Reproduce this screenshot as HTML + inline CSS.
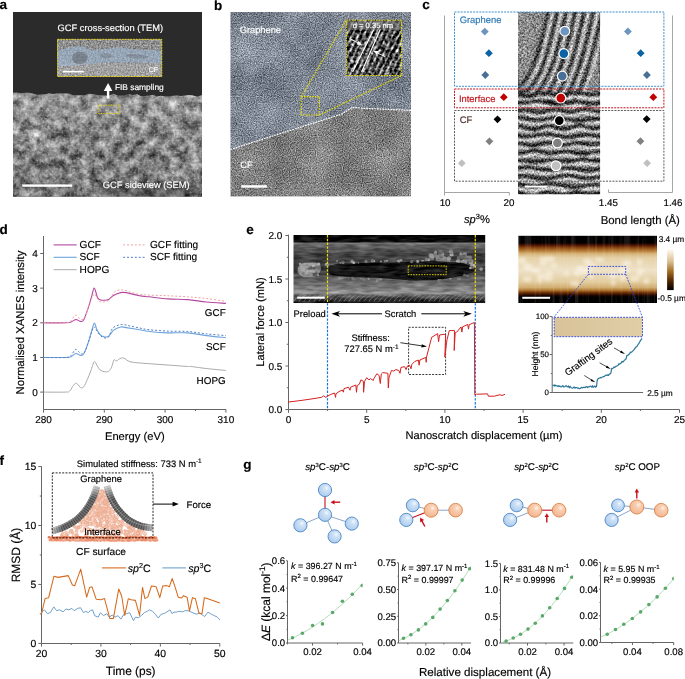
<!DOCTYPE html><html><head><meta charset="utf-8"><title>Figure</title><style>html,body{margin:0;padding:0;background:#fff;}svg{display:block;font-family:"Liberation Sans",sans-serif;text-rendering:geometricPrecision;will-change:transform;}</style></head><body><svg width="685" height="679" viewBox="0 0 685 679"><defs><clipPath id="cA"><path d="M13,92.87 L17,92.6 L21,93.36 L25,92.83 L29,92.67 L33,93.53 L37,94.82 L41,94.59 L45,94.56 L49,93.31 L53,94.12 L57,93.55 L61,93.35 L65,93.24 L69,93.56 L73,95.32 L77,95.14 L81,95.14 L85,95.17 L89,93.77 L93,94.1 L97,94.92 L101,95.22 L105,95.57 L109,95.68 L113,93.83 L117,95.13 L121,95.34 L125,95 L129,94.26 L133,95.02 L137,94.15 L141,96.24 L145,96.12 L149,95.41 L153,94.87 L157,96.39 L161,95.63 L165,96.43 L169,96.4 L173,95.64 L177,95.46 L181,95.96 L185,95.61 L189,95.02 L193,95.41 L197,96.68 L202,94.89 L202,196.5 L13,196.5 Z"/></clipPath><filter id="fSemA" filterUnits="userSpaceOnUse" x="13" y="90" width="189" height="107" color-interpolation-filters="sRGB"><feTurbulence type="fractalNoise" baseFrequency="0.1" numOctaves="3" seed="7" result="a"/><feTurbulence type="fractalNoise" baseFrequency="0.35" numOctaves="2" seed="3" result="b"/><feComposite in="a" in2="b" operator="arithmetic" k2="0.75" k3="0.25" result="c"/><feColorMatrix in="c" type="matrix" values="1.4 0 0 0 -0.22 1.4 0 0 0 -0.22 1.4 0 0 0 -0.22 0 0 0 0 1"/></filter><filter id="fSemA2" color-interpolation-filters="sRGB" filterUnits="userSpaceOnUse" x="13" y="90" width="189" height="107"><feTurbulence type="fractalNoise" baseFrequency="0.5" numOctaves="2" seed="11"/><feColorMatrix type="matrix" values="0 0 0 0 1 0 0 0 0 1 0 0 0 0 1 2.2 0 0 0 -1.05"/></filter><linearGradient id="gSemA" x1="0" y1="0" x2="0" y2="1"><stop offset="0" stop-color="#fff" stop-opacity="0.25"/><stop offset="0.35" stop-color="#fff" stop-opacity="0.05"/><stop offset="1" stop-color="#000" stop-opacity="0.1"/></linearGradient><filter id="fTemA" filterUnits="userSpaceOnUse" x="57.6" y="39.3" width="104.2" height="37.2" color-interpolation-filters="sRGB"><feTurbulence type="fractalNoise" baseFrequency="0.6" numOctaves="2" seed="3"/><feColorMatrix type="matrix" values="0.6 0 0 0 0.26 0.6 0 0 0 0.26 0.6 0 0 0 0.26 0 0 0 0 1"/></filter><clipPath id="cBu"><path d="M230.6,12 L411,12 L411,110.4 L390,109.4 L366.7,108.4 L352,107.4 L346,111.5 L341,114.3 L320,121 L290,130.5 L260,140 L230.6,149.5 Z"/></clipPath><clipPath id="cBl"><path d="M230.6,149.5 L260,140 L290,130.5 L320,121 L341,114.3 L346,111.5 L352,107.4 L366.7,108.4 L390,109.4 L411,110.4 L411,196.2 L230.6,196.2 Z"/></clipPath><filter id="fBu" filterUnits="userSpaceOnUse" x="230.6" y="12" width="180.4" height="184.2" color-interpolation-filters="sRGB"><feTurbulence type="fractalNoise" baseFrequency="0.85" numOctaves="2" seed="5"/><feColorMatrix type="matrix" values="0.9 0 0 0 0.04 0.9 0 0 0 0.08 0.9 0 0 0 0.14 0 0 0 0 1"/></filter><filter id="fBl" filterUnits="userSpaceOnUse" x="230.6" y="12" width="180.4" height="184.2" color-interpolation-filters="sRGB"><feTurbulence type="fractalNoise" baseFrequency="0.85" numOctaves="2" seed="9"/><feColorMatrix type="matrix" values="0.95 0 0 0 0.03 0.95 0 0 0 0.03 0.95 0 0 0 0.03 0 0 0 0 1"/></filter><filter id="fBc" filterUnits="userSpaceOnUse" x="230.6" y="12" width="180.4" height="184.2" color-interpolation-filters="sRGB"><feTurbulence type="fractalNoise" baseFrequency="0.03" numOctaves="3" seed="2"/><feColorMatrix type="matrix" values="1.2 0 0 0 -0.1 1.2 0 0 0 -0.1 1.2 0 0 0 -0.1 0 0 0 0 1"/></filter><clipPath id="cBi"><rect x="346.3" y="20.2" width="55.30000000000001" height="55.3"/></clipPath><filter id="fBi" filterUnits="userSpaceOnUse" x="346.3" y="20.2" width="55.3" height="55.3" color-interpolation-filters="sRGB"><feGaussianBlur in="SourceGraphic" stdDeviation="0.7" result="bl"/><feTurbulence type="fractalNoise" baseFrequency="0.3" numOctaves="2" seed="13" result="n"/><feColorMatrix in="n" type="matrix" values="1 0 0 0 0 1 0 0 0 0 1 0 0 0 0 0 0 0 0 1" result="ng"/><feComposite in="bl" in2="ng" operator="arithmetic" k1="0" k2="1" k3="1.4" k4="-0.7" result="c"/><feComposite in="c" in2="SourceAlpha" operator="in"/></filter><clipPath id="cC"><rect x="518" y="12.1" width="82.10000000000002" height="182.20000000000002"/></clipPath><filter id="fC" filterUnits="userSpaceOnUse" x="518" y="12.1" width="82.1" height="182.2" color-interpolation-filters="sRGB"><feGaussianBlur in="SourceGraphic" stdDeviation="0.8" result="bl"/><feTurbulence type="fractalNoise" baseFrequency="0.55" numOctaves="2" seed="21" result="n"/><feColorMatrix in="n" type="matrix" values="1 0 0 0 0 1 0 0 0 0 1 0 0 0 0 0 0 0 0 1" result="ng"/><feComposite in="bl" in2="ng" operator="arithmetic" k1="0" k2="1" k3="1.1" k4="-0.55" result="c"/><feComposite in="c" in2="SourceAlpha" operator="in"/></filter><filter id="fC2" filterUnits="userSpaceOnUse" x="518" y="12.1" width="82.1" height="182.2" color-interpolation-filters="sRGB"><feTurbulence type="fractalNoise" baseFrequency="0.09" numOctaves="3" seed="8"/><feColorMatrix type="matrix" values="1 0 0 0 0 1 0 0 0 0 1 0 0 0 0 0 0 0 0 1"/></filter><clipPath id="cE"><rect x="293.5" y="235" width="191.7" height="68.19999999999999"/></clipPath><filter id="fE" filterUnits="userSpaceOnUse" x="293.5" y="235" width="191.7" height="68.2" color-interpolation-filters="sRGB"><feGaussianBlur in="SourceGraphic" stdDeviation="0.5" result="bl"/><feTurbulence type="fractalNoise" baseFrequency="0.07 0.3" numOctaves="2" seed="31" result="n"/><feColorMatrix in="n" type="matrix" values="1 0 0 0 0 1 0 0 0 0 1 0 0 0 0 0 0 0 0 1" result="ng"/><feComposite in="bl" in2="ng" operator="arithmetic" k1="0" k2="1" k3="0.4" k4="-0.2" result="c"/><feComposite in="c" in2="SourceAlpha" operator="in"/></filter><linearGradient id="gE" x1="0" y1="0" x2="0" y2="1"><stop offset="0" stop-color="#080808"/><stop offset="0.1" stop-color="#0c0c0c"/><stop offset="0.12" stop-color="#7a7a7a"/><stop offset="0.14" stop-color="#6a6a6a"/><stop offset="0.22" stop-color="#505050"/><stop offset="0.32" stop-color="#3e3e3e"/><stop offset="0.4" stop-color="#474747"/><stop offset="0.51" stop-color="#3c3c3c"/><stop offset="0.63" stop-color="#5e5e5e"/><stop offset="0.73" stop-color="#6e6e6e"/><stop offset="0.82" stop-color="#868686"/><stop offset="0.85" stop-color="#9a9a9a"/><stop offset="0.89" stop-color="#5a5a5a"/><stop offset="0.95" stop-color="#2a2a2a"/><stop offset="1" stop-color="#151515"/></linearGradient><linearGradient id="gAfm" x1="0" y1="0" x2="0" y2="1"><stop offset="0" stop-color="#000"/><stop offset="0.11" stop-color="#050000"/><stop offset="0.14" stop-color="#4a1000"/><stop offset="0.18" stop-color="#8a4510"/><stop offset="0.23" stop-color="#b8803a"/><stop offset="0.27" stop-color="#d6b47a"/><stop offset="0.33" stop-color="#e4d0a6"/><stop offset="0.51" stop-color="#eee2c8"/><stop offset="0.69" stop-color="#e2cc9e"/><stop offset="0.77" stop-color="#d0ac70"/><stop offset="0.81" stop-color="#b07a34"/><stop offset="0.84" stop-color="#7a3a08"/><stop offset="0.88" stop-color="#2a0800"/><stop offset="0.91" stop-color="#000"/><stop offset="1" stop-color="#000"/></linearGradient><clipPath id="cAfm"><rect x="518.2" y="235.6" width="138.79999999999995" height="67.4"/></clipPath><filter id="fAfm" filterUnits="userSpaceOnUse" x="518.2" y="235.6" width="138.79999999999995" height="67.4" color-interpolation-filters="sRGB"><feTurbulence type="fractalNoise" baseFrequency="0.35 0.015" numOctaves="2" seed="4"/><feColorMatrix type="matrix" values="0 0 0 0 1 0 0 0 0 0.96 0 0 0 0 0.88 2.2 0 0 0 -1.0"/></filter><filter id="fBlob" x="-50%" y="-50%" width="200%" height="200%"><feGaussianBlur stdDeviation="1.6"/></filter><linearGradient id="gCb" x1="0" y1="0" x2="0" y2="1"><stop offset="0" stop-color="#fffaf0"/><stop offset="0.3" stop-color="#d8bf90"/><stop offset="0.55" stop-color="#a06a20"/><stop offset="0.8" stop-color="#4a2000"/><stop offset="1" stop-color="#000"/></linearGradient><linearGradient id="gTan" x1="0" y1="0" x2="1" y2="0"><stop offset="0" stop-color="#d8c39a"/><stop offset="1" stop-color="#e0cea6"/></linearGradient><filter id="fCf" x="-10%" y="-50%" width="120%" height="200%"><feGaussianBlur stdDeviation="0.5"/></filter><linearGradient id="gFadeV" x1="0" y1="480" x2="0" y2="498" gradientUnits="userSpaceOnUse"><stop offset="0" stop-color="#fff" stop-opacity="0"/><stop offset="1" stop-color="#fff" stop-opacity="1"/></linearGradient><linearGradient id="gFadeH" x1="50" y1="0" x2="155" y2="0" gradientUnits="userSpaceOnUse"><stop offset="0" stop-color="#fff" stop-opacity="0.35"/><stop offset="0.12" stop-color="#fff" stop-opacity="1"/><stop offset="0.88" stop-color="#fff" stop-opacity="1"/><stop offset="1" stop-color="#fff" stop-opacity="0.35"/></linearGradient><mask id="mBand" maskUnits="userSpaceOnUse" x="40" y="470" width="130" height="80"><rect x="40" y="470" width="130" height="80" fill="url(#gFadeV)"/></mask><mask id="mBand2" maskUnits="userSpaceOnUse" x="40" y="470" width="130" height="80"><rect x="40" y="470" width="130" height="80" fill="url(#gFadeH)"/></mask><radialGradient id="sB" cx="0.62" cy="0.35" r="0.75"><stop offset="0" stop-color="#f4f9ff"/><stop offset="0.25" stop-color="#cfe2f6"/><stop offset="1" stop-color="#a5c8ec"/></radialGradient><radialGradient id="sO" cx="0.62" cy="0.35" r="0.75"><stop offset="0" stop-color="#fff3ea"/><stop offset="0.25" stop-color="#f9cfb2"/><stop offset="1" stop-color="#f2b08a"/></radialGradient><clipPath id="cG0"><rect x="287.5" y="555.8" width="75.1" height="87.2"/></clipPath><clipPath id="cG1"><rect x="398.5" y="557.8" width="72.5" height="85.2"/></clipPath><clipPath id="cG2"><rect x="500.5" y="558.4" width="72.7" height="84.6"/></clipPath><clipPath id="cG3"><rect x="600.5" y="557.4" width="73.2" height="85.1"/></clipPath></defs><text x="-0.5" y="9.3" font-size="13.5" font-weight="bold" stroke="#000" stroke-width="0.16">a</text>
<rect x="13" y="12" width="189" height="184.5" fill="#2b2b2b"/>
<g clip-path="url(#cA)"><rect x="13" y="90" width="189" height="107" filter="url(#fSemA)"/><rect x="13" y="90" width="189" height="107" filter="url(#fSemA2)" opacity="0.35"/><rect x="13" y="90" width="189" height="107" fill="url(#gSemA)"/><ellipse cx="150" cy="189" rx="50" ry="8" fill="#222" opacity="0.3" filter="url(#fBlob)"/></g>
<rect x="57.6" y="39.3" width="104.20000000000002" height="37.2" filter="url(#fTemA)"/>
<rect x="57.6" y="63" width="104.20000000000002" height="13.5" fill="#fff" opacity="0.16"/>
<path d="M57.6,50.5 L62,49 L67,48 L72,47 L78,46.5 L84,47 L88,49 L92,50 L97,49.5 L102,49 L108,48.5 L114,47.5 L120,47.5 L126,48.5 L132,49 L140,49.5 L150,50 L161.8,50.5 L161.8,63.5 L150,63 L140,62.5 L130,62.5 L120,62.5 L110,62.5 L100,63 L90,64 L80,65 L70,66 L62,66 L57.6,66 Z" fill="#9fbde0" opacity="0.5"/>
<ellipse cx="79.8" cy="58" rx="7.5" ry="6.2" fill="#4a4a4a" opacity="0.4"/>
<path d="M125,55 C132,53 140,54 148,56 C150,58 144,59 138,58.5 C132,58 127,57.5 125,55 Z" fill="#555" opacity="0.3"/>
<path d="M100,54 C104,52 110,53 113,56 C110,59 104,59 100,57 Z" fill="#555" opacity="0.25"/>
<rect x="57.6" y="39.3" width="104.20000000000002" height="37.2" fill="none" stroke="#e8d200" stroke-width="1" stroke-dasharray="1.6,1.2"/>
<rect x="63" y="70.8" width="20.6" height="1.6" fill="#fff"/>
<text x="153.4" y="72.3" font-size="6.8" text-anchor="middle" fill="#fff" stroke="#fff" stroke-width="0.16">CF</text>
<text x="110.3" y="30.9" font-size="9.3" text-anchor="middle" fill="#fff" stroke="#fff" stroke-width="0.16">GCF cross-section (TEM)</text>
<path d="M106.9,91 L106.9,98.5 L109.3,98.5 L109.3,91 L112.4,91 L108.1,83 L103.8,91 Z" fill="#fff"/>
<text x="114.9" y="89.7" font-size="8.4" fill="#fff" stroke="#fff" stroke-width="0.16">FIB sampling</text>
<rect x="98.2" y="105.2" width="21.6" height="8.3" fill="none" stroke="#e8d200" stroke-width="0.9" stroke-dasharray="1.4,1.1"/>
<rect x="22.3" y="184.4" width="49.9" height="2.4" fill="#fff"/>
<text x="146.2" y="187.8" font-size="9.3" text-anchor="middle" fill="#fff" stroke="#fff" stroke-width="0.16">GCF sideview (SEM)</text>
<text x="214" y="9.6" font-size="13.5" font-weight="bold" stroke="#000" stroke-width="0.16">b</text>
<g clip-path="url(#cBu)"><rect x="230.6" y="12" width="180.4" height="184.2" filter="url(#fBu)"/></g>
<g clip-path="url(#cBl)"><rect x="230.6" y="12" width="180.4" height="184.2" filter="url(#fBl)"/></g>
<rect x="230.6" y="12" width="180.4" height="184.2" filter="url(#fBc)" opacity="0.2"/>
<path d="M230.6,149.5 L260,140 L290,130.5 L320,121 L341,114.3 L346,111.5 L352,107.4 L366.7,108.4 L390,109.4 L411,110.4" fill="none" stroke="#fff" stroke-width="1.2" stroke-dasharray="1.6,1.1"/>
<rect x="301.3" y="96.6" width="18.1" height="18.4" fill="none" stroke="#e8e000" stroke-width="1.1" stroke-dasharray="1.6,1.1"/>
<path d="M301.3,96.6 L346.3,20.2 M319.4,115 L401.6,75.5" fill="none" stroke="#e8e000" stroke-width="1.1" stroke-dasharray="1.6,1.1"/>
<g clip-path="url(#cBi)"><g filter="url(#fBi)"><rect x="346.3" y="20.2" width="55.30000000000001" height="55.3" fill="#5a5a5a"/><line x1="273.8" y1="82" x2="307.8" y2="14" stroke="#282828" stroke-width="2.6"/><line x1="276.7" y1="82" x2="310.7" y2="14" stroke="#9a9a9a" stroke-width="1.5"/><line x1="279.6" y1="82" x2="313.6" y2="14" stroke="#282828" stroke-width="2.6"/><line x1="282.5" y1="82" x2="316.5" y2="14" stroke="#9a9a9a" stroke-width="1.5"/><line x1="285.4" y1="82" x2="319.4" y2="14" stroke="#282828" stroke-width="2.6"/><line x1="288.3" y1="82" x2="322.3" y2="14" stroke="#9a9a9a" stroke-width="1.5"/><line x1="291.2" y1="82" x2="325.2" y2="14" stroke="#282828" stroke-width="2.6"/><line x1="294.1" y1="82" x2="328.1" y2="14" stroke="#9a9a9a" stroke-width="1.5"/><line x1="297" y1="82" x2="331" y2="14" stroke="#282828" stroke-width="2.6"/><line x1="299.9" y1="82" x2="333.9" y2="14" stroke="#9a9a9a" stroke-width="1.5"/><line x1="302.8" y1="82" x2="336.8" y2="14" stroke="#282828" stroke-width="2.6"/><line x1="305.7" y1="82" x2="339.7" y2="14" stroke="#9a9a9a" stroke-width="1.5"/><line x1="308.6" y1="82" x2="342.6" y2="14" stroke="#282828" stroke-width="2.6"/><line x1="311.5" y1="82" x2="345.5" y2="14" stroke="#9a9a9a" stroke-width="1.5"/><line x1="314.4" y1="82" x2="348.4" y2="14" stroke="#282828" stroke-width="2.6"/><line x1="317.3" y1="82" x2="351.3" y2="14" stroke="#9a9a9a" stroke-width="1.5"/><line x1="320.2" y1="82" x2="354.2" y2="14" stroke="#282828" stroke-width="2.6"/><line x1="323.1" y1="82" x2="357.1" y2="14" stroke="#9a9a9a" stroke-width="1.5"/><line x1="326" y1="82" x2="360" y2="14" stroke="#282828" stroke-width="2.6"/><line x1="328.9" y1="82" x2="362.9" y2="14" stroke="#9a9a9a" stroke-width="1.5"/><line x1="331.8" y1="82" x2="365.8" y2="14" stroke="#282828" stroke-width="2.6"/><line x1="334.7" y1="82" x2="368.7" y2="14" stroke="#9a9a9a" stroke-width="1.5"/><line x1="337.6" y1="82" x2="371.6" y2="14" stroke="#282828" stroke-width="2.6"/><line x1="340.5" y1="82" x2="374.5" y2="14" stroke="#9a9a9a" stroke-width="1.5"/><line x1="343.4" y1="82" x2="377.4" y2="14" stroke="#282828" stroke-width="2.6"/><line x1="346.3" y1="82" x2="380.3" y2="14" stroke="#9a9a9a" stroke-width="1.5"/><line x1="349.2" y1="82" x2="383.2" y2="14" stroke="#282828" stroke-width="2.6"/><line x1="352.1" y1="82" x2="386.1" y2="14" stroke="#9a9a9a" stroke-width="1.5"/><line x1="355" y1="82" x2="389" y2="14" stroke="#282828" stroke-width="2.6"/><line x1="357.9" y1="82" x2="391.9" y2="14" stroke="#9a9a9a" stroke-width="1.5"/><line x1="360.8" y1="82" x2="394.8" y2="14" stroke="#282828" stroke-width="2.6"/><line x1="363.7" y1="82" x2="397.7" y2="14" stroke="#9a9a9a" stroke-width="1.5"/><line x1="366.6" y1="82" x2="400.6" y2="14" stroke="#282828" stroke-width="2.6"/><line x1="369.5" y1="82" x2="403.5" y2="14" stroke="#9a9a9a" stroke-width="1.5"/><line x1="372.4" y1="82" x2="406.4" y2="14" stroke="#282828" stroke-width="2.6"/><line x1="375.3" y1="82" x2="409.3" y2="14" stroke="#9a9a9a" stroke-width="1.5"/><line x1="378.2" y1="82" x2="412.2" y2="14" stroke="#282828" stroke-width="2.6"/><line x1="381.1" y1="82" x2="415.1" y2="14" stroke="#9a9a9a" stroke-width="1.5"/><line x1="384" y1="82" x2="418" y2="14" stroke="#282828" stroke-width="2.6"/><line x1="386.9" y1="82" x2="420.9" y2="14" stroke="#9a9a9a" stroke-width="1.5"/><line x1="389.8" y1="82" x2="423.8" y2="14" stroke="#282828" stroke-width="2.6"/><line x1="392.7" y1="82" x2="426.7" y2="14" stroke="#9a9a9a" stroke-width="1.5"/><line x1="395.6" y1="82" x2="429.6" y2="14" stroke="#282828" stroke-width="2.6"/><line x1="398.5" y1="82" x2="432.5" y2="14" stroke="#9a9a9a" stroke-width="1.5"/><line x1="401.4" y1="82" x2="435.4" y2="14" stroke="#282828" stroke-width="2.6"/><line x1="404.3" y1="82" x2="438.3" y2="14" stroke="#9a9a9a" stroke-width="1.5"/><line x1="407.2" y1="82" x2="441.2" y2="14" stroke="#282828" stroke-width="2.6"/><line x1="410.1" y1="82" x2="444.1" y2="14" stroke="#9a9a9a" stroke-width="1.5"/><line x1="413" y1="82" x2="447" y2="14" stroke="#282828" stroke-width="2.6"/><line x1="415.9" y1="82" x2="449.9" y2="14" stroke="#9a9a9a" stroke-width="1.5"/><line x1="418.8" y1="82" x2="452.8" y2="14" stroke="#282828" stroke-width="2.6"/><line x1="421.7" y1="82" x2="455.7" y2="14" stroke="#9a9a9a" stroke-width="1.5"/><line x1="424.6" y1="82" x2="458.6" y2="14" stroke="#282828" stroke-width="2.6"/><line x1="427.5" y1="82" x2="461.5" y2="14" stroke="#9a9a9a" stroke-width="1.5"/><line x1="430.4" y1="82" x2="464.4" y2="14" stroke="#282828" stroke-width="2.6"/><line x1="433.3" y1="82" x2="467.3" y2="14" stroke="#9a9a9a" stroke-width="1.5"/><line x1="436.2" y1="82" x2="470.2" y2="14" stroke="#282828" stroke-width="2.6"/><line x1="439.1" y1="82" x2="473.1" y2="14" stroke="#9a9a9a" stroke-width="1.5"/><line x1="442" y1="82" x2="476" y2="14" stroke="#282828" stroke-width="2.6"/><line x1="444.9" y1="82" x2="478.9" y2="14" stroke="#9a9a9a" stroke-width="1.5"/><circle cx="380.75" cy="61.22" r="1.95" fill="#666" opacity="0.55"/><circle cx="382.36" cy="49.51" r="2.01" fill="#111" opacity="0.55"/><circle cx="382.19" cy="70.02" r="1.14" fill="#ddd" opacity="0.55"/><circle cx="394.33" cy="41.26" r="1.12" fill="#111" opacity="0.55"/><circle cx="347.03" cy="32.19" r="1.34" fill="#ddd" opacity="0.55"/><circle cx="355.13" cy="64.28" r="1.17" fill="#666" opacity="0.55"/><circle cx="370.9" cy="27.51" r="2.17" fill="#111" opacity="0.55"/><circle cx="357.88" cy="32.12" r="2.18" fill="#111" opacity="0.55"/><circle cx="362.3" cy="73.37" r="1.65" fill="#666" opacity="0.55"/><circle cx="380.9" cy="30.25" r="2.16" fill="#111" opacity="0.55"/><circle cx="399.75" cy="69.62" r="1.36" fill="#ddd" opacity="0.55"/><circle cx="369.24" cy="71.95" r="1.32" fill="#ddd" opacity="0.55"/><circle cx="362.97" cy="53.55" r="1" fill="#666" opacity="0.55"/><circle cx="385.43" cy="23.85" r="1.43" fill="#ddd" opacity="0.55"/><circle cx="372.89" cy="37.66" r="1.58" fill="#666" opacity="0.55"/><circle cx="356.04" cy="34.37" r="2.13" fill="#666" opacity="0.55"/><circle cx="366.08" cy="42.56" r="1.66" fill="#ddd" opacity="0.55"/><circle cx="366.55" cy="52.19" r="1.01" fill="#111" opacity="0.55"/><circle cx="385.44" cy="54.69" r="2.15" fill="#111" opacity="0.55"/><circle cx="388.09" cy="71.61" r="2.13" fill="#ddd" opacity="0.55"/><circle cx="374.64" cy="69.57" r="1.3" fill="#ddd" opacity="0.55"/><circle cx="352.28" cy="61.59" r="1.96" fill="#ddd" opacity="0.55"/><circle cx="348.33" cy="72.5" r="1.11" fill="#ddd" opacity="0.55"/><circle cx="374.66" cy="40.25" r="1.18" fill="#ddd" opacity="0.55"/><circle cx="397.41" cy="50.35" r="1.37" fill="#ddd" opacity="0.55"/><circle cx="363.23" cy="64.37" r="1.75" fill="#666" opacity="0.55"/><circle cx="384.41" cy="75.32" r="1.19" fill="#111" opacity="0.55"/><circle cx="350.78" cy="53.42" r="2.11" fill="#111" opacity="0.55"/><circle cx="359.42" cy="53.05" r="1.99" fill="#ddd" opacity="0.55"/><circle cx="382.3" cy="28.25" r="2.17" fill="#666" opacity="0.55"/><circle cx="348.11" cy="47.49" r="2.01" fill="#111" opacity="0.55"/><circle cx="400.57" cy="51.39" r="1.16" fill="#ddd" opacity="0.55"/><circle cx="352.2" cy="44.23" r="1.18" fill="#ddd" opacity="0.55"/><circle cx="362.6" cy="45.26" r="2.2" fill="#111" opacity="0.55"/><circle cx="400.27" cy="45.28" r="1.59" fill="#666" opacity="0.55"/><circle cx="363.87" cy="35.35" r="1.56" fill="#111" opacity="0.55"/><circle cx="352.52" cy="65.66" r="1.64" fill="#111" opacity="0.55"/><circle cx="380.97" cy="47.81" r="1.41" fill="#111" opacity="0.55"/><circle cx="373.5" cy="48.69" r="1.66" fill="#666" opacity="0.55"/><circle cx="366.28" cy="63.67" r="1.93" fill="#666" opacity="0.55"/></g></g>
<g clip-path="url(#cBi)"><line x1="352.6" y1="72" x2="374.3" y2="28.6" stroke="#fff" stroke-width="1.2"/><line x1="361.6" y1="72" x2="380.4" y2="29" stroke="#fff" stroke-width="1.2"/></g>
<rect x="346.3" y="20.2" width="55.30000000000001" height="55.3" fill="none" stroke="#e8e000" stroke-width="1.1" stroke-dasharray="1.6,1.1"/>
<rect x="346.90000000000003" y="20.8" width="54.10000000000001" height="9" fill="#7a7a7a" opacity="0.6"/>
<text x="372.9" y="27.8" font-size="7.6" text-anchor="middle" fill="#fff" stroke="#fff" stroke-width="0.16">d = 0.35 nm</text>
<path d="M349.7,38.5 L358.8,43.4" stroke="#fff" stroke-width="0.9"/><path d="M362,45.1 L356.6,44.6 L358.6,41 Z" fill="#fff"/>
<path d="M385.5,56.9 L376.4,52.4" stroke="#fff" stroke-width="0.9"/><path d="M373.2,50.8 L378.6,51.1 L376.8,54.7 Z" fill="#fff"/>
<text x="239.7" y="32.7" font-size="9.3" fill="#fff" stroke="#fff" stroke-width="0.16">Graphene</text>
<text x="240.3" y="168.4" font-size="9.3" fill="#fff" stroke="#fff" stroke-width="0.16">CF</text>
<rect x="241.3" y="185.2" width="25.6" height="2.5" fill="#fff"/>
<text x="422.3" y="9.3" font-size="13.5" font-weight="bold" stroke="#000" stroke-width="0.16">c</text>
<g clip-path="url(#cC)"><g filter="url(#fC)"><rect x="518" y="12.1" width="82.10000000000002" height="182.20000000000002" fill="#8a8a8a"/><path d="M549,8 C541,45 535,70 523,83 S498,87 473,89" fill="none" stroke="#1a1a1a" stroke-width="3"/><path d="M553.5,8 C545.5,45 539.5,70 527.5,86 S503,90 478,92" fill="none" stroke="#e4e4e4" stroke-width="2.6"/><path d="M558,8 C550,45 544,70 532,85 S507,89 482,91" fill="none" stroke="#1a1a1a" stroke-width="3"/><path d="M562.5,8 C554.5,45 548.5,70 536.5,88 S512,92 487,94" fill="none" stroke="#e4e4e4" stroke-width="2.6"/><path d="M567,8 C559,45 553,70 541,87 S516,91 491,93" fill="none" stroke="#1a1a1a" stroke-width="3"/><path d="M571.5,8 C563.5,45 557.5,70 545.5,90 S521,94 496,96" fill="none" stroke="#e4e4e4" stroke-width="2.6"/><path d="M576,8 C568,45 562,70 550,89 S525,93 500,95" fill="none" stroke="#1a1a1a" stroke-width="3"/><path d="M580.5,8 C572.5,45 566.5,70 554.5,92 S530,96 505,98" fill="none" stroke="#e4e4e4" stroke-width="2.6"/><path d="M585,8 C577,45 571,70 559,91 S534,95 509,97" fill="none" stroke="#1a1a1a" stroke-width="3"/><path d="M589.5,8 C581.5,45 575.5,70 563.5,94 S539,98 514,100" fill="none" stroke="#e4e4e4" stroke-width="2.6"/><path d="M594,8 C586,45 580,70 568,93 S543,97 518,99" fill="none" stroke="#1a1a1a" stroke-width="3"/><path d="M598.5,8 C590.5,45 584.5,70 572.5,96 S548,100 523,102" fill="none" stroke="#e4e4e4" stroke-width="2.6"/><path d="M603,8 C595,45 589,70 577,95 S552,99 527,101" fill="none" stroke="#1a1a1a" stroke-width="3"/><path d="M607.5,8 C599.5,45 593.5,70 581.5,98 S557,102 532,104" fill="none" stroke="#e4e4e4" stroke-width="2.6"/><path d="M512,93.59 C512.67,93.64 514.67,93.68 516,93.84 C517.33,94.01 518.67,94.33 520,94.57 C521.33,94.81 522.67,95.14 524,95.31 C525.33,95.48 526.67,95.62 528,95.61 C529.33,95.59 530.67,95.44 532,95.24 C533.33,95.04 534.67,94.69 536,94.4 C537.33,94.12 538.67,93.75 540,93.54 C541.33,93.32 542.67,93.15 544,93.12 C545.33,93.08 546.67,93.19 548,93.35 C549.33,93.51 550.67,93.82 552,94.07 C553.33,94.31 554.67,94.64 556,94.82 C557.33,94.99 558.67,95.13 560,95.12 C561.33,95.12 562.67,94.98 564,94.78 C565.33,94.58 566.67,94.23 568,93.94 C569.33,93.66 570.67,93.29 572,93.07 C573.33,92.86 574.67,92.67 576,92.64 C577.33,92.6 578.67,92.7 580,92.85 C581.33,93.01 582.67,93.32 584,93.56 C585.33,93.81 586.67,94.14 588,94.32 C589.33,94.5 590.67,94.64 592,94.64 C593.33,94.64 594.67,94.51 596,94.31 C597.33,94.12 598.67,93.77 600,93.49 C601.33,93.2 603.33,92.76 604,92.61" fill="none" stroke="#0c0c0c" stroke-width="3.3"/><path d="M512,97.79 C512.67,97.84 514.67,97.88 516,98.04 C517.33,98.21 518.67,98.53 520,98.77 C521.33,99.01 522.67,99.34 524,99.51 C525.33,99.68 526.67,99.82 528,99.81 C529.33,99.79 530.67,99.64 532,99.44 C533.33,99.24 534.67,98.89 536,98.6 C537.33,98.32 538.67,97.95 540,97.74 C541.33,97.52 542.67,97.35 544,97.32 C545.33,97.28 546.67,97.39 548,97.55 C549.33,97.71 550.67,98.02 552,98.27 C553.33,98.51 554.67,98.84 556,99.02 C557.33,99.19 558.67,99.33 560,99.32 C561.33,99.32 562.67,99.18 564,98.98 C565.33,98.78 566.67,98.43 568,98.14 C569.33,97.86 570.67,97.49 572,97.27 C573.33,97.06 574.67,96.87 576,96.84 C577.33,96.8 578.67,96.9 580,97.05 C581.33,97.21 582.67,97.52 584,97.76 C585.33,98.01 586.67,98.34 588,98.52 C589.33,98.7 590.67,98.84 592,98.84 C593.33,98.84 594.67,98.71 596,98.51 C597.33,98.32 598.67,97.97 600,97.69 C601.33,97.4 603.33,96.96 604,96.81" fill="none" stroke="#f6f6f6" stroke-width="2.7"/><path d="M512,101.58 C512.67,101.68 514.67,102.05 516,102.22 C517.33,102.39 518.67,102.54 520,102.6 C521.33,102.66 522.67,102.63 524,102.56 C525.33,102.48 526.67,102.31 528,102.14 C529.33,101.98 530.67,101.74 532,101.58 C533.33,101.42 534.67,101.24 536,101.16 C537.33,101.07 538.67,101.05 540,101.1 C541.33,101.15 542.67,101.29 544,101.46 C545.33,101.62 546.67,101.88 548,102.1 C549.33,102.31 550.67,102.58 552,102.75 C553.33,102.92 554.67,103.08 556,103.14 C557.33,103.2 558.67,103.18 560,103.11 C561.33,103.03 562.67,102.86 564,102.7 C565.33,102.54 566.67,102.3 568,102.14 C569.33,101.97 570.67,101.79 572,101.71 C573.33,101.62 574.67,101.59 576,101.63 C577.33,101.68 578.67,101.82 580,101.98 C581.33,102.15 582.67,102.4 584,102.62 C585.33,102.84 586.67,103.1 588,103.28 C589.33,103.45 590.67,103.61 592,103.67 C593.33,103.74 594.67,103.72 596,103.65 C597.33,103.59 598.67,103.42 600,103.26 C601.33,103.1 603.33,102.79 604,102.69" fill="none" stroke="#0c0c0c" stroke-width="3.3"/><path d="M512,105.78 C512.67,105.88 514.67,106.25 516,106.42 C517.33,106.59 518.67,106.74 520,106.8 C521.33,106.86 522.67,106.83 524,106.76 C525.33,106.68 526.67,106.51 528,106.34 C529.33,106.18 530.67,105.94 532,105.78 C533.33,105.62 534.67,105.44 536,105.36 C537.33,105.27 538.67,105.25 540,105.3 C541.33,105.35 542.67,105.49 544,105.66 C545.33,105.82 546.67,106.08 548,106.3 C549.33,106.51 550.67,106.78 552,106.95 C553.33,107.12 554.67,107.28 556,107.34 C557.33,107.4 558.67,107.38 560,107.31 C561.33,107.23 562.67,107.06 564,106.9 C565.33,106.74 566.67,106.5 568,106.34 C569.33,106.17 570.67,105.99 572,105.91 C573.33,105.82 574.67,105.79 576,105.83 C577.33,105.88 578.67,106.02 580,106.18 C581.33,106.35 582.67,106.6 584,106.82 C585.33,107.04 586.67,107.3 588,107.48 C589.33,107.65 590.67,107.81 592,107.87 C593.33,107.94 594.67,107.92 596,107.85 C597.33,107.79 598.67,107.62 600,107.46 C601.33,107.3 603.33,106.99 604,106.89" fill="none" stroke="#f6f6f6" stroke-width="2.7"/><path d="M512,112.46 C512.67,112.28 514.67,111.78 516,111.42 C517.33,111.06 518.67,110.56 520,110.28 C521.33,110 522.67,109.76 524,109.73 C525.33,109.7 526.67,109.86 528,110.09 C529.33,110.31 530.67,110.76 532,111.08 C533.33,111.41 534.67,111.83 536,112.04 C537.33,112.24 538.67,112.36 540,112.3 C541.33,112.24 542.67,111.97 544,111.67 C545.33,111.37 546.67,110.86 548,110.5 C549.33,110.14 550.67,109.72 552,109.52 C553.33,109.32 554.67,109.23 556,109.3 C557.33,109.38 558.67,109.67 560,109.96 C561.33,110.25 562.67,110.73 564,111.03 C565.33,111.33 566.67,111.67 568,111.78 C569.33,111.9 570.67,111.87 572,111.7 C573.33,111.54 574.67,111.14 576,110.8 C577.33,110.45 578.67,109.93 580,109.61 C581.33,109.29 582.67,108.97 584,108.87 C585.33,108.77 586.67,108.83 588,109.01 C589.33,109.18 590.67,109.58 592,109.9 C593.33,110.22 594.67,110.68 596,110.93 C597.33,111.18 598.67,111.4 600,111.41 C601.33,111.41 603.33,111.05 604,110.98" fill="none" stroke="#0c0c0c" stroke-width="3.3"/><path d="M512,116.66 C512.67,116.48 514.67,115.98 516,115.62 C517.33,115.26 518.67,114.76 520,114.48 C521.33,114.2 522.67,113.96 524,113.93 C525.33,113.9 526.67,114.06 528,114.29 C529.33,114.51 530.67,114.96 532,115.28 C533.33,115.61 534.67,116.03 536,116.24 C537.33,116.44 538.67,116.56 540,116.5 C541.33,116.44 542.67,116.17 544,115.87 C545.33,115.57 546.67,115.06 548,114.7 C549.33,114.34 550.67,113.92 552,113.72 C553.33,113.52 554.67,113.43 556,113.5 C557.33,113.58 558.67,113.87 560,114.16 C561.33,114.45 562.67,114.93 564,115.23 C565.33,115.53 566.67,115.87 568,115.98 C569.33,116.1 570.67,116.07 572,115.9 C573.33,115.74 574.67,115.34 576,115 C577.33,114.65 578.67,114.13 580,113.81 C581.33,113.49 582.67,113.17 584,113.07 C585.33,112.97 586.67,113.03 588,113.21 C589.33,113.38 590.67,113.78 592,114.1 C593.33,114.42 594.67,114.88 596,115.13 C597.33,115.38 598.67,115.6 600,115.61 C601.33,115.61 603.33,115.25 604,115.18" fill="none" stroke="#f6f6f6" stroke-width="2.7"/><path d="M512,117 C512.67,116.99 514.67,116.9 516,116.95 C517.33,117.01 518.67,117.16 520,117.34 C521.33,117.53 522.67,117.8 524,118.06 C525.33,118.31 526.67,118.63 528,118.87 C529.33,119.12 530.67,119.37 532,119.54 C533.33,119.7 534.67,119.81 536,119.84 C537.33,119.87 538.67,119.81 540,119.7 C541.33,119.59 542.67,119.39 544,119.19 C545.33,118.99 546.67,118.72 548,118.5 C549.33,118.28 550.67,118.04 552,117.88 C553.33,117.73 554.67,117.6 556,117.57 C557.33,117.54 558.67,117.58 560,117.69 C561.33,117.8 562.67,118 564,118.22 C565.33,118.44 566.67,118.74 568,119 C569.33,119.27 570.67,119.57 572,119.79 C573.33,120.01 574.67,120.22 576,120.34 C577.33,120.45 578.67,120.5 580,120.48 C581.33,120.45 582.67,120.33 584,120.18 C585.33,120.03 586.67,119.79 588,119.57 C589.33,119.36 590.67,119.08 592,118.88 C593.33,118.68 594.67,118.47 596,118.36 C597.33,118.24 598.67,118.18 600,118.2 C601.33,118.22 603.33,118.44 604,118.49" fill="none" stroke="#0c0c0c" stroke-width="3.3"/><path d="M512,121.2 C512.67,121.19 514.67,121.1 516,121.15 C517.33,121.21 518.67,121.36 520,121.54 C521.33,121.73 522.67,122 524,122.26 C525.33,122.51 526.67,122.83 528,123.07 C529.33,123.32 530.67,123.57 532,123.74 C533.33,123.9 534.67,124.01 536,124.04 C537.33,124.07 538.67,124.01 540,123.9 C541.33,123.79 542.67,123.59 544,123.39 C545.33,123.19 546.67,122.92 548,122.7 C549.33,122.48 550.67,122.24 552,122.08 C553.33,121.93 554.67,121.8 556,121.77 C557.33,121.74 558.67,121.78 560,121.89 C561.33,122 562.67,122.2 564,122.42 C565.33,122.64 566.67,122.94 568,123.2 C569.33,123.47 570.67,123.77 572,123.99 C573.33,124.21 574.67,124.42 576,124.54 C577.33,124.65 578.67,124.7 580,124.68 C581.33,124.65 582.67,124.53 584,124.38 C585.33,124.23 586.67,123.99 588,123.77 C589.33,123.56 590.67,123.28 592,123.08 C593.33,122.88 594.67,122.67 596,122.56 C597.33,122.44 598.67,122.38 600,122.4 C601.33,122.42 603.33,122.64 604,122.69" fill="none" stroke="#f6f6f6" stroke-width="2.7"/><path d="M512,127.17 C512.67,127 514.67,126.34 516,126.19 C517.33,126.04 518.67,126.07 520,126.25 C521.33,126.44 522.67,126.89 524,127.28 C525.33,127.67 526.67,128.25 528,128.6 C529.33,128.94 530.67,129.27 532,129.34 C533.33,129.41 534.67,129.27 536,129.01 C537.33,128.75 538.67,128.21 540,127.77 C541.33,127.33 542.67,126.73 544,126.37 C545.33,126.01 546.67,125.7 548,125.63 C549.33,125.57 550.67,125.73 552,125.99 C553.33,126.24 554.67,126.77 556,127.17 C557.33,127.58 558.67,128.13 560,128.41 C561.33,128.7 562.67,128.92 564,128.9 C565.33,128.88 566.67,128.61 568,128.28 C569.33,127.96 570.67,127.36 572,126.92 C573.33,126.48 574.67,125.91 576,125.62 C577.33,125.32 578.67,125.13 580,125.15 C581.33,125.18 582.67,125.46 584,125.78 C585.33,126.1 586.67,126.67 588,127.07 C589.33,127.46 590.67,127.96 592,128.17 C593.33,128.39 594.67,128.49 596,128.38 C597.33,128.27 598.67,127.89 600,127.51 C601.33,127.12 603.33,126.31 604,126.07" fill="none" stroke="#0c0c0c" stroke-width="3.3"/><path d="M512,131.37 C512.67,131.2 514.67,130.54 516,130.39 C517.33,130.24 518.67,130.27 520,130.45 C521.33,130.64 522.67,131.09 524,131.48 C525.33,131.87 526.67,132.45 528,132.8 C529.33,133.14 530.67,133.47 532,133.54 C533.33,133.61 534.67,133.47 536,133.21 C537.33,132.95 538.67,132.41 540,131.97 C541.33,131.53 542.67,130.93 544,130.57 C545.33,130.21 546.67,129.9 548,129.83 C549.33,129.77 550.67,129.93 552,130.19 C553.33,130.44 554.67,130.97 556,131.37 C557.33,131.78 558.67,132.33 560,132.61 C561.33,132.9 562.67,133.12 564,133.1 C565.33,133.08 566.67,132.81 568,132.48 C569.33,132.16 570.67,131.56 572,131.12 C573.33,130.68 574.67,130.11 576,129.82 C577.33,129.52 578.67,129.33 580,129.35 C581.33,129.38 582.67,129.66 584,129.98 C585.33,130.3 586.67,130.87 588,131.27 C589.33,131.66 590.67,132.16 592,132.37 C593.33,132.59 594.67,132.69 596,132.58 C597.33,132.47 598.67,132.09 600,131.71 C601.33,131.32 603.33,130.51 604,130.27" fill="none" stroke="#f6f6f6" stroke-width="2.7"/><path d="M512,134.28 C512.67,134.42 514.67,134.84 516,135.1 C517.33,135.36 518.67,135.65 520,135.84 C521.33,136.03 522.67,136.18 524,136.25 C525.33,136.31 526.67,136.29 528,136.22 C529.33,136.14 530.67,135.96 532,135.77 C533.33,135.59 534.67,135.32 536,135.09 C537.33,134.87 538.67,134.6 540,134.43 C541.33,134.25 542.67,134.09 544,134.03 C545.33,133.97 546.67,133.97 548,134.05 C549.33,134.13 550.67,134.31 552,134.51 C553.33,134.72 554.67,135.01 556,135.27 C557.33,135.53 558.67,135.85 560,136.09 C561.33,136.33 562.67,136.56 564,136.7 C565.33,136.84 566.67,136.92 568,136.92 C569.33,136.92 570.67,136.83 572,136.7 C573.33,136.56 574.67,136.33 576,136.12 C577.33,135.91 578.67,135.63 580,135.41 C581.33,135.2 582.67,134.97 584,134.84 C585.33,134.71 586.67,134.62 588,134.62 C589.33,134.62 590.67,134.7 592,134.84 C593.33,134.98 594.67,135.22 596,135.46 C597.33,135.7 598.67,136.01 600,136.28 C601.33,136.54 603.33,136.91 604,137.03" fill="none" stroke="#0c0c0c" stroke-width="3.3"/><path d="M512,138.48 C512.67,138.62 514.67,139.04 516,139.3 C517.33,139.56 518.67,139.85 520,140.04 C521.33,140.23 522.67,140.38 524,140.45 C525.33,140.51 526.67,140.49 528,140.42 C529.33,140.34 530.67,140.16 532,139.97 C533.33,139.79 534.67,139.52 536,139.29 C537.33,139.07 538.67,138.8 540,138.63 C541.33,138.45 542.67,138.29 544,138.23 C545.33,138.17 546.67,138.17 548,138.25 C549.33,138.33 550.67,138.51 552,138.71 C553.33,138.92 554.67,139.21 556,139.47 C557.33,139.73 558.67,140.05 560,140.29 C561.33,140.53 562.67,140.76 564,140.9 C565.33,141.04 566.67,141.12 568,141.12 C569.33,141.12 570.67,141.03 572,140.9 C573.33,140.76 574.67,140.53 576,140.32 C577.33,140.11 578.67,139.83 580,139.61 C581.33,139.4 582.67,139.17 584,139.04 C585.33,138.91 586.67,138.82 588,138.82 C589.33,138.82 590.67,138.9 592,139.04 C593.33,139.18 594.67,139.42 596,139.66 C597.33,139.9 598.67,140.21 600,140.48 C601.33,140.74 603.33,141.11 604,141.23" fill="none" stroke="#f6f6f6" stroke-width="2.7"/><path d="M512,144.24 C512.67,144.11 514.67,143.6 516,143.46 C517.33,143.31 518.67,143.28 520,143.36 C521.33,143.45 522.67,143.73 524,143.98 C525.33,144.22 526.67,144.61 528,144.84 C529.33,145.06 530.67,145.28 532,145.32 C533.33,145.35 534.67,145.24 536,145.05 C537.33,144.86 538.67,144.47 540,144.17 C541.33,143.87 542.67,143.46 544,143.25 C545.33,143.03 546.67,142.86 548,142.86 C549.33,142.86 550.67,143.04 552,143.24 C553.33,143.45 554.67,143.83 556,144.08 C557.33,144.34 558.67,144.66 560,144.77 C561.33,144.89 562.67,144.91 564,144.8 C565.33,144.69 566.67,144.38 568,144.1 C569.33,143.82 570.67,143.38 572,143.11 C573.33,142.84 574.67,142.56 576,142.47 C577.33,142.38 578.67,142.44 580,142.58 C581.33,142.71 582.67,143.05 584,143.31 C585.33,143.57 586.67,143.94 588,144.13 C589.33,144.32 590.67,144.47 592,144.44 C593.33,144.42 594.67,144.22 596,143.98 C597.33,143.75 598.67,143.33 600,143.03 C601.33,142.73 603.33,142.33 604,142.2" fill="none" stroke="#0c0c0c" stroke-width="3.3"/><path d="M512,148.44 C512.67,148.31 514.67,147.8 516,147.66 C517.33,147.51 518.67,147.48 520,147.56 C521.33,147.65 522.67,147.93 524,148.18 C525.33,148.42 526.67,148.81 528,149.04 C529.33,149.26 530.67,149.48 532,149.52 C533.33,149.55 534.67,149.44 536,149.25 C537.33,149.06 538.67,148.67 540,148.37 C541.33,148.07 542.67,147.66 544,147.45 C545.33,147.23 546.67,147.06 548,147.06 C549.33,147.06 550.67,147.24 552,147.44 C553.33,147.65 554.67,148.03 556,148.28 C557.33,148.54 558.67,148.86 560,148.97 C561.33,149.09 562.67,149.11 564,149 C565.33,148.89 566.67,148.58 568,148.3 C569.33,148.02 570.67,147.58 572,147.31 C573.33,147.04 574.67,146.76 576,146.67 C577.33,146.58 578.67,146.64 580,146.78 C581.33,146.91 582.67,147.25 584,147.51 C585.33,147.77 586.67,148.14 588,148.33 C589.33,148.52 590.67,148.67 592,148.64 C593.33,148.62 594.67,148.42 596,148.18 C597.33,147.95 598.67,147.53 600,147.23 C601.33,146.93 603.33,146.53 604,146.4" fill="none" stroke="#f6f6f6" stroke-width="2.7"/><path d="M512,151.65 C512.67,151.8 514.67,152.37 516,152.56 C517.33,152.75 518.67,152.85 520,152.8 C521.33,152.75 522.67,152.51 524,152.25 C525.33,152 526.67,151.58 528,151.29 C529.33,151 530.67,150.66 532,150.52 C533.33,150.38 534.67,150.35 536,150.46 C537.33,150.56 538.67,150.86 540,151.16 C541.33,151.46 542.67,151.93 544,152.26 C545.33,152.58 546.67,152.94 548,153.11 C549.33,153.27 550.67,153.33 552,153.24 C553.33,153.16 554.67,152.88 556,152.62 C557.33,152.35 558.67,151.92 560,151.64 C561.33,151.36 562.67,151.05 564,150.94 C565.33,150.83 566.67,150.84 568,150.98 C569.33,151.12 570.67,151.45 572,151.76 C573.33,152.08 574.67,152.55 576,152.86 C577.33,153.17 578.67,153.51 580,153.64 C581.33,153.78 582.67,153.79 584,153.68 C585.33,153.56 586.67,153.25 588,152.97 C589.33,152.7 590.67,152.27 592,152 C593.33,151.73 594.67,151.46 596,151.37 C597.33,151.29 598.67,151.35 600,151.51 C601.33,151.68 603.33,152.23 604,152.37" fill="none" stroke="#0c0c0c" stroke-width="3.3"/><path d="M512,155.85 C512.67,156 514.67,156.57 516,156.76 C517.33,156.95 518.67,157.05 520,157 C521.33,156.95 522.67,156.71 524,156.45 C525.33,156.2 526.67,155.78 528,155.49 C529.33,155.2 530.67,154.86 532,154.72 C533.33,154.58 534.67,154.55 536,154.66 C537.33,154.76 538.67,155.06 540,155.36 C541.33,155.66 542.67,156.13 544,156.46 C545.33,156.78 546.67,157.14 548,157.31 C549.33,157.47 550.67,157.53 552,157.44 C553.33,157.36 554.67,157.08 556,156.82 C557.33,156.55 558.67,156.12 560,155.84 C561.33,155.56 562.67,155.25 564,155.14 C565.33,155.03 566.67,155.04 568,155.18 C569.33,155.32 570.67,155.65 572,155.96 C573.33,156.28 574.67,156.75 576,157.06 C577.33,157.37 578.67,157.71 580,157.84 C581.33,157.98 582.67,157.99 584,157.88 C585.33,157.76 586.67,157.45 588,157.17 C589.33,156.9 590.67,156.47 592,156.2 C593.33,155.93 594.67,155.66 596,155.57 C597.33,155.49 598.67,155.55 600,155.71 C601.33,155.88 603.33,156.43 604,156.57" fill="none" stroke="#f6f6f6" stroke-width="2.7"/><path d="M512,161.19 C512.67,161.07 514.67,160.65 516,160.48 C517.33,160.3 518.67,160.15 520,160.12 C521.33,160.09 522.67,160.17 524,160.3 C525.33,160.42 526.67,160.67 528,160.86 C529.33,161.05 530.67,161.31 532,161.44 C533.33,161.57 534.67,161.66 536,161.64 C537.33,161.62 538.67,161.48 540,161.31 C541.33,161.13 542.67,160.83 544,160.6 C545.33,160.37 546.67,160.08 548,159.92 C549.33,159.76 550.67,159.65 552,159.64 C553.33,159.64 554.67,159.75 556,159.89 C557.33,160.03 558.67,160.3 560,160.49 C561.33,160.68 562.67,160.92 564,161.03 C565.33,161.14 566.67,161.2 568,161.15 C569.33,161.11 570.67,160.94 572,160.75 C573.33,160.56 574.67,160.25 576,160.02 C577.33,159.79 578.67,159.52 580,159.38 C581.33,159.24 582.67,159.16 584,159.17 C585.33,159.19 586.67,159.34 588,159.49 C589.33,159.65 590.67,159.92 592,160.11 C593.33,160.29 594.67,160.52 596,160.61 C597.33,160.7 598.67,160.73 600,160.65 C601.33,160.58 603.33,160.26 604,160.18" fill="none" stroke="#0c0c0c" stroke-width="3.3"/><path d="M512,165.39 C512.67,165.27 514.67,164.85 516,164.68 C517.33,164.5 518.67,164.35 520,164.32 C521.33,164.29 522.67,164.37 524,164.5 C525.33,164.62 526.67,164.87 528,165.06 C529.33,165.25 530.67,165.51 532,165.64 C533.33,165.77 534.67,165.86 536,165.84 C537.33,165.82 538.67,165.68 540,165.51 C541.33,165.33 542.67,165.03 544,164.8 C545.33,164.57 546.67,164.28 548,164.12 C549.33,163.96 550.67,163.85 552,163.84 C553.33,163.84 554.67,163.95 556,164.09 C557.33,164.23 558.67,164.5 560,164.69 C561.33,164.88 562.67,165.12 564,165.23 C565.33,165.34 566.67,165.4 568,165.35 C569.33,165.31 570.67,165.14 572,164.95 C573.33,164.76 574.67,164.45 576,164.22 C577.33,163.99 578.67,163.72 580,163.58 C581.33,163.44 582.67,163.36 584,163.37 C585.33,163.39 586.67,163.54 588,163.69 C589.33,163.85 590.67,164.12 592,164.31 C593.33,164.49 594.67,164.72 596,164.81 C597.33,164.9 598.67,164.93 600,164.85 C601.33,164.78 603.33,164.46 604,164.38" fill="none" stroke="#f6f6f6" stroke-width="2.7"/><path d="M512,168.92 C512.67,168.82 514.67,168.55 516,168.33 C517.33,168.12 518.67,167.83 520,167.63 C521.33,167.42 522.67,167.21 524,167.11 C525.33,167 526.67,166.95 528,166.99 C529.33,167.02 530.67,167.16 532,167.34 C533.33,167.51 534.67,167.79 536,168.05 C537.33,168.31 538.67,168.63 540,168.87 C541.33,169.12 542.67,169.37 544,169.51 C545.33,169.66 546.67,169.75 548,169.75 C549.33,169.76 550.67,169.66 552,169.52 C553.33,169.38 554.67,169.15 556,168.93 C557.33,168.71 558.67,168.43 560,168.23 C561.33,168.02 562.67,167.81 564,167.71 C565.33,167.6 566.67,167.55 568,167.59 C569.33,167.63 570.67,167.76 572,167.94 C573.33,168.12 574.67,168.39 576,168.65 C577.33,168.91 578.67,169.23 580,169.47 C581.33,169.72 582.67,169.97 584,170.12 C585.33,170.26 586.67,170.35 588,170.35 C589.33,170.35 590.67,170.26 592,170.12 C593.33,169.98 594.67,169.74 596,169.53 C597.33,169.31 598.67,169.03 600,168.83 C601.33,168.62 603.33,168.39 604,168.3" fill="none" stroke="#0c0c0c" stroke-width="3.3"/><path d="M512,173.12 C512.67,173.02 514.67,172.75 516,172.53 C517.33,172.32 518.67,172.03 520,171.83 C521.33,171.62 522.67,171.41 524,171.31 C525.33,171.2 526.67,171.15 528,171.19 C529.33,171.22 530.67,171.36 532,171.54 C533.33,171.71 534.67,171.99 536,172.25 C537.33,172.51 538.67,172.83 540,173.07 C541.33,173.32 542.67,173.57 544,173.71 C545.33,173.86 546.67,173.95 548,173.95 C549.33,173.96 550.67,173.86 552,173.72 C553.33,173.58 554.67,173.35 556,173.13 C557.33,172.91 558.67,172.63 560,172.43 C561.33,172.22 562.67,172.01 564,171.91 C565.33,171.8 566.67,171.75 568,171.79 C569.33,171.83 570.67,171.96 572,172.14 C573.33,172.32 574.67,172.59 576,172.85 C577.33,173.11 578.67,173.43 580,173.67 C581.33,173.92 582.67,174.17 584,174.32 C585.33,174.46 586.67,174.55 588,174.55 C589.33,174.55 590.67,174.46 592,174.32 C593.33,174.18 594.67,173.94 596,173.73 C597.33,173.51 598.67,173.23 600,173.03 C601.33,172.82 603.33,172.59 604,172.5" fill="none" stroke="#f6f6f6" stroke-width="2.7"/><path d="M512,177.46 C512.67,177.31 514.67,176.81 516,176.57 C517.33,176.34 518.67,176.13 520,176.03 C521.33,175.92 522.67,175.9 524,175.96 C525.33,176.02 526.67,176.19 528,176.38 C529.33,176.58 530.67,176.88 532,177.14 C533.33,177.41 534.67,177.74 536,177.99 C537.33,178.24 538.67,178.49 540,178.64 C541.33,178.79 542.67,178.88 544,178.88 C545.33,178.87 546.67,178.77 548,178.61 C549.33,178.45 550.67,178.18 552,177.91 C553.33,177.63 554.67,177.27 556,176.96 C557.33,176.65 558.67,176.3 560,176.04 C561.33,175.79 562.67,175.55 564,175.42 C565.33,175.29 566.67,175.23 568,175.27 C569.33,175.3 570.67,175.43 572,175.61 C573.33,175.78 574.67,176.06 576,176.32 C577.33,176.58 578.67,176.91 580,177.17 C581.33,177.43 582.67,177.7 584,177.88 C585.33,178.05 586.67,178.17 588,178.2 C589.33,178.22 590.67,178.16 592,178.03 C593.33,177.89 594.67,177.65 596,177.39 C597.33,177.13 598.67,176.78 600,176.47 C601.33,176.15 603.33,175.68 604,175.52" fill="none" stroke="#0c0c0c" stroke-width="3.3"/><path d="M512,181.66 C512.67,181.51 514.67,181.01 516,180.77 C517.33,180.54 518.67,180.33 520,180.23 C521.33,180.12 522.67,180.1 524,180.16 C525.33,180.22 526.67,180.39 528,180.58 C529.33,180.78 530.67,181.08 532,181.34 C533.33,181.61 534.67,181.94 536,182.19 C537.33,182.44 538.67,182.69 540,182.84 C541.33,182.99 542.67,183.08 544,183.08 C545.33,183.07 546.67,182.97 548,182.81 C549.33,182.65 550.67,182.38 552,182.11 C553.33,181.83 554.67,181.47 556,181.16 C557.33,180.85 558.67,180.5 560,180.24 C561.33,179.99 562.67,179.75 564,179.62 C565.33,179.49 566.67,179.43 568,179.47 C569.33,179.5 570.67,179.63 572,179.81 C573.33,179.98 574.67,180.26 576,180.52 C577.33,180.78 578.67,181.11 580,181.37 C581.33,181.63 582.67,181.9 584,182.08 C585.33,182.25 586.67,182.37 588,182.4 C589.33,182.42 590.67,182.36 592,182.23 C593.33,182.09 594.67,181.85 596,181.59 C597.33,181.33 598.67,180.98 600,180.67 C601.33,180.35 603.33,179.88 604,179.72" fill="none" stroke="#f6f6f6" stroke-width="2.7"/><path d="M512,183.1 C512.67,183.19 514.67,183.41 516,183.66 C517.33,183.9 518.67,184.24 520,184.55 C521.33,184.85 522.67,185.22 524,185.49 C525.33,185.76 526.67,186.03 528,186.18 C529.33,186.34 530.67,186.42 532,186.41 C533.33,186.4 534.67,186.29 536,186.12 C537.33,185.96 538.67,185.69 540,185.43 C541.33,185.17 542.67,184.84 544,184.59 C545.33,184.34 546.67,184.07 548,183.91 C549.33,183.75 550.67,183.64 552,183.64 C553.33,183.64 554.67,183.74 556,183.9 C557.33,184.06 558.67,184.33 560,184.61 C561.33,184.88 562.67,185.25 564,185.56 C565.33,185.86 566.67,186.2 568,186.44 C569.33,186.67 570.67,186.88 572,186.97 C573.33,187.06 574.67,187.07 576,187 C577.33,186.93 578.67,186.74 580,186.53 C581.33,186.32 582.67,186.01 584,185.75 C585.33,185.48 586.67,185.16 588,184.93 C589.33,184.71 590.67,184.49 592,184.39 C593.33,184.28 594.67,184.25 596,184.31 C597.33,184.38 598.67,184.55 600,184.76 C601.33,184.97 603.33,185.46 604,185.6" fill="none" stroke="#0c0c0c" stroke-width="3.3"/><path d="M512,187.3 C512.67,187.39 514.67,187.61 516,187.86 C517.33,188.1 518.67,188.44 520,188.75 C521.33,189.05 522.67,189.42 524,189.69 C525.33,189.96 526.67,190.23 528,190.38 C529.33,190.54 530.67,190.62 532,190.61 C533.33,190.6 534.67,190.49 536,190.32 C537.33,190.16 538.67,189.89 540,189.63 C541.33,189.37 542.67,189.04 544,188.79 C545.33,188.54 546.67,188.27 548,188.11 C549.33,187.95 550.67,187.84 552,187.84 C553.33,187.84 554.67,187.94 556,188.1 C557.33,188.26 558.67,188.53 560,188.81 C561.33,189.08 562.67,189.45 564,189.76 C565.33,190.06 566.67,190.4 568,190.64 C569.33,190.87 570.67,191.08 572,191.17 C573.33,191.26 574.67,191.27 576,191.2 C577.33,191.13 578.67,190.94 580,190.73 C581.33,190.52 582.67,190.21 584,189.95 C585.33,189.68 586.67,189.36 588,189.13 C589.33,188.91 590.67,188.69 592,188.59 C593.33,188.48 594.67,188.45 596,188.51 C597.33,188.58 598.67,188.75 600,188.96 C601.33,189.17 603.33,189.66 604,189.8" fill="none" stroke="#f6f6f6" stroke-width="2.7"/><path d="M512,194.07 C512.67,193.92 514.67,193.34 516,193.16 C517.33,192.99 518.67,192.92 520,193.01 C521.33,193.1 522.67,193.4 524,193.68 C525.33,193.95 526.67,194.4 528,194.66 C529.33,194.92 530.67,195.19 532,195.25 C533.33,195.3 534.67,195.19 536,194.99 C537.33,194.78 538.67,194.35 540,194.02 C541.33,193.68 542.67,193.22 544,192.97 C545.33,192.72 546.67,192.53 548,192.52 C549.33,192.52 550.67,192.71 552,192.94 C553.33,193.17 554.67,193.6 556,193.9 C557.33,194.19 558.67,194.55 560,194.69 C561.33,194.83 562.67,194.86 564,194.73 C565.33,194.61 566.67,194.27 568,193.95 C569.33,193.64 570.67,193.15 572,192.85 C573.33,192.55 574.67,192.23 576,192.14 C577.33,192.04 578.67,192.1 580,192.27 C581.33,192.43 582.67,192.81 584,193.11 C585.33,193.41 586.67,193.83 588,194.04 C589.33,194.25 590.67,194.41 592,194.38 C593.33,194.35 594.67,194.12 596,193.85 C597.33,193.58 598.67,193.11 600,192.78 C601.33,192.44 603.33,192.01 604,191.86" fill="none" stroke="#0c0c0c" stroke-width="3.3"/><path d="M512,198.27 C512.67,198.12 514.67,197.54 516,197.36 C517.33,197.19 518.67,197.12 520,197.21 C521.33,197.3 522.67,197.6 524,197.88 C525.33,198.15 526.67,198.6 528,198.86 C529.33,199.12 530.67,199.39 532,199.45 C533.33,199.5 534.67,199.39 536,199.19 C537.33,198.98 538.67,198.55 540,198.22 C541.33,197.88 542.67,197.42 544,197.17 C545.33,196.92 546.67,196.73 548,196.72 C549.33,196.72 550.67,196.91 552,197.14 C553.33,197.37 554.67,197.8 556,198.1 C557.33,198.39 558.67,198.75 560,198.89 C561.33,199.03 562.67,199.06 564,198.93 C565.33,198.81 566.67,198.47 568,198.15 C569.33,197.84 570.67,197.35 572,197.05 C573.33,196.75 574.67,196.43 576,196.34 C577.33,196.24 578.67,196.3 580,196.47 C581.33,196.63 582.67,197.01 584,197.31 C585.33,197.61 586.67,198.03 588,198.24 C589.33,198.45 590.67,198.61 592,198.58 C593.33,198.55 594.67,198.32 596,198.05 C597.33,197.78 598.67,197.31 600,196.98 C601.33,196.64 603.33,196.21 604,196.06" fill="none" stroke="#f6f6f6" stroke-width="2.7"/><path d="M514,8 L545,8 C540,30 536,55 528,70 L514,80 Z" fill="#8c8c8c"/></g><rect x="518" y="12.1" width="82.10000000000002" height="182.20000000000002" filter="url(#fC2)" opacity="0.14"/></g>
<rect x="524.7" y="185.6" width="22.1" height="2" fill="#fff"/>
<rect x="454.5" y="12" width="209.4" height="74.3" fill="none" stroke="#3d8ec9" stroke-width="1" stroke-dasharray="2,1.1"/>
<rect x="454.5" y="89" width="209.4" height="18.8" fill="none" stroke="#c0141c" stroke-width="1" stroke-dasharray="2,1.1"/>
<rect x="454.5" y="110.5" width="209.4" height="70.7" fill="none" stroke="#4a4a4a" stroke-width="0.9" stroke-dasharray="2,1.2"/>
<circle cx="564.8" cy="31.2" r="4.9" fill="#6d95c0" stroke="#fff" stroke-width="1.2"/>
<circle cx="563.8" cy="53.6" r="4.9" fill="#0b63a5" stroke="#fff" stroke-width="1.2"/>
<circle cx="562.3" cy="76.1" r="4.9" fill="#4a6f96" stroke="#fff" stroke-width="1.2"/>
<circle cx="560.8" cy="98.1" r="4.9" fill="#c00000" stroke="#fff" stroke-width="1.2"/>
<circle cx="559.3" cy="120.6" r="4.9" fill="#000000" stroke="#fff" stroke-width="1.2"/>
<circle cx="557.4" cy="143" r="4.9" fill="#808080" stroke="#fff" stroke-width="1.2"/>
<circle cx="556" cy="165.8" r="4.9" fill="#c0c0c0" stroke="#fff" stroke-width="1.2"/>
<path d="M484.8,27.7 L488.7,31.6 L484.8,35.5 L480.9,31.6 Z" fill="#6d95c0"/>
<path d="M488.9,49.3 L492.8,53.2 L488.9,57.1 L485,53.2 Z" fill="#0b63a5"/>
<path d="M485.3,71.1 L489.2,75 L485.3,78.9 L481.4,75 Z" fill="#4a6f96"/>
<path d="M503.8,93.3 L507.7,97.2 L503.8,101.1 L499.9,97.2 Z" fill="#c00000"/>
<path d="M497.5,115.4 L501.4,119.3 L497.5,123.2 L493.6,119.3 Z" fill="#000000"/>
<path d="M489.4,137.4 L493.3,141.3 L489.4,145.2 L485.5,141.3 Z" fill="#808080"/>
<path d="M461.8,159.3 L465.7,163.2 L461.8,167.1 L457.9,163.2 Z" fill="#c0c0c0"/>
<path d="M627.9,27.5 L631.8,31.4 L627.9,35.3 L624,31.4 Z" fill="#6d95c0"/>
<path d="M640.7,49.3 L644.6,53.2 L640.7,57.1 L636.8,53.2 Z" fill="#0b63a5"/>
<path d="M646.9,71.1 L650.8,75 L646.9,78.9 L643,75 Z" fill="#4a6f96"/>
<path d="M653.3,93.3 L657.2,97.2 L653.3,101.1 L649.4,97.2 Z" fill="#c00000"/>
<path d="M646.7,115.2 L650.6,119.1 L646.7,123 L642.8,119.1 Z" fill="#000000"/>
<path d="M640.4,137.3 L644.3,141.2 L640.4,145.1 L636.5,141.2 Z" fill="#808080"/>
<path d="M647.1,159.3 L651,163.2 L647.1,167.1 L643.2,163.2 Z" fill="#c0c0c0"/>
<text x="459.7" y="22.7" font-size="9.4" fill="#2d78b4" stroke="#2d78b4" stroke-width="0.16">Graphene</text>
<text x="458.9" y="102.1" font-size="9.4" fill="#c0141c" stroke="#c0141c" stroke-width="0.16">Interface</text>
<text x="459.7" y="122.7" font-size="9.4" fill="#4b2a28" stroke="#4b2a28" stroke-width="0.16">CF</text>
<path d="M444.5,15.5 L444.5,195.5 M444.5,192.5 L509.5,192.5 M509.3,192.5 L509.3,195.5" fill="none" stroke="#a6a6a6" stroke-width="1"/>
<path d="M608.5,189.5 L608.5,192.5 L672.5,192.5 L672.5,15.5" fill="none" stroke="#a6a6a6" stroke-width="1"/>
<text x="445.1" y="205.5" font-size="9.8" text-anchor="middle" stroke="#000" stroke-width="0.16">10</text>
<text x="509" y="205.5" font-size="9.8" text-anchor="middle" stroke="#000" stroke-width="0.16">20</text>
<text x="608.4" y="205.5" font-size="9.8" text-anchor="middle" stroke="#000" stroke-width="0.16">1.45</text>
<text x="673" y="205.5" font-size="9.8" text-anchor="middle" stroke="#000" stroke-width="0.16">1.46</text>
<text x="464" y="223.3" font-size="11.2" stroke="#000" stroke-width="0.16"><tspan font-style="italic">sp</tspan><tspan dy="-4" font-size="7.5">3</tspan><tspan dy="4">%</tspan></text>
<text x="600.7" y="223.5" font-size="11.4" stroke="#000" stroke-width="0.16">Bond length (Å)</text>
<text x="-0.5" y="234" font-size="13.5" font-weight="bold" stroke="#000" stroke-width="0.16">d</text>
<path d="M43.5,236 L43.5,409.5 L226,409.5" fill="none" stroke="#666" stroke-width="1"/>
<text x="37.9" y="395.7" font-size="10" text-anchor="end" stroke="#000" stroke-width="0.16">0</text>
<text x="37.9" y="361.05" font-size="10" text-anchor="end" stroke="#000" stroke-width="0.16">1</text>
<text x="37.9" y="326.4" font-size="10" text-anchor="end" stroke="#000" stroke-width="0.16">2</text>
<text x="37.9" y="291.75" font-size="10" text-anchor="end" stroke="#000" stroke-width="0.16">3</text>
<text x="37.9" y="257.1" font-size="10" text-anchor="end" stroke="#000" stroke-width="0.16">4</text>
<text x="43.5" y="422.6" font-size="10" text-anchor="middle" stroke="#000" stroke-width="0.16">280</text>
<text x="104.3" y="422.6" font-size="10" text-anchor="middle" stroke="#000" stroke-width="0.16">290</text>
<text x="165.1" y="422.6" font-size="10" text-anchor="middle" stroke="#000" stroke-width="0.16">300</text>
<text x="225.9" y="422.6" font-size="10" text-anchor="middle" stroke="#000" stroke-width="0.16">310</text>
<path d="M43.5,392.1 L40.2,392.1 M43.5,357.45 L40.2,357.45 M43.5,322.8 L40.2,322.8 M43.5,288.15 L40.2,288.15 M43.5,253.5 L40.2,253.5 M43.5,409.5 L43.5,412.6 M104.3,409.5 L104.3,412.6 M165.1,409.5 L165.1,412.6 M225.9,409.5 L225.9,412.6 M73.9,409.5 L73.9,411 M134.7,409.5 L134.7,411 M195.5,409.5 L195.5,411" stroke="#666" stroke-width="1"/>
<text x="134.8" y="440.3" font-size="11.2" text-anchor="middle" stroke="#000" stroke-width="0.16">Energy (eV)</text>
<text transform="translate(23.8,322.5) rotate(-90)" font-size="11.35" text-anchor="middle" stroke="#000" stroke-width="0.16">Normalised XANES intensity</text>
<path d="M43.5,392.1 C47.15,392.1 61.03,392.27 65.39,392.1 C69.75,391.93 68.43,391.98 69.64,391.06 C70.86,390.14 71.77,387.83 72.68,386.56 C73.6,385.29 74.31,383.84 75.12,383.44 C75.93,383.03 76.64,383.44 77.55,384.13 C78.46,384.82 79.57,387.13 80.59,387.6 C81.6,388.06 82.51,388.23 83.63,386.9 C84.74,385.57 86.06,382.34 87.28,379.63 C88.49,376.91 89.76,373.62 90.92,370.62 C92.09,367.61 93.25,362.47 94.27,361.61 C95.28,360.74 96.04,364.03 97,365.42 C97.97,366.81 98.83,368.88 100.04,369.92 C101.26,370.96 102.88,371.43 104.3,371.66 C105.72,371.89 107.34,372.06 108.56,371.31 C109.77,370.56 110.68,369.06 111.6,367.15 C112.51,365.25 113.22,360.92 114.03,359.88 C114.84,358.84 115.45,361.15 116.46,360.92 C117.47,360.68 118.89,358.95 120.11,358.49 C121.32,358.03 122.13,357.62 123.76,358.14 C125.38,358.66 127.2,360.8 129.84,361.61 C132.47,362.42 136.32,362.65 139.56,362.99 C142.81,363.34 144.53,363.34 149.29,363.69 C154.05,364.03 161.76,364.61 168.14,365.07 C174.52,365.54 183.85,366.23 187.6,366.46 C191.35,366.69 187.49,366.11 190.64,366.46 C193.78,366.81 200.57,367.87 206.44,368.54 C212.32,369.2 222.66,370.13 225.9,370.44" fill="none" stroke="#a9a9a9" stroke-width="1"/>
<path d="M43.5,357.45 C47.35,357.45 61.94,357.62 66.6,357.45 C71.27,357.28 70.05,357.05 71.47,356.41 C72.89,355.78 74.1,354.04 75.12,353.64 C76.13,353.23 76.64,353.7 77.55,353.99 C78.46,354.27 79.57,355.37 80.59,355.37 C81.6,355.37 82.41,355.95 83.63,353.99 C84.84,352.02 86.57,347.34 87.88,343.59 C89.2,339.84 90.47,334.87 91.53,331.46 C92.6,328.06 93.36,323.44 94.27,323.15 C95.18,322.86 96.04,327.82 97,329.73 C97.97,331.64 98.93,333.43 100.04,334.58 C101.16,335.74 102.27,336.37 103.69,336.66 C105.11,336.95 106.93,337.35 108.56,336.31 C110.18,335.27 111.39,331.98 113.42,330.42 C115.45,328.86 118.59,327.42 120.72,326.96 C122.84,326.5 123.05,327.19 126.19,327.65 C129.33,328.11 135.71,329.09 139.56,329.73 C143.41,330.37 144.53,330.94 149.29,331.46 C154.05,331.98 161.76,332.62 168.14,332.85 C174.52,333.08 181.21,332.39 187.6,332.85 C193.98,333.31 200.06,334.81 206.44,335.62 C212.83,336.43 222.66,337.35 225.9,337.7" fill="none" stroke="#6fa3dc" stroke-width="1.1"/>
<path d="M43.5,357.45 C47.35,357.45 61.94,357.85 66.6,357.45 C71.27,357.05 70.05,356.35 71.47,355.02 C72.89,353.7 74,350.12 75.12,349.48 C76.23,348.85 77.14,350.46 78.16,351.21 C79.17,351.96 80.08,353.87 81.2,353.99 C82.31,354.1 83.63,353.93 84.84,351.91 C86.06,349.88 87.07,345.9 88.49,341.86 C89.91,337.81 92.14,329.79 93.36,327.65 C94.57,325.51 94.77,327.88 95.79,329.04 C96.8,330.19 98.12,333.14 99.44,334.58 C100.75,336.02 102.17,337.3 103.69,337.7 C105.21,338.1 107.04,338.62 108.56,337.01 C110.08,335.39 110.68,330.08 112.81,328 C114.94,325.92 118.49,324.88 121.32,324.53 C124.16,324.19 126.8,325.34 129.84,325.92 C132.88,326.5 136.32,327.36 139.56,328 C142.81,328.63 144.53,329.21 149.29,329.73 C154.05,330.25 161.76,330.83 168.14,331.12 C174.52,331.4 181.21,331 187.6,331.46 C193.98,331.92 200.06,333.2 206.44,333.89 C212.83,334.58 222.66,335.33 225.9,335.62" fill="none" stroke="#4f80c4" stroke-width="1" stroke-dasharray="2,1.9"/>
<path d="M43.5,322.8 C47.35,322.8 61.94,322.97 66.6,322.8 C71.27,322.63 70.05,322.28 71.47,321.76 C72.89,321.24 74.1,319.97 75.12,319.68 C76.13,319.39 76.64,319.74 77.55,320.03 C78.46,320.32 79.57,321.41 80.59,321.41 C81.6,321.41 82.41,322.11 83.63,320.03 C84.84,317.95 86.57,312.81 87.88,308.94 C89.2,305.07 90.47,300.28 91.53,296.81 C92.6,293.35 93.25,287.98 94.27,288.15 C95.28,288.32 96.55,295.89 97.61,297.85 C98.68,299.82 99.64,299.53 100.65,299.93 C101.67,300.34 102.37,300.34 103.69,300.28 C105.01,300.22 106.93,300.39 108.56,299.58 C110.18,298.78 111.39,296.58 113.42,295.43 C115.45,294.27 118.59,293.12 120.72,292.65 C122.84,292.19 123.05,292.13 126.19,292.65 C129.33,293.17 135.71,295.08 139.56,295.77 C143.41,296.47 144.53,296.29 149.29,296.81 C154.05,297.33 161.76,298.43 168.14,298.89 C174.52,299.35 181.21,299.06 187.6,299.58 C193.98,300.1 200.06,301.37 206.44,302.01 C212.83,302.65 222.66,303.17 225.9,303.4" fill="none" stroke="#b4479f" stroke-width="1.1"/>
<path d="M43.5,322.8 C47.35,322.8 61.94,323.26 66.6,322.8 C71.27,322.34 70.05,321.3 71.47,320.03 C72.89,318.76 74,315.7 75.12,315.18 C76.23,314.66 77.14,316.16 78.16,316.91 C79.17,317.66 80.08,319.57 81.2,319.68 C82.31,319.8 83.63,319.68 84.84,317.6 C86.06,315.52 87.02,311.08 88.49,307.21 C89.96,303.34 92.34,296.12 93.66,294.39 C94.98,292.65 95.43,295.66 96.4,296.81 C97.36,297.97 98.22,300.45 99.44,301.32 C100.65,302.18 101.97,302.3 103.69,302.01 C105.41,301.72 107.95,301.26 109.77,299.58 C111.6,297.91 112.61,293.58 114.64,291.96 C116.66,290.34 119.4,289.88 121.93,289.88 C124.47,289.88 126.9,291.21 129.84,291.96 C132.77,292.71 136.32,293.87 139.56,294.39 C142.81,294.91 144.53,294.85 149.29,295.08 C154.05,295.31 161.76,295.48 168.14,295.77 C174.52,296.06 181.21,296.35 187.6,296.81 C193.98,297.27 200.06,297.79 206.44,298.55 C212.83,299.3 222.66,300.86 225.9,301.32" fill="none" stroke="#eea0a0" stroke-width="1" stroke-dasharray="2,1.9"/>
<path d="M53.6,244.9 L76.7,244.9" stroke="#b4479f" stroke-width="1.1"/>
<path d="M53.6,257.3 L76.7,257.3" stroke="#6fa3dc" stroke-width="1.1"/>
<path d="M53.6,269.7 L76.7,269.7" stroke="#a9a9a9" stroke-width="1"/>
<path d="M123.1,244.9 L145.5,244.9" stroke="#eea0a0" stroke-width="1" stroke-dasharray="2,1.9"/>
<path d="M123.1,257.3 L145.5,257.3" stroke="#4f80c4" stroke-width="1" stroke-dasharray="2,1.9"/>
<text x="79.6" y="248" font-size="10.1" stroke="#000" stroke-width="0.16">GCF</text>
<text x="79.6" y="260.4" font-size="10.1" stroke="#000" stroke-width="0.16">SCF</text>
<text x="79.6" y="272.8" font-size="10.1" stroke="#000" stroke-width="0.16">HOPG</text>
<text x="150" y="248" font-size="10.1" stroke="#000" stroke-width="0.16">GCF fitting</text>
<text x="150" y="260.4" font-size="10.1" stroke="#000" stroke-width="0.16">SCF fitting</text>
<text x="225.7" y="316" font-size="9.9" text-anchor="end" stroke="#000" stroke-width="0.16">GCF</text>
<text x="225.7" y="350.4" font-size="9.9" text-anchor="end" stroke="#000" stroke-width="0.16">SCF</text>
<text x="225.7" y="384.3" font-size="9.9" text-anchor="end" stroke="#000" stroke-width="0.16">HOPG</text>
<text x="246.2" y="233.9" font-size="13.5" font-weight="bold" stroke="#000" stroke-width="0.16">e</text>
<g clip-path="url(#cE)"><g filter="url(#fE)"><rect x="288.5" y="235" width="201.7" height="68.19999999999999" fill="url(#gE)"/><circle cx="448.8" cy="258.59" r="2.34" fill="#9a9a9a"/><circle cx="443.86" cy="261.56" r="1.95" fill="#8a8a8a"/><circle cx="470.88" cy="261.86" r="2.52" fill="#9a9a9a"/><circle cx="470.17" cy="257.34" r="1.82" fill="#7a7a7a"/><circle cx="434.27" cy="254.71" r="1.89" fill="#7a7a7a"/><circle cx="458.13" cy="261.32" r="2.15" fill="#9a9a9a"/><circle cx="468.11" cy="257.67" r="2.15" fill="#7a7a7a"/><circle cx="464.69" cy="254.83" r="2.44" fill="#8a8a8a"/><circle cx="437.76" cy="258.84" r="2.28" fill="#9a9a9a"/><circle cx="435.29" cy="255.25" r="2.12" fill="#6a6a6a"/><circle cx="439.01" cy="259.25" r="2.43" fill="#9a9a9a"/><circle cx="465.13" cy="259.97" r="1.98" fill="#7a7a7a"/><circle cx="440.14" cy="255.18" r="2.41" fill="#6a6a6a"/><circle cx="442.72" cy="256.68" r="1.7" fill="#6a6a6a"/><circle cx="460.4" cy="254.7" r="1.3" fill="#6a6a6a"/><circle cx="438.51" cy="260.09" r="1.71" fill="#8a8a8a"/><circle cx="441.95" cy="254.78" r="2.44" fill="#8a8a8a"/><circle cx="467.13" cy="259.75" r="1.88" fill="#7a7a7a"/><circle cx="465.82" cy="262.16" r="1.59" fill="#9a9a9a"/><circle cx="440.79" cy="257.08" r="1.56" fill="#6a6a6a"/><circle cx="438.94" cy="260.11" r="1.64" fill="#9a9a9a"/><circle cx="427.05" cy="262.5" r="2.48" fill="#9a9a9a"/><circle cx="451.59" cy="254.43" r="2.07" fill="#9a9a9a"/><circle cx="462.89" cy="256.21" r="2.33" fill="#9a9a9a"/><circle cx="458.53" cy="258.04" r="1.92" fill="#7a7a7a"/><circle cx="432.6" cy="258" r="2" fill="#8a8a8a"/><circle cx="450.88" cy="251.77" r="2.15" fill="#7a7a7a"/><circle cx="448.98" cy="262.95" r="2.15" fill="#7a7a7a"/><circle cx="464.17" cy="256.48" r="2.29" fill="#8a8a8a"/><circle cx="460.74" cy="253.74" r="1.36" fill="#9a9a9a"/><circle cx="422.79" cy="261.71" r="1.9" fill="#9a9a9a"/><circle cx="470.27" cy="260.06" r="2.37" fill="#7a7a7a"/><circle cx="461.48" cy="256.97" r="1.61" fill="#9a9a9a"/><circle cx="435.65" cy="252.54" r="1.67" fill="#9a9a9a"/><circle cx="438.89" cy="260.02" r="1.58" fill="#7a7a7a"/><circle cx="446.5" cy="261.06" r="1.56" fill="#8a8a8a"/><circle cx="440.38" cy="252.56" r="2.32" fill="#6a6a6a"/><circle cx="442.84" cy="258.67" r="1.53" fill="#7a7a7a"/><circle cx="428.05" cy="259.83" r="1.53" fill="#7a7a7a"/><circle cx="444.77" cy="258.19" r="2" fill="#9a9a9a"/><circle cx="426.61" cy="262.74" r="1.68" fill="#7a7a7a"/><circle cx="430.98" cy="255.56" r="2.39" fill="#8a8a8a"/><circle cx="445.86" cy="260.47" r="1.74" fill="#7a7a7a"/><circle cx="463.67" cy="256.97" r="2.29" fill="#6a6a6a"/><circle cx="464.31" cy="259.5" r="1.59" fill="#6a6a6a"/><circle cx="467" cy="258.52" r="1.53" fill="#6a6a6a"/><circle cx="461.26" cy="256.33" r="1.76" fill="#7a7a7a"/><circle cx="437.92" cy="256.29" r="1.59" fill="#7a7a7a"/><path d="M329,266 C330.83,265.58 335.67,263.92 340,263.5 C344.33,263.08 350,263.67 355,263.5 C360,263.33 365,262.58 370,262.5 C375,262.42 380,263.08 385,263 C390,262.92 395,262.17 400,262 C405,261.83 410,262.17 415,262 C420,261.83 425,261.08 430,261 C435,260.92 440,261.17 445,261.5 C450,261.83 455.83,262.25 460,263 C464.17,263.75 467.33,264.83 470,266 C472.67,267.17 476.33,268.67 476,270 C475.67,271.33 471.5,272.83 468,274 C464.5,275.17 459.67,276.08 455,277 C450.33,277.92 445,278.92 440,279.5 C435,280.08 430,280.33 425,280.5 C420,280.67 415,280.75 410,280.5 C405,280.25 400,279.42 395,279 C390,278.58 385,278.25 380,278 C375,277.75 370,277.67 365,277.5 C360,277.33 354.5,277.25 350,277 C345.5,276.75 341.5,276.58 338,276 C334.5,275.42 330.5,275.17 329,273.5 C327.5,271.83 329,267.25 329,266 Z" fill="#141414"/><circle cx="326.31" cy="264.21" r="1.53" fill="#a4a4a4"/><circle cx="327.88" cy="265.25" r="1.05" fill="#7a7a7a"/><circle cx="328" cy="264.6" r="1.17" fill="#7a7a7a"/><circle cx="337.02" cy="261.16" r="1.12" fill="#7a7a7a"/><circle cx="342.94" cy="262.36" r="1.79" fill="#7a7a7a"/><circle cx="340.47" cy="262.75" r="1.13" fill="#7a7a7a"/><circle cx="352.1" cy="261.16" r="1.56" fill="#8e8e8e"/><circle cx="358.48" cy="262.9" r="0.83" fill="#7a7a7a"/><circle cx="353.77" cy="262.75" r="1.32" fill="#a4a4a4"/><circle cx="373.86" cy="260.97" r="1.31" fill="#a4a4a4"/><circle cx="372.31" cy="260.8" r="1.76" fill="#7a7a7a"/><circle cx="365.98" cy="261.2" r="1.54" fill="#7a7a7a"/><circle cx="380.9" cy="261.5" r="1.1" fill="#a4a4a4"/><circle cx="384.91" cy="261.27" r="0.98" fill="#8e8e8e"/><circle cx="386.95" cy="260.86" r="0.98" fill="#a4a4a4"/><circle cx="397.7" cy="261.1" r="1.09" fill="#7a7a7a"/><circle cx="401.02" cy="260.22" r="1.39" fill="#8e8e8e"/><circle cx="399.04" cy="261.06" r="1.66" fill="#8e8e8e"/><circle cx="417.68" cy="261.46" r="1.46" fill="#a4a4a4"/><circle cx="411.59" cy="261.53" r="1.67" fill="#7a7a7a"/><circle cx="412.58" cy="260.66" r="1" fill="#7a7a7a"/><circle cx="429.78" cy="258.85" r="1.41" fill="#7a7a7a"/><circle cx="426.34" cy="259.27" r="1.52" fill="#7a7a7a"/><circle cx="428.84" cy="260.11" r="1.15" fill="#a4a4a4"/><circle cx="441.1" cy="260.43" r="0.88" fill="#7a7a7a"/><circle cx="441.65" cy="259.16" r="0.97" fill="#8e8e8e"/><circle cx="445.36" cy="259.9" r="1.43" fill="#7a7a7a"/><circle cx="459.9" cy="261" r="0.82" fill="#7a7a7a"/><circle cx="461.77" cy="261.71" r="1.23" fill="#8e8e8e"/><circle cx="463.38" cy="261.33" r="1.63" fill="#8e8e8e"/><circle cx="473.8" cy="265.42" r="1.49" fill="#a4a4a4"/><circle cx="471.3" cy="265.55" r="1.12" fill="#a4a4a4"/><circle cx="471.73" cy="264.63" r="1.45" fill="#8e8e8e"/><circle cx="473.03" cy="267.88" r="0.91" fill="#7a7a7a"/><circle cx="481.17" cy="269.18" r="1.77" fill="#8e8e8e"/><circle cx="470.49" cy="268.02" r="1.35" fill="#a4a4a4"/><circle cx="467.94" cy="276.08" r="1.09" fill="#8a8a8a"/><circle cx="466.38" cy="275.71" r="0.85" fill="#8a8a8a"/><circle cx="464.53" cy="275.25" r="1.42" fill="#7a7a7a"/><circle cx="459.91" cy="279" r="1.13" fill="#7a7a7a"/><circle cx="458.17" cy="278.82" r="1.29" fill="#7a7a7a"/><circle cx="450.3" cy="278.8" r="1.07" fill="#8a8a8a"/><circle cx="438.78" cy="280.89" r="1.2" fill="#8a8a8a"/><circle cx="438.8" cy="280.4" r="1.36" fill="#8a8a8a"/><circle cx="440.48" cy="280.25" r="1.22" fill="#7a7a7a"/><circle cx="380.68" cy="279.56" r="1.41" fill="#8a8a8a"/><circle cx="378.98" cy="280.27" r="1.19" fill="#7a7a7a"/><circle cx="376.97" cy="280.65" r="1.28" fill="#8a8a8a"/><circle cx="363.8" cy="279.61" r="1.45" fill="#7a7a7a"/><circle cx="368.73" cy="278.88" r="1.1" fill="#8a8a8a"/><circle cx="361.2" cy="278.82" r="1.1" fill="#7a7a7a"/><circle cx="354.05" cy="279.21" r="1.52" fill="#7a7a7a"/><circle cx="348.96" cy="278.73" r="0.98" fill="#7a7a7a"/><circle cx="352.56" cy="278.78" r="1.48" fill="#8a8a8a"/><circle cx="339.6" cy="278.21" r="1.5" fill="#7a7a7a"/><circle cx="340.92" cy="278.65" r="0.82" fill="#8a8a8a"/><circle cx="342.52" cy="278.32" r="1.12" fill="#7a7a7a"/><path d="M299,266 C302,262 308,263 312,262.5 C317,262 321,264 321,268 C321,272 318,276 313,276.5 C308,277 303,278 300,275 C297,272 297,269 299,266 Z" fill="#8c8c8c"/><circle cx="312.4" cy="274.69" r="1.62" fill="#6a6a6a"/><circle cx="300.12" cy="264.09" r="1.25" fill="#9a9a9a"/><circle cx="317.57" cy="274.04" r="0.87" fill="#b0b0b0"/><circle cx="313.21" cy="266.11" r="1.39" fill="#b0b0b0"/><circle cx="319.21" cy="264.21" r="1.29" fill="#6a6a6a"/><circle cx="314.01" cy="274.66" r="1.07" fill="#9a9a9a"/><circle cx="307.08" cy="272.57" r="1.25" fill="#9a9a9a"/><circle cx="303.21" cy="273.28" r="1.55" fill="#6a6a6a"/><circle cx="314.1" cy="274.73" r="1.74" fill="#6a6a6a"/><circle cx="317.65" cy="269.75" r="0.83" fill="#9a9a9a"/><circle cx="302.36" cy="265.95" r="0.91" fill="#9a9a9a"/><circle cx="316.16" cy="272.74" r="0.97" fill="#6a6a6a"/><circle cx="300.94" cy="265.86" r="1.4" fill="#9a9a9a"/><circle cx="318.67" cy="264.02" r="1.42" fill="#b0b0b0"/><circle cx="316.24" cy="272.79" r="1.49" fill="#6a6a6a"/><circle cx="318.18" cy="275.21" r="0.97" fill="#b0b0b0"/><circle cx="305.88" cy="270.13" r="0.96" fill="#6a6a6a"/><circle cx="308.85" cy="268.98" r="1.53" fill="#6a6a6a"/><circle cx="311.21" cy="274.47" r="1.77" fill="#9a9a9a"/><circle cx="301.42" cy="269.55" r="1.38" fill="#9a9a9a"/><circle cx="303.91" cy="269.11" r="1.08" fill="#9a9a9a"/><circle cx="314.06" cy="268.6" r="1.36" fill="#6a6a6a"/><circle cx="310.9" cy="268" r="1.78" fill="#6a6a6a"/><circle cx="307.19" cy="264.14" r="0.89" fill="#6a6a6a"/><circle cx="301.98" cy="265.84" r="1.21" fill="#9a9a9a"/><path d="M294,301.5 C296,298 298,296 301,295.5" fill="none" stroke="#8a8a8a" stroke-width="0.7"/><path d="M299,301.5 C301,298 303,296 306,295.5" fill="none" stroke="#8a8a8a" stroke-width="0.7"/><path d="M304,301.5 C306,298 308,296 311,295.5" fill="none" stroke="#8a8a8a" stroke-width="0.7"/><path d="M309,301.5 C311,298 313,296 316,295.5" fill="none" stroke="#8a8a8a" stroke-width="0.7"/><path d="M314,301.5 C316,298 318,296 321,295.5" fill="none" stroke="#8a8a8a" stroke-width="0.7"/><path d="M319,301.5 C321,298 323,296 326,295.5" fill="none" stroke="#8a8a8a" stroke-width="0.7"/><path d="M324,301.5 C326,298 328,296 331,295.5" fill="none" stroke="#8a8a8a" stroke-width="0.7"/><path d="M329,301.5 C331,298 333,296 336,295.5" fill="none" stroke="#8a8a8a" stroke-width="0.7"/><path d="M334,301.5 C336,298 338,296 341,295.5" fill="none" stroke="#8a8a8a" stroke-width="0.7"/><path d="M339,301.5 C341,298 343,296 346,295.5" fill="none" stroke="#8a8a8a" stroke-width="0.7"/><path d="M344,301.5 C346,298 348,296 351,295.5" fill="none" stroke="#8a8a8a" stroke-width="0.7"/><path d="M349,301.5 C351,298 353,296 356,295.5" fill="none" stroke="#8a8a8a" stroke-width="0.7"/><path d="M354,301.5 C356,298 358,296 361,295.5" fill="none" stroke="#8a8a8a" stroke-width="0.7"/><path d="M359,301.5 C361,298 363,296 366,295.5" fill="none" stroke="#8a8a8a" stroke-width="0.7"/><path d="M364,301.5 C366,298 368,296 371,295.5" fill="none" stroke="#8a8a8a" stroke-width="0.7"/><path d="M369,301.5 C371,298 373,296 376,295.5" fill="none" stroke="#8a8a8a" stroke-width="0.7"/><path d="M374,301.5 C376,298 378,296 381,295.5" fill="none" stroke="#8a8a8a" stroke-width="0.7"/><path d="M379,301.5 C381,298 383,296 386,295.5" fill="none" stroke="#8a8a8a" stroke-width="0.7"/><path d="M384,301.5 C386,298 388,296 391,295.5" fill="none" stroke="#8a8a8a" stroke-width="0.7"/><path d="M389,301.5 C391,298 393,296 396,295.5" fill="none" stroke="#8a8a8a" stroke-width="0.7"/><path d="M394,301.5 C396,298 398,296 401,295.5" fill="none" stroke="#8a8a8a" stroke-width="0.7"/><path d="M399,301.5 C401,298 403,296 406,295.5" fill="none" stroke="#8a8a8a" stroke-width="0.7"/><path d="M404,301.5 C406,298 408,296 411,295.5" fill="none" stroke="#8a8a8a" stroke-width="0.7"/><path d="M409,301.5 C411,298 413,296 416,295.5" fill="none" stroke="#8a8a8a" stroke-width="0.7"/><path d="M414,301.5 C416,298 418,296 421,295.5" fill="none" stroke="#8a8a8a" stroke-width="0.7"/><path d="M419,301.5 C421,298 423,296 426,295.5" fill="none" stroke="#8a8a8a" stroke-width="0.7"/><path d="M424,301.5 C426,298 428,296 431,295.5" fill="none" stroke="#8a8a8a" stroke-width="0.7"/><path d="M429,301.5 C431,298 433,296 436,295.5" fill="none" stroke="#8a8a8a" stroke-width="0.7"/><path d="M434,301.5 C436,298 438,296 441,295.5" fill="none" stroke="#8a8a8a" stroke-width="0.7"/><path d="M439,301.5 C441,298 443,296 446,295.5" fill="none" stroke="#8a8a8a" stroke-width="0.7"/><path d="M444,301.5 C446,298 448,296 451,295.5" fill="none" stroke="#8a8a8a" stroke-width="0.7"/><path d="M449,301.5 C451,298 453,296 456,295.5" fill="none" stroke="#8a8a8a" stroke-width="0.7"/><path d="M454,301.5 C456,298 458,296 461,295.5" fill="none" stroke="#8a8a8a" stroke-width="0.7"/><path d="M459,301.5 C461,298 463,296 466,295.5" fill="none" stroke="#8a8a8a" stroke-width="0.7"/><path d="M464,301.5 C466,298 468,296 471,295.5" fill="none" stroke="#8a8a8a" stroke-width="0.7"/><path d="M469,301.5 C471,298 473,296 476,295.5" fill="none" stroke="#8a8a8a" stroke-width="0.7"/><path d="M474,301.5 C476,298 478,296 481,295.5" fill="none" stroke="#8a8a8a" stroke-width="0.7"/><path d="M479,301.5 C481,298 483,296 486,295.5" fill="none" stroke="#8a8a8a" stroke-width="0.7"/><path d="M484,301.5 C486,298 488,296 491,295.5" fill="none" stroke="#8a8a8a" stroke-width="0.7"/><path d="M489,301.5 C491,298 493,296 496,295.5" fill="none" stroke="#8a8a8a" stroke-width="0.7"/></g></g>
<rect x="297.2" y="296.7" width="27.6" height="2" fill="#fff"/>
<rect x="408.2" y="265.9" width="38" height="8.8" fill="none" stroke="#f0e000" stroke-width="0.9" stroke-dasharray="1.6,1.1"/>
<path d="M327.5,235 L327.5,303.2 M475.3,235 L475.3,303.2" stroke="#f0e000" stroke-width="1.2" stroke-dasharray="2.4,1.4"/>
<path d="M327.5,303.2 L327.5,409 M475.3,303.2 L475.3,409" stroke="#1c6fe0" stroke-width="1.2" stroke-dasharray="2.4,1.4"/>
<path d="M288.5,234.6 L288.5,409.5 L679.5,409.5" fill="none" stroke="#666" stroke-width="1"/>
<text x="282.3" y="413.1" font-size="10" text-anchor="end" stroke="#000" stroke-width="0.16">0.0</text>
<text x="282.3" y="369.6" font-size="10" text-anchor="end" stroke="#000" stroke-width="0.16">0.5</text>
<text x="282.3" y="326.1" font-size="10" text-anchor="end" stroke="#000" stroke-width="0.16">1.0</text>
<text x="282.3" y="282.6" font-size="10" text-anchor="end" stroke="#000" stroke-width="0.16">1.5</text>
<text x="282.3" y="239.1" font-size="10" text-anchor="end" stroke="#000" stroke-width="0.16">2.0</text>
<text x="288.5" y="423.2" font-size="10" text-anchor="middle" stroke="#000" stroke-width="0.16">0</text>
<text x="366.7" y="423.2" font-size="10" text-anchor="middle" stroke="#000" stroke-width="0.16">5</text>
<text x="444.9" y="423.2" font-size="10" text-anchor="middle" stroke="#000" stroke-width="0.16">10</text>
<text x="523.1" y="423.2" font-size="10" text-anchor="middle" stroke="#000" stroke-width="0.16">15</text>
<text x="601.3" y="423.2" font-size="10" text-anchor="middle" stroke="#000" stroke-width="0.16">20</text>
<text x="679.5" y="423.2" font-size="10" text-anchor="middle" stroke="#000" stroke-width="0.16">25</text>
<path d="M288.5,409.5 L285.4,409.5 M288.5,366 L285.4,366 M288.5,322.5 L285.4,322.5 M288.5,279 L285.4,279 M288.5,235.5 L285.4,235.5 M288.5,387.75 L286.8,387.75 M288.5,344.25 L286.8,344.25 M288.5,300.75 L286.8,300.75 M288.5,257.25 L286.8,257.25 M288.5,409.5 L288.5,412.8 M366.7,409.5 L366.7,412.8 M444.9,409.5 L444.9,412.8 M523.1,409.5 L523.1,412.8 M601.3,409.5 L601.3,412.8 M679.5,409.5 L679.5,412.8 M327.6,409.5 L327.6,411 M405.8,409.5 L405.8,411 M484,409.5 L484,411 M562.2,409.5 L562.2,411 M640.4,409.5 L640.4,411" stroke="#666" stroke-width="1"/>
<text x="484" y="439.3" font-size="11.1" text-anchor="middle" stroke="#000" stroke-width="0.16">Nanoscratch displacement (µm)</text>
<text transform="translate(264.4,322) rotate(-90)" font-size="11.1" text-anchor="middle" stroke="#000" stroke-width="0.16">Lateral force (mN)</text>
<text x="293.5" y="317.1" font-size="9.4" stroke="#000" stroke-width="0.16">Preload</text>
<text x="400.4" y="317.1" font-size="9.4" text-anchor="middle" stroke="#000" stroke-width="0.16">Scratch</text>
<path d="M336,313.8 L382,313.8 M421.3,313.8 L467,313.8" stroke="#000" stroke-width="1"/>
<path d="M331.4,313.8 L340,310.9 L337.8,313.8 L340,316.7 Z M471.9,313.8 L463.3,310.9 L465.5,313.8 L463.3,316.7 Z" fill="#000"/>
<rect x="408.6" y="327.3" width="37" height="47.2" fill="none" stroke="#222" stroke-width="0.9" stroke-dasharray="2,1.3"/>
<text x="370.6" y="341.1" font-size="9.4" text-anchor="middle" stroke="#000" stroke-width="0.16">Stiffness:</text>
<text x="344.3" y="352" font-size="9.4" stroke="#000" stroke-width="0.16">727.65 N m<tspan dy="-3.5" font-size="6.5">-1</tspan></text>
<path d="M400.4,342.7 L423,346" stroke="#000" stroke-width="0.8"/><path d="M427,346.6 L421.8,344.3 L421.3,347.6 Z" fill="#000"/>
<path d="M288,402.1 L300,400.6 L310,399.2 L321.7,397.3 L323.6,395.9 L325.8,397.4 L327.3,396.2 L330.2,394.7 L334.6,393 L335.5,397.4 L336,393.8 L339,391.5 L342.6,390 L343.3,392.2 L344.1,388.6 L348.5,387.2 L350,390.2 L350.6,387.2 L355.8,385 L356.5,392.3 L357.2,385.5 L359.4,384.2 L360.9,379.9 L363.4,381.3 L363.6,392.3 L364.5,381.5 L366.7,377.7 L369,379.9 L370.4,378.6 L373.3,380.5 L374,378.4 L376.9,373.7 L379.1,375.5 L380.3,383.5 L381.3,374 L382.8,372.6 L387.9,373.3 L388.3,387.9 L389,377.5 L391.5,370.4 L393.7,371.1 L395.9,369.6 L398.8,370.4 L400,373.3 L401,367.4 L404.7,366.7 L406.1,369.6 L407.4,366 L409.5,365.2 L411,368.8 L411.8,364.5 L414.7,361.5 L418.4,360 L419.1,365.2 L419.9,360 L425.8,357.4 L426.2,362.3 L426.5,357.1 L431.7,337.2 L433.1,336.5 L437.6,333.6 L438.6,341.7 L439.5,335 L444.2,334.3 L445.6,335 L444.9,357.1 L446.4,343.9 L447.1,339.5 L449.3,330.6 L454.5,330.6 L454.2,350.5 L455.2,332.8 L456.7,332.1 L461.1,326.9 L461.9,332.1 L462.6,326.9 L467.7,324.4 L468.5,329.1 L469.2,324.7 L474.4,322.5 L474.8,394.7 L476.6,394.2 L487.6,393.9 L488.4,396.2 L494.3,396.2 L500,394.7 L502,395.5 L505,394.3" fill="none" stroke="#d42020" stroke-width="1" stroke-linejoin="round"/>
<g clip-path="url(#cAfm)"><rect x="518.2" y="235.6" width="138.79999999999995" height="67.4" fill="url(#gAfm)"/><rect x="518.2" y="235.6" width="138.79999999999995" height="67.4" filter="url(#fAfm)" opacity="0.18"/><g filter="url(#fBlob)" opacity="0.5"><ellipse cx="541.09" cy="275.93" rx="4.09" ry="2.72" fill="#fffaf0"/><ellipse cx="548.18" cy="278.61" rx="4.52" ry="2.77" fill="#fffaf0"/><ellipse cx="588.31" cy="264.14" rx="2.51" ry="2.56" fill="#fffaf0"/><ellipse cx="599.45" cy="259.8" rx="4.48" ry="2.35" fill="#fffaf0"/><ellipse cx="550.5" cy="259.1" rx="4.99" ry="3.11" fill="#fffaf0"/><ellipse cx="639.66" cy="274.01" rx="2.59" ry="2.49" fill="#fffaf0"/><ellipse cx="587.26" cy="261.01" rx="4.88" ry="2.55" fill="#fffaf0"/><ellipse cx="539.69" cy="279.26" rx="2.81" ry="3.39" fill="#fffaf0"/><ellipse cx="581.09" cy="272.35" rx="3.36" ry="2.73" fill="#fffaf0"/><ellipse cx="544.14" cy="258.97" rx="4.66" ry="2.35" fill="#fffaf0"/><ellipse cx="626.5" cy="263.42" rx="4.92" ry="3.34" fill="#fffaf0"/><ellipse cx="622.97" cy="277.83" rx="3.95" ry="3.09" fill="#fffaf0"/><ellipse cx="535.2" cy="270.38" rx="4.57" ry="2.3" fill="#fffaf0"/><ellipse cx="646.34" cy="281.08" rx="3.52" ry="2.55" fill="#fffaf0"/><ellipse cx="580.84" cy="268.03" rx="4.99" ry="2.58" fill="#fffaf0"/><ellipse cx="521.92" cy="260.42" rx="4.3" ry="3.49" fill="#fffaf0"/><ellipse cx="587.05" cy="270.78" rx="3.88" ry="3.12" fill="#fffaf0"/><ellipse cx="549.02" cy="273.83" rx="3.89" ry="2.93" fill="#fffaf0"/><ellipse cx="543.28" cy="262.42" rx="3.37" ry="3.39" fill="#fffaf0"/><ellipse cx="566.31" cy="273.53" rx="3.27" ry="2.15" fill="#fffaf0"/><ellipse cx="527.31" cy="279.16" rx="4.44" ry="2.56" fill="#fffaf0"/><ellipse cx="613.05" cy="275.57" rx="4.75" ry="3.44" fill="#fffaf0"/><ellipse cx="574.69" cy="283.72" rx="4.9" ry="2.89" fill="#fffaf0"/><ellipse cx="640.78" cy="270.76" rx="3.44" ry="2.37" fill="#fffaf0"/><ellipse cx="639.81" cy="262.22" rx="2.67" ry="3.21" fill="#fffaf0"/><ellipse cx="625.62" cy="270.56" rx="4.59" ry="2.08" fill="#fffaf0"/><ellipse cx="554.01" cy="265.54" rx="3.55" ry="2.26" fill="#fffaf0"/><ellipse cx="527.84" cy="266.79" rx="4.75" ry="3.48" fill="#fffaf0"/><ellipse cx="621.72" cy="270.45" rx="3.13" ry="3.44" fill="#fffaf0"/><ellipse cx="591.16" cy="276.94" rx="2.57" ry="2.32" fill="#fffaf0"/><ellipse cx="634.55" cy="278.68" rx="4.7" ry="2.9" fill="#fffaf0"/><ellipse cx="577.34" cy="273.11" rx="4.62" ry="2.46" fill="#fffaf0"/><ellipse cx="592.37" cy="265.18" rx="4.42" ry="2.02" fill="#fffaf0"/><ellipse cx="613.32" cy="282.8" rx="2.56" ry="2.89" fill="#fffaf0"/></g></g>
<rect x="522.3" y="296.8" width="27.8" height="2" fill="#fff"/>
<rect x="588.4" y="266.4" width="37.3" height="7.9" fill="none" stroke="#2440e0" stroke-width="0.9" stroke-dasharray="1.8,1.2"/>
<path d="M588.4,274.3 L553.8,317.3 M625.7,274.3 L642.5,317.3" stroke="#2440e0" stroke-width="0.8" stroke-dasharray="1.8,1.2"/>
<rect x="667.1" y="249.3" width="6.6" height="40.8" fill="url(#gCb)"/>
<text x="658.7" y="242.4" font-size="8.3" stroke="#000" stroke-width="0.16">3.4 µm</text>
<text x="657.5" y="300.9" font-size="8.3" stroke="#000" stroke-width="0.16">-0.5 µm</text>
<path d="M552.2,316.6 L552.2,392.5 L643.1,392.5" fill="none" stroke="#666" stroke-width="1"/>
<path d="M552.2,316.6 L549.6,316.6 M552.2,354.5 L549.6,354.5 M552.2,392.5 L549.6,392.5 M552.2,335.5 L550.8,335.5 M552.2,373.5 L550.8,373.5" stroke="#666" stroke-width="1"/>
<text x="549" y="319.4" font-size="7.9" text-anchor="end" stroke="#000" stroke-width="0.16">100</text>
<text x="549" y="357.3" font-size="7.9" text-anchor="end" stroke="#000" stroke-width="0.16">50</text>
<text x="549" y="395.3" font-size="7.9" text-anchor="end" stroke="#000" stroke-width="0.16">0</text>
<text x="647.2" y="395.6" font-size="8.3" stroke="#000" stroke-width="0.16">2.5 µm</text>
<text transform="translate(538,354) rotate(-90)" font-size="8.6" text-anchor="middle" stroke="#000" stroke-width="0.16">Height (nm)</text>
<rect x="554.2" y="317.3" width="88.3" height="19.4" fill="url(#gTan)" stroke="#2440e0" stroke-width="0.9" stroke-dasharray="1.8,1.2"/>
<path d="M552.5,385.26 L553.3,385.7 L554.1,384.81 L554.9,386.05 L555.7,385.23 L556.5,385.66 L557.3,386.37 L558.1,385.58 L558.9,386.6 L559.7,385.92 L560.5,386.73 L561.3,386.79 L562.1,386.22 L562.9,385.53 L563.7,387.01 L564.5,386.91 L565.3,386.21 L566.1,385.67 L566.9,386.5 L567.7,386.95 L568.5,385.9 L569.3,387.82 L570.1,386.32 L570.9,387.53 L571.7,387.91 L572.5,388.06 L573.3,387.78 L574.1,386.87 L574.9,388.21 L575.7,387.52 L576.5,387.5 L577.3,388.12 L578.1,387.84 L578.9,388.72 L579.7,388.65 L580.5,388.29 L581.3,387.28 L582.1,387.7 L582.9,387.85 L583.7,387.24 L584.5,387.42 L585.3,387.65 L586.1,386.6 L586.9,386.71 L587.7,387.53 L588.5,386.8 L589.3,386.82 L590.1,386.06 L590.9,386.3 L591.7,387.13 L592.5,385.71 L593.3,387.37 L594.1,386.73 L594.9,386.01 L595.7,387.16 L596.5,386.45 L597.3,379.97 L598.1,378.69 L598.9,378.22 L599.7,378.19 L600.5,377.41 L601.3,377.94 L602.1,377.03 L602.9,376.86 L603.7,376.56 L604.5,376.43 L605.3,375.52 L606.1,375.04 L606.9,375.43 L607.7,374.81 L608.5,375.41 L609.3,374.11 L610.1,373.87 L610.9,373.02 L611.7,368.35 L612.5,368.64 L613.3,367.96 L614.1,367 L614.9,367.46 L615.7,366.27 L616.5,366.19 L617.3,365.74 L618.1,365.3 L618.9,363.7 L619.7,364.14 L620.5,363.43 L621.3,362.69 L622.1,361.43 L622.9,362.11 L623.7,361.02 L624.5,360.34 L625.3,359.31 L626.1,358.88 L626.9,355.35 L627.7,355.48 L628.5,354.69 L629.3,354.1 L630.1,352.77 L630.9,351.96 L631.7,352.17 L632.5,351.34 L633.3,350.43 L634.1,349.56 L634.9,348.34 L635.7,347.27 L636.5,346.68 L637.3,345.97 L638.1,344.41 L638.9,343.38 L639.7,342.01 L640.5,340.38 L641.3,339.49 L642.1,338.47" fill="none" stroke="#2c7799" stroke-width="1.2" stroke-linejoin="round"/>
<text transform="translate(590.5,359.5) rotate(-36.5)" font-size="9.6" text-anchor="middle" stroke="#000" stroke-width="0.16">Grafting sites</text>
<path d="M584.3,375.5 L592.9,380.9" stroke="#000" stroke-width="0.7"/>
<path d="M595.5,382.3 L591.5,378.9 L590.6,381.1 Z" fill="#000"/>
<path d="M599.6,362.8 L608.2,367.6" stroke="#000" stroke-width="0.7"/>
<path d="M610.8,369 L606.8,365.6 L605.9,367.8 Z" fill="#000"/>
<path d="M613.9,347.9 L622.5,352.6" stroke="#000" stroke-width="0.7"/>
<path d="M625.1,354 L621.1,350.6 L620.2,352.8 Z" fill="#000"/>
<text x="-0.5" y="464.5" font-size="13.5" font-weight="bold" stroke="#000" stroke-width="0.16">f</text>
<path d="M41.5,466.4 L41.5,643.5 L219.8,643.5" fill="none" stroke="#666" stroke-width="1"/>
<text x="36.4" y="647.1" font-size="10.4" text-anchor="end" stroke="#000" stroke-width="0.16">0</text>
<text x="36.4" y="588.15" font-size="10.4" text-anchor="end" stroke="#000" stroke-width="0.16">5</text>
<text x="36.4" y="529.2" font-size="10.4" text-anchor="end" stroke="#000" stroke-width="0.16">10</text>
<text x="36.4" y="470.25" font-size="10.4" text-anchor="end" stroke="#000" stroke-width="0.16">15</text>
<text x="41.5" y="657.3" font-size="10.4" text-anchor="middle" stroke="#000" stroke-width="0.16">20</text>
<text x="100.93" y="657.3" font-size="10.4" text-anchor="middle" stroke="#000" stroke-width="0.16">30</text>
<text x="160.36" y="657.3" font-size="10.4" text-anchor="middle" stroke="#000" stroke-width="0.16">40</text>
<text x="219.79" y="657.3" font-size="10.4" text-anchor="middle" stroke="#000" stroke-width="0.16">50</text>
<path d="M41.5,643.4 L38.3,643.4 M41.5,584.45 L38.3,584.45 M41.5,525.5 L38.3,525.5 M41.5,466.55 L38.3,466.55 M41.5,613.92 L39.8,613.92 M41.5,554.98 L39.8,554.98 M41.5,496.02 L39.8,496.02 M41.5,643.5 L41.5,646.6 M100.93,643.5 L100.93,646.6 M160.36,643.5 L160.36,646.6 M219.79,643.5 L219.79,646.6 M71.22,643.5 L71.22,645 M130.64,643.5 L130.64,645 M190.07,643.5 L190.07,645" stroke="#666" stroke-width="1"/>
<text x="130.7" y="675" font-size="11.9" text-anchor="middle" stroke="#000" stroke-width="0.16">Time (ps)</text>
<text transform="translate(20,555) rotate(-90)" font-size="12" text-anchor="middle" stroke="#000" stroke-width="0.16">RMSD (Å)</text>
<path d="M41.49,612.73 L44.41,609.81 L47.33,613.61 L50.25,612.73 L53.76,606.89 L56.68,610.69 L59.6,609.81 L63.1,611.86 L66.02,608.94 L68.94,609.81 L71.86,608.35 L74.2,610.69 L77.7,608.35 L80.62,607.77 L83.54,612.73 L85.87,611.27 L88.21,612.73 L90.25,610.69 L92.59,609.81 L94.63,615.65 L98.14,617.11 L100.47,612.73 L103.39,615.65 L106.9,613.61 L109.23,617.11 L112.15,615.07 L115.07,617.11 L117.99,615.65 L120.91,619.16 L123.83,614.19 L126.75,613.61 L129.67,612.73 L133.47,620.62 L135.51,617.11 L138.43,617.7 L141.35,615.65 L144.27,612.73 L147.19,611.27 L149.52,609.81 L152.44,611.27 L155.36,614.19 L158.28,617.99 L161.2,614.19 L164.12,613.61 L167.04,611.86 L169.96,609.81 L172.01,613.61 L174.05,612.15 L176.39,612.15 L179.31,611.27 L182.22,611.86 L185.14,610.69 L188.06,610.69 L190.98,611.86 L193.9,613.32 L196.82,614.19 L199.74,612.73 L202.08,614.78 L204.71,616.53 L207.92,612.15 L211.42,614.19 L214.34,615.65 L217.26,617.11 L220.18,620.03" fill="none" stroke="#6f9fcb" stroke-width="1" stroke-linejoin="round"/>
<path d="M41.5,613.92 L45.07,598.6 L48.63,597.65 L53.98,576.2 L58.14,577.38 L68.24,575.61 L72.4,585.04 L74.78,585.63 L80.72,569.12 L86.67,597.18 L89.64,587.4 L92.02,586.81 L96.18,599.19 L100.93,599.78 L104.5,598.6 L109.84,618.41 L113.41,618.41 L118.76,588.93 L121.73,596.24 L124.7,615.46 L128.27,598.83 L131.24,599.78 L135.4,600.37 L139.56,615.46 L142.53,587.4 L144.91,598.6 L147.88,596.83 L151.45,585.98 L156.2,586.81 L159.77,597.65 L162.74,585.98 L166.9,585.63 L169.27,586.81 L172.25,578.55 L175.22,587.4 L178.19,597.18 L181.75,598.01 L183.54,595.65 L187.1,597.18 L189.48,610.98 L192.45,597.65 L195.42,598.83 L198.99,613.34 L201.96,613.92 L204.34,597.65 L207.9,598.83 L219.79,603.08" fill="none" stroke="#d66a1c" stroke-width="1.05" stroke-linejoin="round"/>
<path d="M102,567.9 L126,567.9" stroke="#d66a1c" stroke-width="1.1"/>
<path d="M162.4,567.9 L186,567.9" stroke="#6f9fcb" stroke-width="1.1"/>
<text x="127.8" y="571.6" font-size="10.6" stroke="#000" stroke-width="0.16"><tspan font-style="italic">sp</tspan><tspan dy="-3.8" font-size="7.2">2</tspan><tspan dy="3.8">C</tspan></text>
<text x="188.2" y="571.6" font-size="10.6" stroke="#000" stroke-width="0.16"><tspan font-style="italic">sp</tspan><tspan dy="-3.8" font-size="7.2">3</tspan><tspan dy="3.8">C</tspan></text>
<text x="76.8" y="466.8" font-size="9.4" stroke="#000" stroke-width="0.16">Simulated stiffness: 733 N m<tspan dy="-3.5" font-size="6.5">-1</tspan></text>
<g><circle cx="105.62" cy="512.36" r="1.45" fill="#fadacb" stroke="#e6a086" stroke-width="0.35"/><circle cx="98.18" cy="497.42" r="1.45" fill="#fadacb" stroke="#e6a086" stroke-width="0.35"/><circle cx="105.32" cy="512.71" r="1.45" fill="#f2b89e" stroke="#e6a086" stroke-width="0.35"/><circle cx="106.85" cy="522.08" r="1.45" fill="#f8d0bd" stroke="#e6a086" stroke-width="0.35"/><circle cx="86.27" cy="520.76" r="1.45" fill="#f2b89e" stroke="#e6a086" stroke-width="0.35"/><circle cx="98.68" cy="507.54" r="1.45" fill="#f5c3ab" stroke="#e6a086" stroke-width="0.35"/><circle cx="103.59" cy="493.65" r="1.45" fill="#f8d0bd" stroke="#e6a086" stroke-width="0.35"/><circle cx="110.83" cy="514.11" r="1.45" fill="#f2b89e" stroke="#e6a086" stroke-width="0.35"/><circle cx="76.76" cy="526.9" r="1.45" fill="#f8d0bd" stroke="#e6a086" stroke-width="0.35"/><circle cx="114.76" cy="527.88" r="1.45" fill="#f5c3ab" stroke="#e6a086" stroke-width="0.35"/><circle cx="104.96" cy="495.09" r="1.45" fill="#f2b89e" stroke="#e6a086" stroke-width="0.35"/><circle cx="101.48" cy="496.06" r="1.45" fill="#f5c3ab" stroke="#e6a086" stroke-width="0.35"/><circle cx="113.55" cy="515.28" r="1.45" fill="#f5c3ab" stroke="#e6a086" stroke-width="0.35"/><circle cx="137.12" cy="534.93" r="1.45" fill="#f5c3ab" stroke="#e6a086" stroke-width="0.35"/><circle cx="89.57" cy="513.83" r="1.45" fill="#f2b89e" stroke="#e6a086" stroke-width="0.35"/><circle cx="100.48" cy="521.07" r="1.45" fill="#f2b89e" stroke="#e6a086" stroke-width="0.35"/><circle cx="105.96" cy="515.35" r="1.45" fill="#f8d0bd" stroke="#e6a086" stroke-width="0.35"/><circle cx="145" cy="534.54" r="1.45" fill="#fadacb" stroke="#e6a086" stroke-width="0.35"/><circle cx="99.24" cy="507.04" r="1.45" fill="#f2b89e" stroke="#e6a086" stroke-width="0.35"/><circle cx="84.3" cy="521.32" r="1.45" fill="#f5c3ab" stroke="#e6a086" stroke-width="0.35"/><circle cx="99.61" cy="506.09" r="1.45" fill="#f5c3ab" stroke="#e6a086" stroke-width="0.35"/><circle cx="103.27" cy="492.27" r="1.45" fill="#f2b89e" stroke="#e6a086" stroke-width="0.35"/><circle cx="100.05" cy="492.47" r="1.45" fill="#f2b89e" stroke="#e6a086" stroke-width="0.35"/><circle cx="100.68" cy="492.96" r="1.45" fill="#f8d0bd" stroke="#e6a086" stroke-width="0.35"/><circle cx="86.54" cy="524.9" r="1.45" fill="#f8d0bd" stroke="#e6a086" stroke-width="0.35"/><circle cx="79.49" cy="522.32" r="1.45" fill="#fadacb" stroke="#e6a086" stroke-width="0.35"/><circle cx="104.34" cy="513.42" r="1.45" fill="#f8d0bd" stroke="#e6a086" stroke-width="0.35"/><circle cx="97.65" cy="514.13" r="1.45" fill="#fadacb" stroke="#e6a086" stroke-width="0.35"/><circle cx="101.5" cy="503.69" r="1.45" fill="#f2b89e" stroke="#e6a086" stroke-width="0.35"/><circle cx="107.76" cy="501.8" r="1.45" fill="#f2b89e" stroke="#e6a086" stroke-width="0.35"/><circle cx="91.56" cy="532.59" r="1.45" fill="#f5c3ab" stroke="#e6a086" stroke-width="0.35"/><circle cx="86.13" cy="525.49" r="1.45" fill="#f8d0bd" stroke="#e6a086" stroke-width="0.35"/><circle cx="138.93" cy="533.65" r="1.45" fill="#fadacb" stroke="#e6a086" stroke-width="0.35"/><circle cx="104.68" cy="499.08" r="1.45" fill="#f8d0bd" stroke="#e6a086" stroke-width="0.35"/><circle cx="97.14" cy="502.14" r="1.45" fill="#fadacb" stroke="#e6a086" stroke-width="0.35"/><circle cx="102.33" cy="535.93" r="1.45" fill="#f8d0bd" stroke="#e6a086" stroke-width="0.35"/><circle cx="135.46" cy="532.74" r="1.45" fill="#fadacb" stroke="#e6a086" stroke-width="0.35"/><circle cx="90.58" cy="519.77" r="1.45" fill="#f2b89e" stroke="#e6a086" stroke-width="0.35"/><circle cx="97.54" cy="513.04" r="1.45" fill="#f2b89e" stroke="#e6a086" stroke-width="0.35"/><circle cx="76.34" cy="531.24" r="1.45" fill="#fadacb" stroke="#e6a086" stroke-width="0.35"/><circle cx="84.01" cy="518.76" r="1.45" fill="#fadacb" stroke="#e6a086" stroke-width="0.35"/><circle cx="104.02" cy="533.48" r="1.45" fill="#f2b89e" stroke="#e6a086" stroke-width="0.35"/><circle cx="87.81" cy="522.71" r="1.45" fill="#fadacb" stroke="#e6a086" stroke-width="0.35"/><circle cx="87.41" cy="514.44" r="1.45" fill="#f8d0bd" stroke="#e6a086" stroke-width="0.35"/><circle cx="84.19" cy="522.23" r="1.45" fill="#fadacb" stroke="#e6a086" stroke-width="0.35"/><circle cx="95.82" cy="509.91" r="1.45" fill="#f2b89e" stroke="#e6a086" stroke-width="0.35"/><circle cx="90.12" cy="512.23" r="1.45" fill="#fadacb" stroke="#e6a086" stroke-width="0.35"/><circle cx="97.76" cy="525.22" r="1.45" fill="#f8d0bd" stroke="#e6a086" stroke-width="0.35"/><circle cx="127.18" cy="531.54" r="1.45" fill="#fadacb" stroke="#e6a086" stroke-width="0.35"/><circle cx="114.7" cy="535.1" r="1.45" fill="#f2b89e" stroke="#e6a086" stroke-width="0.35"/><circle cx="85.23" cy="516.35" r="1.45" fill="#f5c3ab" stroke="#e6a086" stroke-width="0.35"/><circle cx="127.92" cy="531.67" r="1.45" fill="#f8d0bd" stroke="#e6a086" stroke-width="0.35"/><circle cx="106.23" cy="531.97" r="1.45" fill="#f2b89e" stroke="#e6a086" stroke-width="0.35"/><circle cx="116.59" cy="526.66" r="1.45" fill="#f5c3ab" stroke="#e6a086" stroke-width="0.35"/><circle cx="108.5" cy="505.05" r="1.45" fill="#f2b89e" stroke="#e6a086" stroke-width="0.35"/><circle cx="86.87" cy="518.99" r="1.45" fill="#f2b89e" stroke="#e6a086" stroke-width="0.35"/><circle cx="86.4" cy="517.13" r="1.45" fill="#fadacb" stroke="#e6a086" stroke-width="0.35"/><circle cx="104.74" cy="505.56" r="1.45" fill="#f5c3ab" stroke="#e6a086" stroke-width="0.35"/><circle cx="112.41" cy="521.89" r="1.45" fill="#fadacb" stroke="#e6a086" stroke-width="0.35"/><circle cx="114.66" cy="522.31" r="1.45" fill="#f2b89e" stroke="#e6a086" stroke-width="0.35"/><circle cx="92.91" cy="507.45" r="1.45" fill="#f2b89e" stroke="#e6a086" stroke-width="0.35"/><circle cx="100.93" cy="519.03" r="1.45" fill="#f8d0bd" stroke="#e6a086" stroke-width="0.35"/><circle cx="94.75" cy="521.03" r="1.45" fill="#f5c3ab" stroke="#e6a086" stroke-width="0.35"/><circle cx="71.76" cy="530.79" r="1.45" fill="#f5c3ab" stroke="#e6a086" stroke-width="0.35"/><circle cx="101.54" cy="491.35" r="1.45" fill="#fadacb" stroke="#e6a086" stroke-width="0.35"/><circle cx="117.99" cy="529.2" r="1.45" fill="#fadacb" stroke="#e6a086" stroke-width="0.35"/><circle cx="106.56" cy="500.92" r="1.45" fill="#fadacb" stroke="#e6a086" stroke-width="0.35"/><circle cx="101.7" cy="498.31" r="1.45" fill="#f5c3ab" stroke="#e6a086" stroke-width="0.35"/><circle cx="108.7" cy="511.71" r="1.45" fill="#f8d0bd" stroke="#e6a086" stroke-width="0.35"/><circle cx="84.5" cy="528.43" r="1.45" fill="#f2b89e" stroke="#e6a086" stroke-width="0.35"/><circle cx="99.7" cy="514.46" r="1.45" fill="#f8d0bd" stroke="#e6a086" stroke-width="0.35"/><circle cx="107.11" cy="534.76" r="1.45" fill="#fadacb" stroke="#e6a086" stroke-width="0.35"/><circle cx="105.82" cy="506.76" r="1.45" fill="#fadacb" stroke="#e6a086" stroke-width="0.35"/><circle cx="126.8" cy="525.88" r="1.45" fill="#fadacb" stroke="#e6a086" stroke-width="0.35"/><circle cx="101.8" cy="498.67" r="1.45" fill="#f5c3ab" stroke="#e6a086" stroke-width="0.35"/><circle cx="96.17" cy="502.33" r="1.45" fill="#fadacb" stroke="#e6a086" stroke-width="0.35"/><circle cx="108.02" cy="503.85" r="1.45" fill="#fadacb" stroke="#e6a086" stroke-width="0.35"/><circle cx="109.22" cy="508.51" r="1.45" fill="#fadacb" stroke="#e6a086" stroke-width="0.35"/><circle cx="100.07" cy="497.67" r="1.45" fill="#f8d0bd" stroke="#e6a086" stroke-width="0.35"/><circle cx="111.86" cy="528.92" r="1.45" fill="#f2b89e" stroke="#e6a086" stroke-width="0.35"/><circle cx="104.2" cy="509.56" r="1.45" fill="#fadacb" stroke="#e6a086" stroke-width="0.35"/><circle cx="106.29" cy="506.29" r="1.45" fill="#f2b89e" stroke="#e6a086" stroke-width="0.35"/><circle cx="99.66" cy="508.31" r="1.45" fill="#f5c3ab" stroke="#e6a086" stroke-width="0.35"/><circle cx="99.42" cy="498.64" r="1.45" fill="#fadacb" stroke="#e6a086" stroke-width="0.35"/><circle cx="100.44" cy="495.93" r="1.45" fill="#f8d0bd" stroke="#e6a086" stroke-width="0.35"/><circle cx="116.1" cy="530.08" r="1.45" fill="#fadacb" stroke="#e6a086" stroke-width="0.35"/><circle cx="139.91" cy="535.11" r="1.45" fill="#f5c3ab" stroke="#e6a086" stroke-width="0.35"/><circle cx="89.78" cy="529.65" r="1.45" fill="#f5c3ab" stroke="#e6a086" stroke-width="0.35"/><circle cx="122.6" cy="524.71" r="1.45" fill="#fadacb" stroke="#e6a086" stroke-width="0.35"/><circle cx="103.38" cy="492.92" r="1.45" fill="#f5c3ab" stroke="#e6a086" stroke-width="0.35"/><circle cx="103.84" cy="498.35" r="1.45" fill="#fadacb" stroke="#e6a086" stroke-width="0.35"/><circle cx="143.9" cy="532.71" r="1.45" fill="#fadacb" stroke="#e6a086" stroke-width="0.35"/><circle cx="86.12" cy="515.58" r="1.45" fill="#f8d0bd" stroke="#e6a086" stroke-width="0.35"/><circle cx="101.67" cy="507.41" r="1.45" fill="#f5c3ab" stroke="#e6a086" stroke-width="0.35"/><circle cx="102.23" cy="511.18" r="1.45" fill="#f5c3ab" stroke="#e6a086" stroke-width="0.35"/><circle cx="103.75" cy="527.03" r="1.45" fill="#fadacb" stroke="#e6a086" stroke-width="0.35"/><circle cx="104.96" cy="512.03" r="1.45" fill="#f2b89e" stroke="#e6a086" stroke-width="0.35"/><circle cx="133.48" cy="529.38" r="1.45" fill="#f8d0bd" stroke="#e6a086" stroke-width="0.35"/><circle cx="90.77" cy="523.18" r="1.45" fill="#f5c3ab" stroke="#e6a086" stroke-width="0.35"/><circle cx="111.18" cy="513.12" r="1.45" fill="#f8d0bd" stroke="#e6a086" stroke-width="0.35"/><circle cx="118.62" cy="534.03" r="1.45" fill="#f2b89e" stroke="#e6a086" stroke-width="0.35"/><circle cx="116.48" cy="515.69" r="1.45" fill="#fadacb" stroke="#e6a086" stroke-width="0.35"/><circle cx="121.71" cy="524.92" r="1.45" fill="#f5c3ab" stroke="#e6a086" stroke-width="0.35"/><circle cx="97.03" cy="506.68" r="1.45" fill="#f2b89e" stroke="#e6a086" stroke-width="0.35"/><circle cx="99.41" cy="494.79" r="1.45" fill="#f8d0bd" stroke="#e6a086" stroke-width="0.35"/><circle cx="62.68" cy="532.99" r="1.45" fill="#f8d0bd" stroke="#e6a086" stroke-width="0.35"/><circle cx="104.67" cy="517.69" r="1.45" fill="#f2b89e" stroke="#e6a086" stroke-width="0.35"/><circle cx="99.95" cy="519.31" r="1.45" fill="#fadacb" stroke="#e6a086" stroke-width="0.35"/><circle cx="102.58" cy="510.06" r="1.45" fill="#fadacb" stroke="#e6a086" stroke-width="0.35"/><circle cx="96.32" cy="527" r="1.45" fill="#fadacb" stroke="#e6a086" stroke-width="0.35"/><circle cx="145.35" cy="533.87" r="1.45" fill="#fadacb" stroke="#e6a086" stroke-width="0.35"/><circle cx="99.06" cy="497.4" r="1.45" fill="#f2b89e" stroke="#e6a086" stroke-width="0.35"/><circle cx="107.76" cy="518.01" r="1.45" fill="#f8d0bd" stroke="#e6a086" stroke-width="0.35"/><circle cx="98.22" cy="499.89" r="1.45" fill="#f2b89e" stroke="#e6a086" stroke-width="0.35"/><circle cx="119.74" cy="523.89" r="1.45" fill="#fadacb" stroke="#e6a086" stroke-width="0.35"/><circle cx="99.74" cy="506.29" r="1.45" fill="#f2b89e" stroke="#e6a086" stroke-width="0.35"/><circle cx="108.4" cy="506.41" r="1.45" fill="#fadacb" stroke="#e6a086" stroke-width="0.35"/><circle cx="101.18" cy="493.9" r="1.45" fill="#fadacb" stroke="#e6a086" stroke-width="0.35"/><circle cx="87.28" cy="518.56" r="1.45" fill="#f2b89e" stroke="#e6a086" stroke-width="0.35"/><circle cx="88.57" cy="524.52" r="1.45" fill="#f2b89e" stroke="#e6a086" stroke-width="0.35"/><circle cx="66.97" cy="535.59" r="1.45" fill="#f2b89e" stroke="#e6a086" stroke-width="0.35"/><circle cx="102.42" cy="498.78" r="1.45" fill="#fadacb" stroke="#e6a086" stroke-width="0.35"/><circle cx="97.96" cy="508.03" r="1.45" fill="#fadacb" stroke="#e6a086" stroke-width="0.35"/><circle cx="137.73" cy="531.81" r="1.45" fill="#f2b89e" stroke="#e6a086" stroke-width="0.35"/><circle cx="102.67" cy="494.2" r="1.45" fill="#f5c3ab" stroke="#e6a086" stroke-width="0.35"/><circle cx="113.18" cy="533.32" r="1.45" fill="#fadacb" stroke="#e6a086" stroke-width="0.35"/><circle cx="76.95" cy="529.63" r="1.45" fill="#fadacb" stroke="#e6a086" stroke-width="0.35"/><circle cx="104.34" cy="505.96" r="1.45" fill="#f2b89e" stroke="#e6a086" stroke-width="0.35"/><circle cx="101.24" cy="492.93" r="1.45" fill="#f8d0bd" stroke="#e6a086" stroke-width="0.35"/><circle cx="105.67" cy="528.57" r="1.45" fill="#fadacb" stroke="#e6a086" stroke-width="0.35"/><circle cx="101.88" cy="498.37" r="1.45" fill="#f8d0bd" stroke="#e6a086" stroke-width="0.35"/><circle cx="86.93" cy="521.32" r="1.45" fill="#f2b89e" stroke="#e6a086" stroke-width="0.35"/><circle cx="96.96" cy="501.28" r="1.45" fill="#f5c3ab" stroke="#e6a086" stroke-width="0.35"/><circle cx="99.84" cy="499.45" r="1.45" fill="#f8d0bd" stroke="#e6a086" stroke-width="0.35"/><circle cx="105.2" cy="519.67" r="1.45" fill="#f2b89e" stroke="#e6a086" stroke-width="0.35"/><circle cx="91.82" cy="524.46" r="1.45" fill="#f5c3ab" stroke="#e6a086" stroke-width="0.35"/><circle cx="93.48" cy="533.17" r="1.45" fill="#f2b89e" stroke="#e6a086" stroke-width="0.35"/><circle cx="97.07" cy="508.49" r="1.45" fill="#f5c3ab" stroke="#e6a086" stroke-width="0.35"/><circle cx="102.21" cy="501.76" r="1.45" fill="#f2b89e" stroke="#e6a086" stroke-width="0.35"/><circle cx="106.07" cy="513.57" r="1.45" fill="#fadacb" stroke="#e6a086" stroke-width="0.35"/><circle cx="98.24" cy="506.99" r="1.45" fill="#f8d0bd" stroke="#e6a086" stroke-width="0.35"/><circle cx="102.93" cy="494.34" r="1.45" fill="#fadacb" stroke="#e6a086" stroke-width="0.35"/><circle cx="111.16" cy="508.56" r="1.45" fill="#f2b89e" stroke="#e6a086" stroke-width="0.35"/><circle cx="104.73" cy="497.82" r="1.45" fill="#f2b89e" stroke="#e6a086" stroke-width="0.35"/><circle cx="90.29" cy="516.97" r="1.45" fill="#f2b89e" stroke="#e6a086" stroke-width="0.35"/><circle cx="91.79" cy="509.62" r="1.45" fill="#f8d0bd" stroke="#e6a086" stroke-width="0.35"/><circle cx="102.32" cy="511.39" r="1.45" fill="#f5c3ab" stroke="#e6a086" stroke-width="0.35"/><circle cx="98.84" cy="498.13" r="1.45" fill="#f2b89e" stroke="#e6a086" stroke-width="0.35"/><circle cx="95.9" cy="514.05" r="1.45" fill="#f8d0bd" stroke="#e6a086" stroke-width="0.35"/><circle cx="72.55" cy="532.98" r="1.45" fill="#f5c3ab" stroke="#e6a086" stroke-width="0.35"/><circle cx="102.24" cy="508.1" r="1.45" fill="#fadacb" stroke="#e6a086" stroke-width="0.35"/><circle cx="105.32" cy="532.93" r="1.45" fill="#fadacb" stroke="#e6a086" stroke-width="0.35"/><circle cx="79.78" cy="526.34" r="1.45" fill="#f5c3ab" stroke="#e6a086" stroke-width="0.35"/><circle cx="105.68" cy="525.44" r="1.45" fill="#f5c3ab" stroke="#e6a086" stroke-width="0.35"/><circle cx="102.31" cy="502.73" r="1.45" fill="#f2b89e" stroke="#e6a086" stroke-width="0.35"/><circle cx="102.78" cy="495.89" r="1.45" fill="#f5c3ab" stroke="#e6a086" stroke-width="0.35"/><circle cx="108.46" cy="534.39" r="1.45" fill="#f8d0bd" stroke="#e6a086" stroke-width="0.35"/><circle cx="90.38" cy="510.62" r="1.45" fill="#f2b89e" stroke="#e6a086" stroke-width="0.35"/><circle cx="108.47" cy="508.28" r="1.45" fill="#f8d0bd" stroke="#e6a086" stroke-width="0.35"/><circle cx="104.36" cy="494.5" r="1.45" fill="#f2b89e" stroke="#e6a086" stroke-width="0.35"/><circle cx="112.98" cy="516.28" r="1.45" fill="#f2b89e" stroke="#e6a086" stroke-width="0.35"/><circle cx="112.59" cy="515.48" r="1.45" fill="#fadacb" stroke="#e6a086" stroke-width="0.35"/><circle cx="93.72" cy="509.68" r="1.45" fill="#fadacb" stroke="#e6a086" stroke-width="0.35"/><circle cx="105.09" cy="526.83" r="1.45" fill="#fadacb" stroke="#e6a086" stroke-width="0.35"/><circle cx="76.23" cy="535.57" r="1.45" fill="#f2b89e" stroke="#e6a086" stroke-width="0.35"/><circle cx="102.05" cy="503.59" r="1.45" fill="#f2b89e" stroke="#e6a086" stroke-width="0.35"/><circle cx="109.86" cy="514.59" r="1.45" fill="#f8d0bd" stroke="#e6a086" stroke-width="0.35"/><circle cx="115.88" cy="530.11" r="1.45" fill="#fadacb" stroke="#e6a086" stroke-width="0.35"/><circle cx="94.62" cy="522.16" r="1.45" fill="#f8d0bd" stroke="#e6a086" stroke-width="0.35"/><circle cx="76.91" cy="528.13" r="1.45" fill="#f5c3ab" stroke="#e6a086" stroke-width="0.35"/><circle cx="100.2" cy="493.88" r="1.45" fill="#f5c3ab" stroke="#e6a086" stroke-width="0.35"/><circle cx="104.93" cy="498.97" r="1.45" fill="#fadacb" stroke="#e6a086" stroke-width="0.35"/><circle cx="77.06" cy="535.01" r="1.45" fill="#f2b89e" stroke="#e6a086" stroke-width="0.35"/><circle cx="100.7" cy="491.88" r="1.45" fill="#f2b89e" stroke="#e6a086" stroke-width="0.35"/><circle cx="108.39" cy="516.62" r="1.45" fill="#f5c3ab" stroke="#e6a086" stroke-width="0.35"/><circle cx="121.11" cy="528.08" r="1.45" fill="#fadacb" stroke="#e6a086" stroke-width="0.35"/><circle cx="107.71" cy="510.46" r="1.45" fill="#f5c3ab" stroke="#e6a086" stroke-width="0.35"/><circle cx="97.82" cy="498.62" r="1.45" fill="#fadacb" stroke="#e6a086" stroke-width="0.35"/><circle cx="94.34" cy="507.11" r="1.45" fill="#f2b89e" stroke="#e6a086" stroke-width="0.35"/><circle cx="98.93" cy="507.74" r="1.45" fill="#f8d0bd" stroke="#e6a086" stroke-width="0.35"/><circle cx="102.82" cy="516.48" r="1.45" fill="#f8d0bd" stroke="#e6a086" stroke-width="0.35"/><circle cx="107.32" cy="504.44" r="1.45" fill="#fadacb" stroke="#e6a086" stroke-width="0.35"/><circle cx="104.61" cy="497.27" r="1.45" fill="#fadacb" stroke="#e6a086" stroke-width="0.35"/><circle cx="102.44" cy="501.77" r="1.45" fill="#f5c3ab" stroke="#e6a086" stroke-width="0.35"/><circle cx="71" cy="530.8" r="1.45" fill="#f8d0bd" stroke="#e6a086" stroke-width="0.35"/><circle cx="110.7" cy="518.43" r="1.45" fill="#fadacb" stroke="#e6a086" stroke-width="0.35"/><circle cx="127.69" cy="535.93" r="1.45" fill="#f2b89e" stroke="#e6a086" stroke-width="0.35"/><circle cx="100.55" cy="500.85" r="1.45" fill="#fadacb" stroke="#e6a086" stroke-width="0.35"/><circle cx="104.18" cy="493.32" r="1.45" fill="#fadacb" stroke="#e6a086" stroke-width="0.35"/><circle cx="100.92" cy="520.71" r="1.45" fill="#f5c3ab" stroke="#e6a086" stroke-width="0.35"/><circle cx="113.4" cy="529.71" r="1.45" fill="#f8d0bd" stroke="#e6a086" stroke-width="0.35"/><circle cx="101.56" cy="521.09" r="1.45" fill="#f5c3ab" stroke="#e6a086" stroke-width="0.35"/><circle cx="106.58" cy="514.15" r="1.45" fill="#f2b89e" stroke="#e6a086" stroke-width="0.35"/><circle cx="98.08" cy="515.02" r="1.45" fill="#fadacb" stroke="#e6a086" stroke-width="0.35"/><circle cx="133.7" cy="535.32" r="1.45" fill="#f5c3ab" stroke="#e6a086" stroke-width="0.35"/><circle cx="89.53" cy="517.57" r="1.45" fill="#f2b89e" stroke="#e6a086" stroke-width="0.35"/><circle cx="127.28" cy="523.27" r="1.45" fill="#f8d0bd" stroke="#e6a086" stroke-width="0.35"/><circle cx="101.06" cy="500.08" r="1.45" fill="#f5c3ab" stroke="#e6a086" stroke-width="0.35"/><circle cx="96.38" cy="502.54" r="1.45" fill="#f2b89e" stroke="#e6a086" stroke-width="0.35"/><circle cx="118.93" cy="535.45" r="1.45" fill="#f8d0bd" stroke="#e6a086" stroke-width="0.35"/><circle cx="99.06" cy="510.53" r="1.45" fill="#f5c3ab" stroke="#e6a086" stroke-width="0.35"/><circle cx="105" cy="498.6" r="1.45" fill="#f5c3ab" stroke="#e6a086" stroke-width="0.35"/><circle cx="86.71" cy="520.25" r="1.45" fill="#f5c3ab" stroke="#e6a086" stroke-width="0.35"/><circle cx="108.84" cy="523.55" r="1.45" fill="#f5c3ab" stroke="#e6a086" stroke-width="0.35"/><circle cx="101.87" cy="492.95" r="1.45" fill="#f2b89e" stroke="#e6a086" stroke-width="0.35"/><circle cx="82.47" cy="524.37" r="1.45" fill="#f8d0bd" stroke="#e6a086" stroke-width="0.35"/><circle cx="101.13" cy="529.59" r="1.45" fill="#f5c3ab" stroke="#e6a086" stroke-width="0.35"/><circle cx="105.83" cy="497.69" r="1.45" fill="#f2b89e" stroke="#e6a086" stroke-width="0.35"/><circle cx="133.21" cy="526.7" r="1.45" fill="#fadacb" stroke="#e6a086" stroke-width="0.35"/><circle cx="104.29" cy="514.25" r="1.45" fill="#fadacb" stroke="#e6a086" stroke-width="0.35"/><circle cx="100.55" cy="502.26" r="1.45" fill="#fadacb" stroke="#e6a086" stroke-width="0.35"/><circle cx="106.98" cy="532.21" r="1.45" fill="#f8d0bd" stroke="#e6a086" stroke-width="0.35"/><circle cx="91.15" cy="510.19" r="1.45" fill="#f5c3ab" stroke="#e6a086" stroke-width="0.35"/><circle cx="114" cy="534.39" r="1.45" fill="#f5c3ab" stroke="#e6a086" stroke-width="0.35"/><circle cx="109.68" cy="521.25" r="1.45" fill="#f8d0bd" stroke="#e6a086" stroke-width="0.35"/><circle cx="102.77" cy="491.37" r="1.45" fill="#f5c3ab" stroke="#e6a086" stroke-width="0.35"/><circle cx="102.87" cy="509.14" r="1.45" fill="#f8d0bd" stroke="#e6a086" stroke-width="0.35"/><circle cx="111.54" cy="510.75" r="1.45" fill="#f8d0bd" stroke="#e6a086" stroke-width="0.35"/><circle cx="109.99" cy="513.98" r="1.45" fill="#f8d0bd" stroke="#e6a086" stroke-width="0.35"/><circle cx="129.79" cy="526.73" r="1.45" fill="#f8d0bd" stroke="#e6a086" stroke-width="0.35"/><circle cx="138.74" cy="528.9" r="1.45" fill="#f8d0bd" stroke="#e6a086" stroke-width="0.35"/><circle cx="98.6" cy="497.79" r="1.45" fill="#fadacb" stroke="#e6a086" stroke-width="0.35"/><circle cx="95.06" cy="525.19" r="1.45" fill="#fadacb" stroke="#e6a086" stroke-width="0.35"/><circle cx="82.28" cy="523.45" r="1.45" fill="#f5c3ab" stroke="#e6a086" stroke-width="0.35"/><circle cx="108.6" cy="510.74" r="1.45" fill="#f8d0bd" stroke="#e6a086" stroke-width="0.35"/><circle cx="98.95" cy="530.54" r="1.45" fill="#f2b89e" stroke="#e6a086" stroke-width="0.35"/><circle cx="97.49" cy="507.72" r="1.45" fill="#fadacb" stroke="#e6a086" stroke-width="0.35"/><circle cx="65.74" cy="535.94" r="1.45" fill="#fadacb" stroke="#e6a086" stroke-width="0.35"/><circle cx="99.91" cy="501.36" r="1.45" fill="#fadacb" stroke="#e6a086" stroke-width="0.35"/><circle cx="101.63" cy="526" r="1.45" fill="#fadacb" stroke="#e6a086" stroke-width="0.35"/><circle cx="100.7" cy="491.18" r="1.45" fill="#f8d0bd" stroke="#e6a086" stroke-width="0.35"/><circle cx="101.48" cy="498.12" r="1.45" fill="#f2b89e" stroke="#e6a086" stroke-width="0.35"/><circle cx="118.74" cy="521.57" r="1.45" fill="#f2b89e" stroke="#e6a086" stroke-width="0.35"/><circle cx="125.03" cy="530.84" r="1.45" fill="#f2b89e" stroke="#e6a086" stroke-width="0.35"/><circle cx="82.4" cy="522.14" r="1.45" fill="#f5c3ab" stroke="#e6a086" stroke-width="0.35"/><circle cx="88.99" cy="518.35" r="1.45" fill="#f2b89e" stroke="#e6a086" stroke-width="0.35"/><circle cx="98.66" cy="505.05" r="1.45" fill="#f5c3ab" stroke="#e6a086" stroke-width="0.35"/><circle cx="103.71" cy="493.12" r="1.45" fill="#fadacb" stroke="#e6a086" stroke-width="0.35"/><circle cx="103.16" cy="513.21" r="1.45" fill="#f5c3ab" stroke="#e6a086" stroke-width="0.35"/><circle cx="128.68" cy="532.48" r="1.45" fill="#f2b89e" stroke="#e6a086" stroke-width="0.35"/><circle cx="102.91" cy="496.89" r="1.45" fill="#f2b89e" stroke="#e6a086" stroke-width="0.35"/><circle cx="101.88" cy="491.27" r="1.45" fill="#fadacb" stroke="#e6a086" stroke-width="0.35"/><circle cx="101.1" cy="494.41" r="1.45" fill="#f8d0bd" stroke="#e6a086" stroke-width="0.35"/><circle cx="101.49" cy="495.86" r="1.45" fill="#fadacb" stroke="#e6a086" stroke-width="0.35"/><circle cx="101.13" cy="499.77" r="1.45" fill="#f5c3ab" stroke="#e6a086" stroke-width="0.35"/><circle cx="121.54" cy="532.76" r="1.45" fill="#f8d0bd" stroke="#e6a086" stroke-width="0.35"/><circle cx="87.36" cy="524.23" r="1.45" fill="#f8d0bd" stroke="#e6a086" stroke-width="0.35"/><circle cx="103.4" cy="493.31" r="1.45" fill="#f5c3ab" stroke="#e6a086" stroke-width="0.35"/><circle cx="101.51" cy="491.97" r="1.45" fill="#f8d0bd" stroke="#e6a086" stroke-width="0.35"/><circle cx="95.53" cy="507.55" r="1.45" fill="#f2b89e" stroke="#e6a086" stroke-width="0.35"/><circle cx="85.53" cy="519.02" r="1.45" fill="#f8d0bd" stroke="#e6a086" stroke-width="0.35"/><circle cx="108.13" cy="532.5" r="1.45" fill="#f2b89e" stroke="#e6a086" stroke-width="0.35"/><circle cx="103.18" cy="499.33" r="1.45" fill="#f2b89e" stroke="#e6a086" stroke-width="0.35"/><circle cx="95.05" cy="506.18" r="1.45" fill="#f5c3ab" stroke="#e6a086" stroke-width="0.35"/><circle cx="105.66" cy="504.73" r="1.45" fill="#f8d0bd" stroke="#e6a086" stroke-width="0.35"/><circle cx="100.25" cy="492.27" r="1.45" fill="#f5c3ab" stroke="#e6a086" stroke-width="0.35"/><circle cx="114.87" cy="525.55" r="1.45" fill="#fadacb" stroke="#e6a086" stroke-width="0.35"/><circle cx="101.33" cy="498.46" r="1.45" fill="#f2b89e" stroke="#e6a086" stroke-width="0.35"/><circle cx="91" cy="529.87" r="1.45" fill="#f8d0bd" stroke="#e6a086" stroke-width="0.35"/><circle cx="104.11" cy="492.83" r="1.45" fill="#f8d0bd" stroke="#e6a086" stroke-width="0.35"/><circle cx="61.8" cy="535.31" r="1.45" fill="#f2b89e" stroke="#e6a086" stroke-width="0.35"/><circle cx="107.81" cy="526.02" r="1.45" fill="#f2b89e" stroke="#e6a086" stroke-width="0.35"/><circle cx="99.49" cy="513.41" r="1.45" fill="#f5c3ab" stroke="#e6a086" stroke-width="0.35"/><circle cx="98.43" cy="515.64" r="1.45" fill="#f5c3ab" stroke="#e6a086" stroke-width="0.35"/><circle cx="117.26" cy="517.4" r="1.45" fill="#fadacb" stroke="#e6a086" stroke-width="0.35"/><circle cx="106.16" cy="498.71" r="1.45" fill="#f2b89e" stroke="#e6a086" stroke-width="0.35"/><circle cx="103.15" cy="503.64" r="1.45" fill="#f8d0bd" stroke="#e6a086" stroke-width="0.35"/><circle cx="105.34" cy="500.33" r="1.45" fill="#f8d0bd" stroke="#e6a086" stroke-width="0.35"/><circle cx="102.52" cy="498.67" r="1.45" fill="#f2b89e" stroke="#e6a086" stroke-width="0.35"/><circle cx="142.13" cy="530.24" r="1.45" fill="#f2b89e" stroke="#e6a086" stroke-width="0.35"/><circle cx="87.01" cy="520.83" r="1.45" fill="#fadacb" stroke="#e6a086" stroke-width="0.35"/><circle cx="107.57" cy="531.72" r="1.45" fill="#fadacb" stroke="#e6a086" stroke-width="0.35"/><circle cx="121.77" cy="521.7" r="1.45" fill="#f5c3ab" stroke="#e6a086" stroke-width="0.35"/><circle cx="103.59" cy="491.96" r="1.45" fill="#f8d0bd" stroke="#e6a086" stroke-width="0.35"/><circle cx="84.21" cy="530.36" r="1.45" fill="#fadacb" stroke="#e6a086" stroke-width="0.35"/><circle cx="94.56" cy="534.18" r="1.45" fill="#fadacb" stroke="#e6a086" stroke-width="0.35"/><circle cx="104.67" cy="511.35" r="1.45" fill="#f2b89e" stroke="#e6a086" stroke-width="0.35"/><circle cx="91.49" cy="510.51" r="1.45" fill="#f8d0bd" stroke="#e6a086" stroke-width="0.35"/><circle cx="103.15" cy="496.49" r="1.45" fill="#f8d0bd" stroke="#e6a086" stroke-width="0.35"/><circle cx="102.79" cy="515.12" r="1.45" fill="#f5c3ab" stroke="#e6a086" stroke-width="0.35"/><circle cx="104.55" cy="525.41" r="1.45" fill="#f8d0bd" stroke="#e6a086" stroke-width="0.35"/><circle cx="103.34" cy="492.19" r="1.45" fill="#f2b89e" stroke="#e6a086" stroke-width="0.35"/><circle cx="104.11" cy="508.28" r="1.45" fill="#f8d0bd" stroke="#e6a086" stroke-width="0.35"/><circle cx="114.67" cy="518.59" r="1.45" fill="#f2b89e" stroke="#e6a086" stroke-width="0.35"/><circle cx="101.33" cy="492.94" r="1.45" fill="#f5c3ab" stroke="#e6a086" stroke-width="0.35"/><circle cx="68.06" cy="533.67" r="1.45" fill="#fadacb" stroke="#e6a086" stroke-width="0.35"/><circle cx="95.59" cy="508" r="1.45" fill="#f2b89e" stroke="#e6a086" stroke-width="0.35"/><circle cx="99.28" cy="500.36" r="1.45" fill="#f5c3ab" stroke="#e6a086" stroke-width="0.35"/><circle cx="101.83" cy="500.35" r="1.45" fill="#f2b89e" stroke="#e6a086" stroke-width="0.35"/><circle cx="141.29" cy="530.38" r="1.45" fill="#f5c3ab" stroke="#e6a086" stroke-width="0.35"/><circle cx="110.01" cy="525.37" r="1.45" fill="#f8d0bd" stroke="#e6a086" stroke-width="0.35"/><circle cx="102.45" cy="495.12" r="1.45" fill="#f2b89e" stroke="#e6a086" stroke-width="0.35"/><circle cx="120.36" cy="526.61" r="1.45" fill="#fadacb" stroke="#e6a086" stroke-width="0.35"/><circle cx="101.17" cy="496.5" r="1.45" fill="#f2b89e" stroke="#e6a086" stroke-width="0.35"/><circle cx="98.98" cy="518.44" r="1.45" fill="#f5c3ab" stroke="#e6a086" stroke-width="0.35"/><circle cx="104.45" cy="497.51" r="1.45" fill="#f2b89e" stroke="#e6a086" stroke-width="0.35"/><circle cx="105.13" cy="496.36" r="1.45" fill="#fadacb" stroke="#e6a086" stroke-width="0.35"/><circle cx="97.64" cy="503.86" r="1.45" fill="#f2b89e" stroke="#e6a086" stroke-width="0.35"/><circle cx="113.59" cy="518.71" r="1.45" fill="#f8d0bd" stroke="#e6a086" stroke-width="0.35"/><circle cx="101.6" cy="492.68" r="1.45" fill="#f8d0bd" stroke="#e6a086" stroke-width="0.35"/><circle cx="105.81" cy="514.15" r="1.45" fill="#fadacb" stroke="#e6a086" stroke-width="0.35"/><circle cx="96.64" cy="501.38" r="1.45" fill="#f2b89e" stroke="#e6a086" stroke-width="0.35"/><circle cx="108.8" cy="525.05" r="1.45" fill="#f8d0bd" stroke="#e6a086" stroke-width="0.35"/><circle cx="82.9" cy="521.98" r="1.45" fill="#f8d0bd" stroke="#e6a086" stroke-width="0.35"/><circle cx="102.81" cy="498.88" r="1.45" fill="#f2b89e" stroke="#e6a086" stroke-width="0.35"/><circle cx="104.85" cy="499.02" r="1.45" fill="#fadacb" stroke="#e6a086" stroke-width="0.35"/><circle cx="110.66" cy="535.75" r="1.45" fill="#f8d0bd" stroke="#e6a086" stroke-width="0.35"/><circle cx="66.28" cy="534.98" r="1.45" fill="#f2b89e" stroke="#e6a086" stroke-width="0.35"/><circle cx="106.65" cy="507.3" r="1.45" fill="#f2b89e" stroke="#e6a086" stroke-width="0.35"/><circle cx="106.75" cy="501.03" r="1.45" fill="#f2b89e" stroke="#e6a086" stroke-width="0.35"/><circle cx="120.04" cy="529.72" r="1.45" fill="#fadacb" stroke="#e6a086" stroke-width="0.35"/><circle cx="100.59" cy="496.27" r="1.45" fill="#f5c3ab" stroke="#e6a086" stroke-width="0.35"/><circle cx="126.42" cy="532.79" r="1.45" fill="#fadacb" stroke="#e6a086" stroke-width="0.35"/><circle cx="116.53" cy="519.25" r="1.45" fill="#f5c3ab" stroke="#e6a086" stroke-width="0.35"/><circle cx="103.31" cy="493.92" r="1.45" fill="#f8d0bd" stroke="#e6a086" stroke-width="0.35"/><circle cx="118.78" cy="526.6" r="1.45" fill="#f2b89e" stroke="#e6a086" stroke-width="0.35"/><circle cx="104.51" cy="496.52" r="1.45" fill="#f8d0bd" stroke="#e6a086" stroke-width="0.35"/><circle cx="118.17" cy="522.29" r="1.45" fill="#f8d0bd" stroke="#e6a086" stroke-width="0.35"/><circle cx="101.59" cy="503.08" r="1.45" fill="#f5c3ab" stroke="#e6a086" stroke-width="0.35"/><circle cx="94.35" cy="520.08" r="1.45" fill="#f2b89e" stroke="#e6a086" stroke-width="0.35"/><circle cx="106.55" cy="500.11" r="1.45" fill="#f2b89e" stroke="#e6a086" stroke-width="0.35"/><circle cx="103.59" cy="498.82" r="1.45" fill="#f5c3ab" stroke="#e6a086" stroke-width="0.35"/><circle cx="99.08" cy="502.92" r="1.45" fill="#f2b89e" stroke="#e6a086" stroke-width="0.35"/><circle cx="97.09" cy="502.55" r="1.45" fill="#f5c3ab" stroke="#e6a086" stroke-width="0.35"/><circle cx="132.68" cy="530.29" r="1.45" fill="#f5c3ab" stroke="#e6a086" stroke-width="0.35"/><circle cx="93.51" cy="514.33" r="1.45" fill="#fadacb" stroke="#e6a086" stroke-width="0.35"/><circle cx="102.26" cy="491.47" r="1.45" fill="#f8d0bd" stroke="#e6a086" stroke-width="0.35"/><circle cx="114.03" cy="511.68" r="1.45" fill="#f5c3ab" stroke="#e6a086" stroke-width="0.35"/><circle cx="106.36" cy="507.79" r="1.45" fill="#f8d0bd" stroke="#e6a086" stroke-width="0.35"/><circle cx="106.62" cy="504.72" r="1.45" fill="#f2b89e" stroke="#e6a086" stroke-width="0.35"/><circle cx="97.21" cy="523.52" r="1.45" fill="#f2b89e" stroke="#e6a086" stroke-width="0.35"/><circle cx="95.39" cy="516.92" r="1.45" fill="#f2b89e" stroke="#e6a086" stroke-width="0.35"/><circle cx="109.95" cy="522.92" r="1.45" fill="#fadacb" stroke="#e6a086" stroke-width="0.35"/><circle cx="102.37" cy="518.62" r="1.45" fill="#f2b89e" stroke="#e6a086" stroke-width="0.35"/><circle cx="109.24" cy="533.35" r="1.45" fill="#fadacb" stroke="#e6a086" stroke-width="0.35"/><circle cx="97.81" cy="511.07" r="1.45" fill="#f5c3ab" stroke="#e6a086" stroke-width="0.35"/><circle cx="102.56" cy="509.78" r="1.45" fill="#fadacb" stroke="#e6a086" stroke-width="0.35"/><circle cx="80.2" cy="527.11" r="1.45" fill="#fadacb" stroke="#e6a086" stroke-width="0.35"/><circle cx="103.55" cy="526.32" r="1.45" fill="#f2b89e" stroke="#e6a086" stroke-width="0.35"/><circle cx="106.32" cy="500.86" r="1.45" fill="#fadacb" stroke="#e6a086" stroke-width="0.35"/><circle cx="87.34" cy="513.87" r="1.45" fill="#f5c3ab" stroke="#e6a086" stroke-width="0.35"/><circle cx="128.57" cy="527.8" r="1.45" fill="#f2b89e" stroke="#e6a086" stroke-width="0.35"/><circle cx="101.83" cy="521.63" r="1.45" fill="#f8d0bd" stroke="#e6a086" stroke-width="0.35"/><circle cx="103.99" cy="500.57" r="1.45" fill="#f2b89e" stroke="#e6a086" stroke-width="0.35"/><circle cx="101.06" cy="503.61" r="1.45" fill="#f5c3ab" stroke="#e6a086" stroke-width="0.35"/><circle cx="104.14" cy="514.3" r="1.45" fill="#fadacb" stroke="#e6a086" stroke-width="0.35"/><circle cx="90.13" cy="516.22" r="1.45" fill="#f8d0bd" stroke="#e6a086" stroke-width="0.35"/><circle cx="102.56" cy="510.35" r="1.45" fill="#f5c3ab" stroke="#e6a086" stroke-width="0.35"/><circle cx="110.98" cy="512.12" r="1.45" fill="#f2b89e" stroke="#e6a086" stroke-width="0.35"/><circle cx="99" cy="501.14" r="1.45" fill="#f5c3ab" stroke="#e6a086" stroke-width="0.35"/><circle cx="100.4" cy="523.8" r="1.45" fill="#f2b89e" stroke="#e6a086" stroke-width="0.35"/><circle cx="89.64" cy="523.86" r="1.45" fill="#f8d0bd" stroke="#e6a086" stroke-width="0.35"/><circle cx="124.97" cy="534.08" r="1.45" fill="#f2b89e" stroke="#e6a086" stroke-width="0.35"/><circle cx="104.21" cy="508.53" r="1.45" fill="#f5c3ab" stroke="#e6a086" stroke-width="0.35"/><circle cx="100.63" cy="494.6" r="1.45" fill="#f5c3ab" stroke="#e6a086" stroke-width="0.35"/><circle cx="106.87" cy="514.19" r="1.45" fill="#f8d0bd" stroke="#e6a086" stroke-width="0.35"/><circle cx="101.93" cy="492.77" r="1.45" fill="#f5c3ab" stroke="#e6a086" stroke-width="0.35"/><circle cx="130.94" cy="531.51" r="1.45" fill="#f8d0bd" stroke="#e6a086" stroke-width="0.35"/><circle cx="105.75" cy="503.28" r="1.45" fill="#f2b89e" stroke="#e6a086" stroke-width="0.35"/><circle cx="95.98" cy="507.24" r="1.45" fill="#f8d0bd" stroke="#e6a086" stroke-width="0.35"/><circle cx="101.88" cy="506.26" r="1.45" fill="#fadacb" stroke="#e6a086" stroke-width="0.35"/><circle cx="103.37" cy="493.03" r="1.45" fill="#fadacb" stroke="#e6a086" stroke-width="0.35"/><circle cx="97.8" cy="526.05" r="1.45" fill="#f2b89e" stroke="#e6a086" stroke-width="0.35"/><circle cx="101.85" cy="491.89" r="1.45" fill="#f2b89e" stroke="#e6a086" stroke-width="0.35"/><circle cx="108.42" cy="514.51" r="1.45" fill="#f2b89e" stroke="#e6a086" stroke-width="0.35"/><circle cx="98.2" cy="497.81" r="1.45" fill="#f2b89e" stroke="#e6a086" stroke-width="0.35"/><circle cx="111.96" cy="527.48" r="1.45" fill="#f2b89e" stroke="#e6a086" stroke-width="0.35"/><circle cx="98.9" cy="513.74" r="1.45" fill="#f5c3ab" stroke="#e6a086" stroke-width="0.35"/><circle cx="92.2" cy="531.84" r="1.45" fill="#fadacb" stroke="#e6a086" stroke-width="0.35"/><circle cx="107.37" cy="519.11" r="1.45" fill="#f5c3ab" stroke="#e6a086" stroke-width="0.35"/><circle cx="85.2" cy="516.19" r="1.45" fill="#f5c3ab" stroke="#e6a086" stroke-width="0.35"/><circle cx="102.13" cy="493.63" r="1.45" fill="#f5c3ab" stroke="#e6a086" stroke-width="0.35"/><circle cx="100.54" cy="495.85" r="1.45" fill="#f8d0bd" stroke="#e6a086" stroke-width="0.35"/><circle cx="106.14" cy="505.74" r="1.45" fill="#f8d0bd" stroke="#e6a086" stroke-width="0.35"/><circle cx="105.63" cy="496.99" r="1.45" fill="#f8d0bd" stroke="#e6a086" stroke-width="0.35"/><circle cx="101.25" cy="494.51" r="1.45" fill="#fadacb" stroke="#e6a086" stroke-width="0.35"/><circle cx="70.36" cy="531.64" r="1.45" fill="#f5c3ab" stroke="#e6a086" stroke-width="0.35"/><circle cx="103.13" cy="502.33" r="1.45" fill="#f2b89e" stroke="#e6a086" stroke-width="0.35"/><circle cx="102.35" cy="520.26" r="1.45" fill="#f8d0bd" stroke="#e6a086" stroke-width="0.35"/><circle cx="99.33" cy="513.58" r="1.45" fill="#f5c3ab" stroke="#e6a086" stroke-width="0.35"/><circle cx="87.36" cy="533.34" r="1.45" fill="#f8d0bd" stroke="#e6a086" stroke-width="0.35"/><circle cx="110.99" cy="513.44" r="1.45" fill="#f8d0bd" stroke="#e6a086" stroke-width="0.35"/><circle cx="99.33" cy="514.92" r="1.45" fill="#fadacb" stroke="#e6a086" stroke-width="0.35"/><circle cx="82.47" cy="518.93" r="1.45" fill="#f8d0bd" stroke="#e6a086" stroke-width="0.35"/><circle cx="95.51" cy="521.1" r="1.45" fill="#fadacb" stroke="#e6a086" stroke-width="0.35"/><circle cx="123.61" cy="524.37" r="1.45" fill="#fadacb" stroke="#e6a086" stroke-width="0.35"/><circle cx="81.57" cy="531.25" r="1.45" fill="#fadacb" stroke="#e6a086" stroke-width="0.35"/><circle cx="98.87" cy="515.79" r="1.45" fill="#f2b89e" stroke="#e6a086" stroke-width="0.35"/><circle cx="87.79" cy="528.62" r="1.45" fill="#fadacb" stroke="#e6a086" stroke-width="0.35"/><circle cx="99.31" cy="495.54" r="1.45" fill="#f2b89e" stroke="#e6a086" stroke-width="0.35"/><circle cx="103.37" cy="495.87" r="1.45" fill="#f8d0bd" stroke="#e6a086" stroke-width="0.35"/><circle cx="107.49" cy="506.44" r="1.45" fill="#f8d0bd" stroke="#e6a086" stroke-width="0.35"/><circle cx="101.72" cy="493.88" r="1.45" fill="#f8d0bd" stroke="#e6a086" stroke-width="0.35"/><circle cx="85.61" cy="535.08" r="1.45" fill="#f5c3ab" stroke="#e6a086" stroke-width="0.35"/><circle cx="94.62" cy="505.89" r="1.45" fill="#f5c3ab" stroke="#e6a086" stroke-width="0.35"/><circle cx="92.64" cy="512.36" r="1.45" fill="#fadacb" stroke="#e6a086" stroke-width="0.35"/><circle cx="112" cy="512.44" r="1.45" fill="#fadacb" stroke="#e6a086" stroke-width="0.35"/><circle cx="97.8" cy="498.76" r="1.45" fill="#f5c3ab" stroke="#e6a086" stroke-width="0.35"/><circle cx="121.18" cy="530.56" r="1.45" fill="#f5c3ab" stroke="#e6a086" stroke-width="0.35"/><circle cx="101.35" cy="494.31" r="1.45" fill="#f8d0bd" stroke="#e6a086" stroke-width="0.35"/><circle cx="101.72" cy="495.17" r="1.45" fill="#f2b89e" stroke="#e6a086" stroke-width="0.35"/><circle cx="105.23" cy="501.22" r="1.45" fill="#fadacb" stroke="#e6a086" stroke-width="0.35"/><circle cx="95.66" cy="511.41" r="1.45" fill="#f8d0bd" stroke="#e6a086" stroke-width="0.35"/><circle cx="100.1" cy="499.13" r="1.45" fill="#f5c3ab" stroke="#e6a086" stroke-width="0.35"/><circle cx="109.75" cy="516" r="1.45" fill="#fadacb" stroke="#e6a086" stroke-width="0.35"/><circle cx="85.19" cy="521.91" r="1.45" fill="#f5c3ab" stroke="#e6a086" stroke-width="0.35"/><circle cx="95.2" cy="521.18" r="1.45" fill="#f5c3ab" stroke="#e6a086" stroke-width="0.35"/><circle cx="100.18" cy="507.23" r="1.45" fill="#f8d0bd" stroke="#e6a086" stroke-width="0.35"/><circle cx="103.54" cy="492.68" r="1.45" fill="#f8d0bd" stroke="#e6a086" stroke-width="0.35"/><circle cx="105.94" cy="497.91" r="1.45" fill="#f2b89e" stroke="#e6a086" stroke-width="0.35"/><circle cx="99.66" cy="502.37" r="1.45" fill="#f2b89e" stroke="#e6a086" stroke-width="0.35"/><circle cx="109.96" cy="513.63" r="1.45" fill="#f5c3ab" stroke="#e6a086" stroke-width="0.35"/><circle cx="111.31" cy="514.25" r="1.45" fill="#f5c3ab" stroke="#e6a086" stroke-width="0.35"/><circle cx="104.8" cy="495.66" r="1.45" fill="#f5c3ab" stroke="#e6a086" stroke-width="0.35"/><circle cx="76.56" cy="532.59" r="1.45" fill="#fadacb" stroke="#e6a086" stroke-width="0.35"/><circle cx="100.38" cy="506.57" r="1.45" fill="#f2b89e" stroke="#e6a086" stroke-width="0.35"/><circle cx="102.79" cy="496.83" r="1.45" fill="#f2b89e" stroke="#e6a086" stroke-width="0.35"/><circle cx="96.16" cy="507.38" r="1.45" fill="#fadacb" stroke="#e6a086" stroke-width="0.35"/><circle cx="78.87" cy="527.81" r="1.45" fill="#f2b89e" stroke="#e6a086" stroke-width="0.35"/><circle cx="100.4" cy="525.7" r="1.45" fill="#f5c3ab" stroke="#e6a086" stroke-width="0.35"/><circle cx="93.14" cy="522.35" r="1.45" fill="#f8d0bd" stroke="#e6a086" stroke-width="0.35"/><circle cx="99.38" cy="495.95" r="1.45" fill="#fadacb" stroke="#e6a086" stroke-width="0.35"/><circle cx="103.9" cy="519.1" r="1.45" fill="#fadacb" stroke="#e6a086" stroke-width="0.35"/><circle cx="83.16" cy="521.92" r="1.45" fill="#f8d0bd" stroke="#e6a086" stroke-width="0.35"/><circle cx="120.03" cy="528.13" r="1.45" fill="#fadacb" stroke="#e6a086" stroke-width="0.35"/><circle cx="122.68" cy="523.05" r="1.45" fill="#fadacb" stroke="#e6a086" stroke-width="0.35"/><circle cx="114.68" cy="518.72" r="1.45" fill="#f5c3ab" stroke="#e6a086" stroke-width="0.35"/><circle cx="98.55" cy="500" r="1.45" fill="#f2b89e" stroke="#e6a086" stroke-width="0.35"/><circle cx="96.39" cy="504.85" r="1.45" fill="#f2b89e" stroke="#e6a086" stroke-width="0.35"/><circle cx="130.78" cy="526.46" r="1.45" fill="#f5c3ab" stroke="#e6a086" stroke-width="0.35"/><circle cx="100.19" cy="513.87" r="1.45" fill="#f5c3ab" stroke="#e6a086" stroke-width="0.35"/><circle cx="88.76" cy="512.54" r="1.45" fill="#f8d0bd" stroke="#e6a086" stroke-width="0.35"/><circle cx="89.73" cy="515.71" r="1.45" fill="#fadacb" stroke="#e6a086" stroke-width="0.35"/><circle cx="104.79" cy="500.14" r="1.45" fill="#f2b89e" stroke="#e6a086" stroke-width="0.35"/><circle cx="99.32" cy="524.38" r="1.45" fill="#fadacb" stroke="#e6a086" stroke-width="0.35"/><circle cx="95.45" cy="504.64" r="1.45" fill="#fadacb" stroke="#e6a086" stroke-width="0.35"/><circle cx="79.91" cy="520.79" r="1.45" fill="#f5c3ab" stroke="#e6a086" stroke-width="0.35"/><circle cx="100.74" cy="495.48" r="1.45" fill="#f8d0bd" stroke="#e6a086" stroke-width="0.35"/><circle cx="102.67" cy="525.89" r="1.45" fill="#f2b89e" stroke="#e6a086" stroke-width="0.35"/><circle cx="98.27" cy="504.97" r="1.45" fill="#f8d0bd" stroke="#e6a086" stroke-width="0.35"/><circle cx="95.26" cy="513.74" r="1.45" fill="#f5c3ab" stroke="#e6a086" stroke-width="0.35"/><circle cx="89.7" cy="511.11" r="1.45" fill="#f8d0bd" stroke="#e6a086" stroke-width="0.35"/><circle cx="108.37" cy="520.9" r="1.45" fill="#f5c3ab" stroke="#e6a086" stroke-width="0.35"/><circle cx="134.68" cy="534.41" r="1.45" fill="#f2b89e" stroke="#e6a086" stroke-width="0.35"/><circle cx="99.37" cy="496.98" r="1.45" fill="#f8d0bd" stroke="#e6a086" stroke-width="0.35"/><circle cx="110.04" cy="520.08" r="1.45" fill="#fadacb" stroke="#e6a086" stroke-width="0.35"/><circle cx="87.58" cy="517.98" r="1.45" fill="#f5c3ab" stroke="#e6a086" stroke-width="0.35"/><circle cx="126.47" cy="534.44" r="1.45" fill="#f5c3ab" stroke="#e6a086" stroke-width="0.35"/><circle cx="74.32" cy="527.02" r="1.45" fill="#f5c3ab" stroke="#e6a086" stroke-width="0.35"/><circle cx="97.36" cy="501.93" r="1.45" fill="#f8d0bd" stroke="#e6a086" stroke-width="0.35"/><circle cx="100.19" cy="494.91" r="1.45" fill="#f5c3ab" stroke="#e6a086" stroke-width="0.35"/><circle cx="94.08" cy="508.05" r="1.45" fill="#f5c3ab" stroke="#e6a086" stroke-width="0.35"/><circle cx="86.63" cy="535.93" r="1.45" fill="#f8d0bd" stroke="#e6a086" stroke-width="0.35"/><circle cx="115.81" cy="520.1" r="1.45" fill="#f5c3ab" stroke="#e6a086" stroke-width="0.35"/><circle cx="106.71" cy="506.95" r="1.45" fill="#f2b89e" stroke="#e6a086" stroke-width="0.35"/><circle cx="133.97" cy="527.42" r="1.45" fill="#f5c3ab" stroke="#e6a086" stroke-width="0.35"/><circle cx="113.21" cy="525.39" r="1.45" fill="#f5c3ab" stroke="#e6a086" stroke-width="0.35"/><circle cx="105.53" cy="501.27" r="1.45" fill="#f5c3ab" stroke="#e6a086" stroke-width="0.35"/><circle cx="92.44" cy="520.1" r="1.45" fill="#fadacb" stroke="#e6a086" stroke-width="0.35"/><circle cx="106.82" cy="518.97" r="1.45" fill="#f8d0bd" stroke="#e6a086" stroke-width="0.35"/><circle cx="105.81" cy="505.59" r="1.45" fill="#f2b89e" stroke="#e6a086" stroke-width="0.35"/><circle cx="103.02" cy="494.02" r="1.45" fill="#f2b89e" stroke="#e6a086" stroke-width="0.35"/><circle cx="64.45" cy="536" r="1.45" fill="#fadacb" stroke="#e6a086" stroke-width="0.35"/><circle cx="101.4" cy="502.95" r="1.45" fill="#fadacb" stroke="#e6a086" stroke-width="0.35"/><circle cx="103.75" cy="498.39" r="1.45" fill="#fadacb" stroke="#e6a086" stroke-width="0.35"/><circle cx="82.9" cy="524.64" r="1.45" fill="#fadacb" stroke="#e6a086" stroke-width="0.35"/><circle cx="99.77" cy="495.83" r="1.45" fill="#f8d0bd" stroke="#e6a086" stroke-width="0.35"/><circle cx="100.21" cy="524.25" r="1.45" fill="#f2b89e" stroke="#e6a086" stroke-width="0.35"/><circle cx="102.97" cy="499.07" r="1.45" fill="#f8d0bd" stroke="#e6a086" stroke-width="0.35"/><circle cx="121.15" cy="531.72" r="1.45" fill="#f5c3ab" stroke="#e6a086" stroke-width="0.35"/><circle cx="100.62" cy="502.77" r="1.45" fill="#fadacb" stroke="#e6a086" stroke-width="0.35"/><circle cx="112.61" cy="514.68" r="1.45" fill="#fadacb" stroke="#e6a086" stroke-width="0.35"/><circle cx="108" cy="528.69" r="1.45" fill="#f5c3ab" stroke="#e6a086" stroke-width="0.35"/><circle cx="100.28" cy="492.02" r="1.45" fill="#fadacb" stroke="#e6a086" stroke-width="0.35"/><circle cx="122.63" cy="520.25" r="1.45" fill="#f2b89e" stroke="#e6a086" stroke-width="0.35"/><circle cx="104.59" cy="494.78" r="1.45" fill="#f5c3ab" stroke="#e6a086" stroke-width="0.35"/><circle cx="103.27" cy="525.41" r="1.45" fill="#fadacb" stroke="#e6a086" stroke-width="0.35"/><circle cx="105.5" cy="502.59" r="1.45" fill="#fadacb" stroke="#e6a086" stroke-width="0.35"/><circle cx="95.28" cy="530.52" r="1.45" fill="#fadacb" stroke="#e6a086" stroke-width="0.35"/><circle cx="101.17" cy="500.56" r="1.45" fill="#fadacb" stroke="#e6a086" stroke-width="0.35"/><circle cx="103.91" cy="506.15" r="1.45" fill="#fadacb" stroke="#e6a086" stroke-width="0.35"/><circle cx="105.23" cy="527.52" r="1.45" fill="#f5c3ab" stroke="#e6a086" stroke-width="0.35"/><circle cx="95.08" cy="508.62" r="1.45" fill="#f5c3ab" stroke="#e6a086" stroke-width="0.35"/><circle cx="115.31" cy="526.15" r="1.45" fill="#f5c3ab" stroke="#e6a086" stroke-width="0.35"/><circle cx="102.12" cy="494.19" r="1.45" fill="#f8d0bd" stroke="#e6a086" stroke-width="0.35"/><circle cx="121.21" cy="525.78" r="1.45" fill="#f2b89e" stroke="#e6a086" stroke-width="0.35"/><circle cx="141.82" cy="530.76" r="1.45" fill="#f8d0bd" stroke="#e6a086" stroke-width="0.35"/><circle cx="96.51" cy="506.8" r="1.45" fill="#fadacb" stroke="#e6a086" stroke-width="0.35"/><circle cx="105.93" cy="497.94" r="1.45" fill="#f8d0bd" stroke="#e6a086" stroke-width="0.35"/><circle cx="89.17" cy="518.83" r="1.45" fill="#f5c3ab" stroke="#e6a086" stroke-width="0.35"/><circle cx="97.92" cy="498.65" r="1.45" fill="#f2b89e" stroke="#e6a086" stroke-width="0.35"/><circle cx="87.56" cy="522.72" r="1.45" fill="#f2b89e" stroke="#e6a086" stroke-width="0.35"/><circle cx="88.06" cy="529.47" r="1.45" fill="#fadacb" stroke="#e6a086" stroke-width="0.35"/><circle cx="103.3" cy="497.47" r="1.45" fill="#f8d0bd" stroke="#e6a086" stroke-width="0.35"/><circle cx="95.3" cy="517.56" r="1.45" fill="#f8d0bd" stroke="#e6a086" stroke-width="0.35"/><circle cx="102.26" cy="499.87" r="1.45" fill="#fadacb" stroke="#e6a086" stroke-width="0.35"/><circle cx="131.42" cy="527.6" r="1.45" fill="#f5c3ab" stroke="#e6a086" stroke-width="0.35"/><circle cx="98.03" cy="503.36" r="1.45" fill="#fadacb" stroke="#e6a086" stroke-width="0.35"/><circle cx="111.72" cy="520.98" r="1.45" fill="#fadacb" stroke="#e6a086" stroke-width="0.35"/><circle cx="107.87" cy="514.01" r="1.45" fill="#fadacb" stroke="#e6a086" stroke-width="0.35"/><circle cx="105.64" cy="506.36" r="1.45" fill="#f8d0bd" stroke="#e6a086" stroke-width="0.35"/><circle cx="101.41" cy="529.65" r="1.45" fill="#fadacb" stroke="#e6a086" stroke-width="0.35"/><circle cx="73.57" cy="535.27" r="1.45" fill="#fadacb" stroke="#e6a086" stroke-width="0.35"/><circle cx="102.79" cy="508.84" r="1.45" fill="#f5c3ab" stroke="#e6a086" stroke-width="0.35"/><circle cx="85.89" cy="516.86" r="1.45" fill="#fadacb" stroke="#e6a086" stroke-width="0.35"/><circle cx="93.26" cy="516.36" r="1.45" fill="#f5c3ab" stroke="#e6a086" stroke-width="0.35"/><circle cx="95.21" cy="510.17" r="1.45" fill="#fadacb" stroke="#e6a086" stroke-width="0.35"/><circle cx="102.63" cy="512.83" r="1.45" fill="#f2b89e" stroke="#e6a086" stroke-width="0.35"/><circle cx="102.07" cy="495.86" r="1.45" fill="#f2b89e" stroke="#e6a086" stroke-width="0.35"/><circle cx="104.53" cy="494.55" r="1.45" fill="#f8d0bd" stroke="#e6a086" stroke-width="0.35"/><circle cx="94.3" cy="514.81" r="1.45" fill="#f8d0bd" stroke="#e6a086" stroke-width="0.35"/><circle cx="102.34" cy="491.64" r="1.45" fill="#f5c3ab" stroke="#e6a086" stroke-width="0.35"/><circle cx="65.94" cy="532.33" r="1.45" fill="#f8d0bd" stroke="#e6a086" stroke-width="0.35"/><circle cx="101.87" cy="505.53" r="1.45" fill="#fadacb" stroke="#e6a086" stroke-width="0.35"/><circle cx="122.31" cy="521.52" r="1.45" fill="#f5c3ab" stroke="#e6a086" stroke-width="0.35"/><circle cx="97.17" cy="505.95" r="1.45" fill="#f8d0bd" stroke="#e6a086" stroke-width="0.35"/><circle cx="107.03" cy="522.41" r="1.45" fill="#f2b89e" stroke="#e6a086" stroke-width="0.35"/><circle cx="96.4" cy="507.63" r="1.45" fill="#f5c3ab" stroke="#e6a086" stroke-width="0.35"/><circle cx="100.82" cy="501.36" r="1.45" fill="#f8d0bd" stroke="#e6a086" stroke-width="0.35"/><circle cx="105.99" cy="502.09" r="1.45" fill="#f2b89e" stroke="#e6a086" stroke-width="0.35"/><circle cx="133.82" cy="535.42" r="1.4" fill="#f6c8b2" stroke="#e2977a" stroke-width="0.35"/><circle cx="140.46" cy="533.78" r="1.4" fill="#f6c8b2" stroke="#e2977a" stroke-width="0.35"/><circle cx="139.02" cy="530.39" r="1.4" fill="#f6c8b2" stroke="#e2977a" stroke-width="0.35"/><circle cx="137.61" cy="533.57" r="1.4" fill="#f6c8b2" stroke="#e2977a" stroke-width="0.35"/><circle cx="139.76" cy="530.28" r="1.4" fill="#f6c8b2" stroke="#e2977a" stroke-width="0.35"/><circle cx="139.04" cy="528.71" r="1.4" fill="#f6c8b2" stroke="#e2977a" stroke-width="0.35"/><circle cx="135.59" cy="535.53" r="1.4" fill="#f6c8b2" stroke="#e2977a" stroke-width="0.35"/><circle cx="137.67" cy="533.81" r="1.4" fill="#f6c8b2" stroke="#e2977a" stroke-width="0.35"/><circle cx="130.35" cy="530.35" r="1.4" fill="#f6c8b2" stroke="#e2977a" stroke-width="0.35"/><circle cx="135.3" cy="534.25" r="1.4" fill="#f6c8b2" stroke="#e2977a" stroke-width="0.35"/><circle cx="131.09" cy="531.86" r="1.4" fill="#f6c8b2" stroke="#e2977a" stroke-width="0.35"/><circle cx="137.69" cy="533.2" r="1.4" fill="#f6c8b2" stroke="#e2977a" stroke-width="0.35"/><circle cx="131.33" cy="527.89" r="1.4" fill="#f6c8b2" stroke="#e2977a" stroke-width="0.35"/><circle cx="132.68" cy="528.74" r="1.4" fill="#f6c8b2" stroke="#e2977a" stroke-width="0.35"/><circle cx="135.3" cy="531.74" r="1.4" fill="#f6c8b2" stroke="#e2977a" stroke-width="0.35"/><circle cx="128.61" cy="535.43" r="1.4" fill="#f6c8b2" stroke="#e2977a" stroke-width="0.35"/><circle cx="139.89" cy="528.74" r="1.4" fill="#f6c8b2" stroke="#e2977a" stroke-width="0.35"/><circle cx="131.55" cy="535.62" r="1.4" fill="#f6c8b2" stroke="#e2977a" stroke-width="0.35"/></g>
<g filter="url(#fCf)"><circle cx="49" cy="537.23" r="1.35" fill="#e5764e"/><circle cx="50.7" cy="537.96" r="1.35" fill="#ea845e"/><circle cx="52.4" cy="537.87" r="1.35" fill="#e5764e"/><circle cx="54.1" cy="537.76" r="1.35" fill="#e5764e"/><circle cx="55.8" cy="537.81" r="1.35" fill="#df6a42"/><circle cx="57.5" cy="537.58" r="1.35" fill="#df6a42"/><circle cx="59.2" cy="537.64" r="1.35" fill="#ea845e"/><circle cx="60.9" cy="537.59" r="1.35" fill="#ea845e"/><circle cx="62.6" cy="537.64" r="1.35" fill="#df6a42"/><circle cx="64.3" cy="537.28" r="1.35" fill="#df6a42"/><circle cx="66" cy="537.69" r="1.35" fill="#df6a42"/><circle cx="67.7" cy="537.33" r="1.35" fill="#ea845e"/><circle cx="69.4" cy="537.55" r="1.35" fill="#ea845e"/><circle cx="71.1" cy="537.86" r="1.35" fill="#df6a42"/><circle cx="72.8" cy="537.66" r="1.35" fill="#df6a42"/><circle cx="74.5" cy="537.89" r="1.35" fill="#ea845e"/><circle cx="76.2" cy="537.52" r="1.35" fill="#e5764e"/><circle cx="77.9" cy="537.43" r="1.35" fill="#df6a42"/><circle cx="79.6" cy="537.39" r="1.35" fill="#df6a42"/><circle cx="81.3" cy="537.4" r="1.35" fill="#e5764e"/><circle cx="83" cy="537.84" r="1.35" fill="#df6a42"/><circle cx="84.7" cy="537.35" r="1.35" fill="#e5764e"/><circle cx="86.4" cy="537.28" r="1.35" fill="#e5764e"/><circle cx="88.1" cy="537.64" r="1.35" fill="#df6a42"/><circle cx="89.8" cy="537.39" r="1.35" fill="#ea845e"/><circle cx="91.5" cy="537.93" r="1.35" fill="#e5764e"/><circle cx="93.2" cy="537.82" r="1.35" fill="#e5764e"/><circle cx="94.9" cy="537.72" r="1.35" fill="#ea845e"/><circle cx="96.6" cy="537.27" r="1.35" fill="#e5764e"/><circle cx="98.3" cy="537.6" r="1.35" fill="#e5764e"/><circle cx="100" cy="537.59" r="1.35" fill="#df6a42"/><circle cx="101.7" cy="537.52" r="1.35" fill="#e5764e"/><circle cx="103.4" cy="537.79" r="1.35" fill="#e5764e"/><circle cx="105.1" cy="537.91" r="1.35" fill="#e5764e"/><circle cx="106.8" cy="537.54" r="1.35" fill="#e5764e"/><circle cx="108.5" cy="537.6" r="1.35" fill="#e5764e"/><circle cx="110.2" cy="537.67" r="1.35" fill="#e5764e"/><circle cx="111.9" cy="537.55" r="1.35" fill="#e5764e"/><circle cx="113.6" cy="537.95" r="1.35" fill="#e5764e"/><circle cx="115.3" cy="537.37" r="1.35" fill="#ea845e"/><circle cx="117" cy="537.31" r="1.35" fill="#e5764e"/><circle cx="118.7" cy="537.9" r="1.35" fill="#ea845e"/><circle cx="120.4" cy="537.36" r="1.35" fill="#e5764e"/><circle cx="122.1" cy="537.97" r="1.35" fill="#ea845e"/><circle cx="123.8" cy="537.99" r="1.35" fill="#ea845e"/><circle cx="125.5" cy="537.9" r="1.35" fill="#df6a42"/><circle cx="127.2" cy="537.63" r="1.35" fill="#df6a42"/><circle cx="128.9" cy="537.85" r="1.35" fill="#e5764e"/><circle cx="130.6" cy="537.3" r="1.35" fill="#df6a42"/><circle cx="132.3" cy="537.39" r="1.35" fill="#ea845e"/><circle cx="134" cy="537.26" r="1.35" fill="#ea845e"/><circle cx="135.7" cy="537.4" r="1.35" fill="#e5764e"/><circle cx="137.4" cy="537.68" r="1.35" fill="#ea845e"/><circle cx="139.1" cy="537.84" r="1.35" fill="#df6a42"/><circle cx="140.8" cy="537.23" r="1.35" fill="#e5764e"/><circle cx="142.5" cy="537.47" r="1.35" fill="#e5764e"/><circle cx="144.2" cy="537.6" r="1.35" fill="#ea845e"/><circle cx="145.9" cy="537.8" r="1.35" fill="#df6a42"/><circle cx="147.6" cy="537.97" r="1.35" fill="#ea845e"/><circle cx="149.3" cy="537.96" r="1.35" fill="#ea845e"/><circle cx="151" cy="537.46" r="1.35" fill="#df6a42"/><circle cx="152.7" cy="537.88" r="1.35" fill="#df6a42"/><circle cx="154.4" cy="537.66" r="1.35" fill="#df6a42"/><circle cx="156.1" cy="537.78" r="1.35" fill="#ea845e"/><circle cx="49.85" cy="540.09" r="1.35" fill="#ef9a7a"/><circle cx="51.55" cy="540.06" r="1.35" fill="#eb8c6a"/><circle cx="53.25" cy="540.17" r="1.35" fill="#f2a98c"/><circle cx="54.95" cy="540" r="1.35" fill="#eb8c6a"/><circle cx="56.65" cy="540.15" r="1.35" fill="#eb8c6a"/><circle cx="58.35" cy="539.98" r="1.35" fill="#eb8c6a"/><circle cx="60.05" cy="540.29" r="1.35" fill="#ef9a7a"/><circle cx="61.75" cy="539.91" r="1.35" fill="#eb8c6a"/><circle cx="63.45" cy="540.58" r="1.35" fill="#f2a98c"/><circle cx="65.15" cy="540.24" r="1.35" fill="#f2a98c"/><circle cx="66.85" cy="539.86" r="1.35" fill="#eb8c6a"/><circle cx="68.55" cy="540.1" r="1.35" fill="#ef9a7a"/><circle cx="70.25" cy="540.48" r="1.35" fill="#eb8c6a"/><circle cx="71.95" cy="539.93" r="1.35" fill="#f2a98c"/><circle cx="73.65" cy="539.88" r="1.35" fill="#ef9a7a"/><circle cx="75.35" cy="540.42" r="1.35" fill="#f2a98c"/><circle cx="77.05" cy="540.5" r="1.35" fill="#f2a98c"/><circle cx="78.75" cy="540.57" r="1.35" fill="#f2a98c"/><circle cx="80.45" cy="540.14" r="1.35" fill="#ef9a7a"/><circle cx="82.15" cy="540.39" r="1.35" fill="#ef9a7a"/><circle cx="83.85" cy="540.45" r="1.35" fill="#f2a98c"/><circle cx="85.55" cy="540.46" r="1.35" fill="#ef9a7a"/><circle cx="87.25" cy="540.28" r="1.35" fill="#eb8c6a"/><circle cx="88.95" cy="540.14" r="1.35" fill="#eb8c6a"/><circle cx="90.65" cy="540.42" r="1.35" fill="#ef9a7a"/><circle cx="92.35" cy="539.93" r="1.35" fill="#eb8c6a"/><circle cx="94.05" cy="540.28" r="1.35" fill="#eb8c6a"/><circle cx="95.75" cy="540.35" r="1.35" fill="#ef9a7a"/><circle cx="97.45" cy="540.48" r="1.35" fill="#eb8c6a"/><circle cx="99.15" cy="540.21" r="1.35" fill="#f2a98c"/><circle cx="100.85" cy="540.58" r="1.35" fill="#ef9a7a"/><circle cx="102.55" cy="539.92" r="1.35" fill="#f2a98c"/><circle cx="104.25" cy="540.37" r="1.35" fill="#eb8c6a"/><circle cx="105.95" cy="540.24" r="1.35" fill="#f2a98c"/><circle cx="107.65" cy="540.11" r="1.35" fill="#eb8c6a"/><circle cx="109.35" cy="540.31" r="1.35" fill="#eb8c6a"/><circle cx="111.05" cy="540.59" r="1.35" fill="#ef9a7a"/><circle cx="112.75" cy="540.41" r="1.35" fill="#ef9a7a"/><circle cx="114.45" cy="540.59" r="1.35" fill="#ef9a7a"/><circle cx="116.15" cy="540.54" r="1.35" fill="#ef9a7a"/><circle cx="117.85" cy="540.19" r="1.35" fill="#ef9a7a"/><circle cx="119.55" cy="540.17" r="1.35" fill="#eb8c6a"/><circle cx="121.25" cy="540.51" r="1.35" fill="#f2a98c"/><circle cx="122.95" cy="540.48" r="1.35" fill="#eb8c6a"/><circle cx="124.65" cy="540.6" r="1.35" fill="#f2a98c"/><circle cx="126.35" cy="540.27" r="1.35" fill="#f2a98c"/><circle cx="128.05" cy="540.59" r="1.35" fill="#eb8c6a"/><circle cx="129.75" cy="540.37" r="1.35" fill="#eb8c6a"/><circle cx="131.45" cy="540.25" r="1.35" fill="#ef9a7a"/><circle cx="133.15" cy="540.33" r="1.35" fill="#f2a98c"/><circle cx="134.85" cy="540.5" r="1.35" fill="#ef9a7a"/><circle cx="136.55" cy="540.12" r="1.35" fill="#ef9a7a"/><circle cx="138.25" cy="539.88" r="1.35" fill="#eb8c6a"/><circle cx="139.95" cy="539.85" r="1.35" fill="#f2a98c"/><circle cx="141.65" cy="540.18" r="1.35" fill="#eb8c6a"/><circle cx="143.35" cy="539.88" r="1.35" fill="#eb8c6a"/><circle cx="145.05" cy="540.18" r="1.35" fill="#eb8c6a"/><circle cx="146.75" cy="539.89" r="1.35" fill="#eb8c6a"/><circle cx="148.45" cy="539.91" r="1.35" fill="#f2a98c"/><circle cx="150.15" cy="540.49" r="1.35" fill="#eb8c6a"/><circle cx="151.85" cy="540.22" r="1.35" fill="#f2a98c"/><circle cx="153.55" cy="540.11" r="1.35" fill="#ef9a7a"/><circle cx="155.25" cy="540.53" r="1.35" fill="#eb8c6a"/><circle cx="156.95" cy="540.19" r="1.35" fill="#ef9a7a"/></g>
<g mask="url(#mBand)"><g mask="url(#mBand2)"><path d="M52,531 C53.83,530.42 59.33,529.08 63,527.5 C66.67,525.92 70.83,523.67 74,521.5 C77.17,519.33 79.58,517.08 82,514.5 C84.42,511.92 86.58,509 88.5,506 C90.42,503 92.08,499.83 93.5,496.5 C94.92,493.17 96.42,487.75 97,486" fill="none" stroke="#707070" stroke-width="6.8"/><path d="M52,531 C53.83,530.42 59.33,529.08 63,527.5 C66.67,525.92 70.83,523.67 74,521.5 C77.17,519.33 79.58,517.08 82,514.5 C84.42,511.92 86.58,509 88.5,506 C90.42,503 92.08,499.83 93.5,496.5 C94.92,493.17 96.42,487.75 97,486" fill="none" stroke="#383838" stroke-width="6.8" stroke-dasharray="0.9,1.5" opacity="0.75"/><path d="M49.8,529.2 C51.63,528.62 57.13,527.28 60.8,525.7 C64.47,524.12 68.63,521.87 71.8,519.7 C74.97,517.53 77.38,515.28 79.8,512.7 C82.22,510.12 84.38,507.2 86.3,504.2 C88.22,501.2 89.88,498.03 91.3,494.7 C92.72,491.37 94.22,485.95 94.8,484.2" fill="none" stroke="#c8c8c8" stroke-width="0.9" opacity="0.5"/><path d="M107,486 C107.58,487.75 109.08,493.17 110.5,496.5 C111.92,499.83 113.58,503.08 115.5,506 C117.42,508.92 119.58,511.5 122,514 C124.42,516.5 126.83,519 130,521 C133.17,523 137.17,524.83 141,526 C144.83,527.17 151,527.67 153,528" fill="none" stroke="#707070" stroke-width="6.8"/><path d="M107,486 C107.58,487.75 109.08,493.17 110.5,496.5 C111.92,499.83 113.58,503.08 115.5,506 C117.42,508.92 119.58,511.5 122,514 C124.42,516.5 126.83,519 130,521 C133.17,523 137.17,524.83 141,526 C144.83,527.17 151,527.67 153,528" fill="none" stroke="#383838" stroke-width="6.8" stroke-dasharray="0.9,1.5" opacity="0.75"/><path d="M104.8,484.2 C105.38,485.95 106.88,491.37 108.3,494.7 C109.72,498.03 111.38,501.28 113.3,504.2 C115.22,507.12 117.38,509.7 119.8,512.2 C122.22,514.7 124.63,517.2 127.8,519.2 C130.97,521.2 134.97,523.03 138.8,524.2 C142.63,525.37 148.8,525.87 150.8,526.2" fill="none" stroke="#c8c8c8" stroke-width="0.9" opacity="0.5"/></g></g>
<rect x="52.3" y="472.9" width="100.7" height="64.89999999999998" fill="none" stroke="#111" stroke-width="0.9" stroke-dasharray="2,1.3"/>
<text x="101.1" y="482.3" font-size="9.4" text-anchor="middle" stroke="#000" stroke-width="0.16">Graphene</text>
<text x="102.4" y="534.7" font-size="9.4" text-anchor="middle" stroke="#000" stroke-width="0.16">Interface</text>
<text x="101" y="554.8" font-size="10.2" text-anchor="middle" stroke="#000" stroke-width="0.16">CF surface</text>
<path d="M153,504.1 L174.5,504.1" stroke="#000" stroke-width="1"/><path d="M178.8,504.1 L172.6,501.8 L172.6,506.4 Z" fill="#000"/>
<text x="186.6" y="507.5" font-size="9.6" stroke="#000" stroke-width="0.16">Force</text>
<text x="243.3" y="469.2" font-size="13.5" font-weight="bold" stroke="#000" stroke-width="0.16">g</text>
<text x="305.2" y="469.8" font-size="9.8" stroke="#000" stroke-width="0.16"><tspan font-style="italic">sp</tspan><tspan dy="-3.1" font-size="5.88">3</tspan><tspan dy="3.1">C-</tspan><tspan font-style="italic">sp</tspan><tspan dy="-3.1" font-size="5.88">3</tspan><tspan dy="3.1">C</tspan></text>
<text x="413.8" y="469.8" font-size="9.8" stroke="#000" stroke-width="0.16"><tspan font-style="italic">sp</tspan><tspan dy="-3.1" font-size="5.88">3</tspan><tspan dy="3.1">C-</tspan><tspan font-style="italic">sp</tspan><tspan dy="-3.1" font-size="5.88">2</tspan><tspan dy="3.1">C</tspan></text>
<text x="514.2" y="469.8" font-size="9.8" stroke="#000" stroke-width="0.16"><tspan font-style="italic">sp</tspan><tspan dy="-3.1" font-size="5.88">2</tspan><tspan dy="3.1">C-</tspan><tspan font-style="italic">sp</tspan><tspan dy="-3.1" font-size="5.88">2</tspan><tspan dy="3.1">C</tspan></text>
<text x="614.8" y="469.8" font-size="9.8" stroke="#000" stroke-width="0.16"><tspan font-style="italic">sp</tspan><tspan dy="-3.1" font-size="5.88">2</tspan><tspan dy="3.1">C OOP</tspan></text>
<path d="M325,514.8 L300.4,525.3 M325,514.8 L351.8,523.6 M325,514.8 L334.6,536.4" stroke="#6b8fb8" stroke-width="0.8"/>
<path d="M325,490 L325,514.8" stroke="#c8101c" stroke-width="1.1"/>
<circle cx="325" cy="490" r="6.6" fill="url(#sB)" stroke="#4a86c6" stroke-width="0.9"/>
<circle cx="300.4" cy="525.3" r="6.6" fill="url(#sB)" stroke="#4a86c6" stroke-width="0.9"/>
<circle cx="351.8" cy="523.6" r="6.6" fill="url(#sB)" stroke="#4a86c6" stroke-width="0.9"/>
<circle cx="334.6" cy="536.4" r="6.6" fill="url(#sB)" stroke="#4a86c6" stroke-width="0.9"/>
<circle cx="325" cy="514.8" r="6.6" fill="url(#sB)" stroke="#4a86c6" stroke-width="0.9"/>
<path d="M340.2,502.2 L333.5,502.2" stroke="#c8101c" stroke-width="1.4"/><path d="M330.5,502.2 L334.5,499.9 L334.5,504.5 Z" fill="#c8101c"/>
<path d="M412.7,505.4 L431.1,510.2 M431.1,510.2 L455.6,510.2" stroke="#6b8fb8" stroke-width="0.8"/>
<path d="M406.3,519.9 L431.1,510.2" stroke="#c8101c" stroke-width="1.1"/>
<circle cx="412.7" cy="505.4" r="6.4" fill="url(#sB)" stroke="#4a86c6" stroke-width="0.9"/>
<circle cx="406.3" cy="519.9" r="6.6" fill="url(#sB)" stroke="#4a86c6" stroke-width="0.9"/>
<circle cx="431.1" cy="510.2" r="7" fill="url(#sO)" stroke="#d9834a" stroke-width="0.9"/>
<circle cx="455.6" cy="510.2" r="6.8" fill="url(#sO)" stroke="#d9834a" stroke-width="0.9"/>
<path d="M424.9,526.5 L421.7,520.6" stroke="#c8101c" stroke-width="1.4"/><path d="M420.1,517.6 L424.1,520.1 L420.1,522.3 Z" fill="#c8101c"/>
<path d="M516.6,505.4 L534.7,510.2 M510.1,519.9 L534.7,510.2" stroke="#6b8fb8" stroke-width="0.8"/>
<path d="M534.7,510.2 L559.1,510.2" stroke="#c8101c" stroke-width="1.1"/>
<circle cx="516.6" cy="505.4" r="6.4" fill="url(#sB)" stroke="#4a86c6" stroke-width="0.9"/>
<circle cx="510.1" cy="519.9" r="6.6" fill="url(#sB)" stroke="#4a86c6" stroke-width="0.9"/>
<circle cx="534.7" cy="510.2" r="7" fill="url(#sO)" stroke="#d9834a" stroke-width="0.9"/>
<circle cx="559.1" cy="510.2" r="6.8" fill="url(#sO)" stroke="#d9834a" stroke-width="0.9"/>
<path d="M546.8,522.6 L546.8,516.4" stroke="#c8101c" stroke-width="1.4"/><path d="M546.8,513.2 L549,517 L544.6,517 Z" fill="#c8101c"/>
<path d="M618,505.4 L636.8,507 M611.6,519.9 L636.8,507 M636.8,507 L661.2,510.2" stroke="#6b8fb8" stroke-width="0.8"/>
<circle cx="618" cy="505.4" r="6.4" fill="url(#sB)" stroke="#4a86c6" stroke-width="0.9"/>
<circle cx="611.6" cy="519.9" r="6.6" fill="url(#sB)" stroke="#4a86c6" stroke-width="0.9"/>
<circle cx="636.8" cy="507" r="7" fill="url(#sO)" stroke="#d9834a" stroke-width="0.9"/>
<circle cx="661.2" cy="510.2" r="6.8" fill="url(#sO)" stroke="#d9834a" stroke-width="0.9"/>
<path d="M636.8,498.4 L636.8,492" stroke="#c8101c" stroke-width="1.4"/><path d="M636.8,488.6 L639,492.6 L634.6,492.6 Z" fill="#c8101c"/>
<path d="M287.5,560.8 L287.5,643 L362.6,643" fill="none" stroke="#666" stroke-width="1"/>
<text x="285.2" y="646.4" font-size="9.6" text-anchor="end" stroke="#000" stroke-width="0.16">0.0</text>
<text x="285.2" y="619" font-size="9.6" text-anchor="end" stroke="#000" stroke-width="0.16">0.2</text>
<text x="285.2" y="591.6" font-size="9.6" text-anchor="end" stroke="#000" stroke-width="0.16">0.4</text>
<text x="285.2" y="564.2" font-size="9.6" text-anchor="end" stroke="#000" stroke-width="0.16">0.6</text>
<text x="312.53" y="655.3" font-size="9.6" text-anchor="middle" stroke="#000" stroke-width="0.16">0.02</text>
<text x="362.6" y="655.3" font-size="9.6" text-anchor="middle" stroke="#000" stroke-width="0.16">0.04</text>
<path d="M287.5,643 L286,643 M287.5,615.6 L286,615.6 M287.5,588.2 L286,588.2 M287.5,560.8 L286,560.8 M287.5,629.3 L286.5,629.3 M287.5,601.9 L286.5,601.9 M287.5,574.5 L286.5,574.5 M312.53,643 L312.53,645.6 M362.6,643 L362.6,645.6 M287.5,643 L287.5,644.4 M337.57,643 L337.57,644.4" stroke="#666" stroke-width="1"/>
<g clip-path="url(#cG0)"><path d="M287.5,640.28 L290.14,639.15 L292.78,637.95 L295.42,636.7 L298.07,635.38 L300.71,634 L303.35,632.55 L305.99,631.05 L308.63,629.48 L311.27,627.86 L313.91,626.17 L316.56,624.41 L319.2,622.6 L321.84,620.73 L324.48,618.79 L327.12,616.79 L329.76,614.73 L332.4,612.61 L335.04,610.42 L337.69,608.18 L340.33,605.87 L342.97,603.5 L345.61,601.07 L348.25,598.57 L350.89,596.02 L353.53,593.4 L356.18,590.72 L358.82,587.98 L361.46,585.18 L364.1,582.32" fill="none" stroke="#9ed3aa" stroke-width="0.8"/><circle cx="292.5" cy="637.8" r="1.8" fill="#5aa86a"/><circle cx="302.4" cy="633.2" r="1.8" fill="#5aa86a"/><circle cx="312.6" cy="625.5" r="1.8" fill="#5aa86a"/><circle cx="322.5" cy="623.9" r="1.8" fill="#5aa86a"/><circle cx="332.6" cy="612.5" r="1.8" fill="#5aa86a"/><circle cx="342.4" cy="601.2" r="1.8" fill="#5aa86a"/><circle cx="352.3" cy="594.3" r="1.8" fill="#5aa86a"/><circle cx="362.2" cy="585.5" r="1.8" fill="#5aa86a"/></g>
<text x="291.1" y="569.1" font-size="8.9" stroke="#000" stroke-width="0.16"><tspan font-style="italic">k</tspan> = 396.27 N m<tspan dy="-3.2" font-size="6">-1</tspan></text>
<text x="291.1" y="581.5" font-size="8.9" stroke="#000" stroke-width="0.16">R<tspan dy="-3.2" font-size="6">2</tspan><tspan dy="3.2"> = 0.99647</tspan></text>
<path d="M398.5,562.8 L398.5,643 L471,643" fill="none" stroke="#666" stroke-width="1"/>
<text x="396.2" y="646.4" font-size="9.6" text-anchor="end" stroke="#000" stroke-width="0.16">0.00</text>
<text x="396.2" y="619.67" font-size="9.6" text-anchor="end" stroke="#000" stroke-width="0.16">0.25</text>
<text x="396.2" y="592.93" font-size="9.6" text-anchor="end" stroke="#000" stroke-width="0.16">0.50</text>
<text x="396.2" y="566.2" font-size="9.6" text-anchor="end" stroke="#000" stroke-width="0.16">0.75</text>
<text x="425.84" y="655.3" font-size="9.6" text-anchor="middle" stroke="#000" stroke-width="0.16">0.02</text>
<text x="461.83" y="655.3" font-size="9.6" text-anchor="middle" stroke="#000" stroke-width="0.16">0.04</text>
<path d="M398.5,643 L397,643 M398.5,616.27 L397,616.27 M398.5,589.53 L397,589.53 M398.5,562.8 L397,562.8 M398.5,629.63 L397.5,629.63 M398.5,602.9 L397.5,602.9 M398.5,576.17 L397.5,576.17 M425.84,643 L425.84,645.6 M461.83,643 L461.83,645.6 M407.85,643 L407.85,644.4 M443.83,643 L443.83,644.4" stroke="#666" stroke-width="1"/>
<g clip-path="url(#cG1)"><path d="M398.5,640.71 L401.05,639.68 L403.6,638.53 L406.16,637.27 L408.71,635.89 L411.26,634.39 L413.81,632.78 L416.36,631.06 L418.91,629.21 L421.47,627.25 L424.02,625.18 L426.57,622.99 L429.12,620.68 L431.67,618.26 L434.22,615.72 L436.78,613.06 L439.33,610.29 L441.88,607.4 L444.43,604.4 L446.98,601.28 L449.53,598.05 L452.09,594.7 L454.64,591.23 L457.19,587.64 L459.74,583.94 L462.29,580.13 L464.84,576.2 L467.4,572.15 L469.95,567.99 L472.5,563.71" fill="none" stroke="#9ed3aa" stroke-width="0.8"/><circle cx="403.5" cy="638.2" r="1.8" fill="#5aa86a"/><circle cx="410.9" cy="634.8" r="1.8" fill="#5aa86a"/><circle cx="418.4" cy="629.9" r="1.8" fill="#5aa86a"/><circle cx="425.7" cy="623.9" r="1.8" fill="#5aa86a"/><circle cx="432.8" cy="617.4" r="1.8" fill="#5aa86a"/><circle cx="440.1" cy="609.1" r="1.8" fill="#5aa86a"/><circle cx="447.4" cy="600.5" r="1.8" fill="#5aa86a"/><circle cx="454.9" cy="590.8" r="1.8" fill="#5aa86a"/><circle cx="462.2" cy="580.1" r="1.8" fill="#5aa86a"/><circle cx="469.7" cy="568.7" r="1.8" fill="#5aa86a"/></g>
<text x="401.6" y="570.7" font-size="8.9" stroke="#000" stroke-width="0.16"><tspan font-style="italic">k</tspan> = 397.17 N m<tspan dy="-3.2" font-size="6">-1</tspan></text>
<text x="401.6" y="582.5" font-size="8.9" stroke="#000" stroke-width="0.16">R<tspan dy="-3.2" font-size="6">2</tspan><tspan dy="3.2"> = 0.99997</tspan></text>
<path d="M500.5,563.4 L500.5,643 L573.2,643" fill="none" stroke="#666" stroke-width="1"/>
<text x="498.2" y="646.4" font-size="9.6" text-anchor="end" stroke="#000" stroke-width="0.16">0.0</text>
<text x="498.2" y="619.87" font-size="9.6" text-anchor="end" stroke="#000" stroke-width="0.16">0.5</text>
<text x="498.2" y="593.33" font-size="9.6" text-anchor="end" stroke="#000" stroke-width="0.16">1.0</text>
<text x="498.2" y="566.8" font-size="9.6" text-anchor="end" stroke="#000" stroke-width="0.16">1.5</text>
<text x="527.53" y="655.3" font-size="9.6" text-anchor="middle" stroke="#000" stroke-width="0.16">0.02</text>
<text x="564.07" y="655.3" font-size="9.6" text-anchor="middle" stroke="#000" stroke-width="0.16">0.04</text>
<path d="M500.5,643 L499,643 M500.5,616.47 L499,616.47 M500.5,589.93 L499,589.93 M500.5,563.4 L499,563.4 M500.5,629.73 L499.5,629.73 M500.5,603.2 L499.5,603.2 M500.5,576.67 L499.5,576.67 M527.53,643 L527.53,645.6 M564.07,643 L564.07,645.6 M509.27,643 L509.27,644.4 M545.8,643 L545.8,644.4" stroke="#666" stroke-width="1"/>
<g clip-path="url(#cG2)"><path d="M500.5,642.65 L503.06,642 L505.62,641.22 L508.18,640.31 L510.73,639.28 L513.29,638.12 L515.85,636.84 L518.41,635.42 L520.97,633.89 L523.53,632.22 L526.09,630.43 L528.64,628.51 L531.2,626.47 L533.76,624.3 L536.32,622.01 L538.88,619.58 L541.44,617.04 L544,614.36 L546.56,611.56 L549.11,608.63 L551.67,605.58 L554.23,602.4 L556.79,599.09 L559.35,595.66 L561.91,592.1 L564.47,588.42 L567.02,584.6 L569.58,580.67 L572.14,576.6 L574.7,572.41" fill="none" stroke="#9ed3aa" stroke-width="0.8"/><circle cx="506.1" cy="641.1" r="1.8" fill="#5aa86a"/><circle cx="513.2" cy="638" r="1.8" fill="#5aa86a"/><circle cx="520.5" cy="634.2" r="1.8" fill="#5aa86a"/><circle cx="528" cy="629.1" r="1.8" fill="#5aa86a"/><circle cx="535.3" cy="623.2" r="1.8" fill="#5aa86a"/><circle cx="542.4" cy="615.9" r="1.8" fill="#5aa86a"/><circle cx="549.7" cy="607.8" r="1.8" fill="#5aa86a"/><circle cx="557.2" cy="598.5" r="1.8" fill="#5aa86a"/><circle cx="564.5" cy="588.4" r="1.8" fill="#5aa86a"/><circle cx="571.8" cy="577.2" r="1.8" fill="#5aa86a"/></g>
<text x="503.3" y="571.6" font-size="8.9" stroke="#000" stroke-width="0.16"><tspan font-style="italic">k</tspan> = 831.48 N m<tspan dy="-3.2" font-size="6">-1</tspan></text>
<text x="503.3" y="582.9" font-size="8.9" stroke="#000" stroke-width="0.16">R<tspan dy="-3.2" font-size="6">2</tspan><tspan dy="3.2"> = 0.99996</tspan></text>
<path d="M600.5,562.4 L600.5,642.5 L673.7,642.5" fill="none" stroke="#666" stroke-width="1"/>
<text x="598.2" y="645.9" font-size="9.6" text-anchor="end" stroke="#000" stroke-width="0.16">0.00</text>
<text x="598.2" y="619.2" font-size="9.6" text-anchor="end" stroke="#000" stroke-width="0.16">0.02</text>
<text x="598.2" y="592.5" font-size="9.6" text-anchor="end" stroke="#000" stroke-width="0.16">0.04</text>
<text x="598.2" y="565.8" font-size="9.6" text-anchor="end" stroke="#000" stroke-width="0.16">0.06</text>
<text x="632.46" y="654.8" font-size="9.6" text-anchor="middle" stroke="#000" stroke-width="0.16">0.04</text>
<text x="673.7" y="654.8" font-size="9.6" text-anchor="middle" stroke="#000" stroke-width="0.16">0.08</text>
<path d="M600.5,642.5 L599,642.5 M600.5,615.8 L599,615.8 M600.5,589.1 L599,589.1 M600.5,562.4 L599,562.4 M600.5,629.15 L599.5,629.15 M600.5,602.45 L599.5,602.45 M600.5,575.75 L599.5,575.75 M632.46,642.5 L632.46,645.1 M673.7,642.5 L673.7,645.1 M611.84,642.5 L611.84,643.9 M653.08,642.5 L653.08,643.9" stroke="#666" stroke-width="1"/>
<g clip-path="url(#cG3)"><path d="M600.5,637.21 L603.08,636.07 L605.65,634.86 L608.23,633.59 L610.8,632.24 L613.38,630.83 L615.96,629.36 L618.53,627.82 L621.11,626.21 L623.68,624.53 L626.26,622.79 L628.83,620.98 L631.41,619.1 L633.99,617.16 L636.56,615.15 L639.14,613.08 L641.71,610.93 L644.29,608.72 L646.87,606.45 L649.44,604.1 L652.02,601.69 L654.59,599.22 L657.17,596.67 L659.74,594.06 L662.32,591.39 L664.9,588.64 L667.47,585.83 L670.05,582.96 L672.62,580.01 L675.2,577" fill="none" stroke="#9ed3aa" stroke-width="0.8"/><circle cx="607.2" cy="634.3" r="1.8" fill="#5aa86a"/><circle cx="615.5" cy="629.5" r="1.8" fill="#5aa86a"/><circle cx="623.8" cy="624.2" r="1.8" fill="#5aa86a"/><circle cx="632.3" cy="618.5" r="1.8" fill="#5aa86a"/><circle cx="640.6" cy="611.9" r="1.8" fill="#5aa86a"/><circle cx="648.9" cy="604.6" r="1.8" fill="#5aa86a"/><circle cx="657.1" cy="596.9" r="1.8" fill="#5aa86a"/><circle cx="665.4" cy="588.2" r="1.8" fill="#5aa86a"/><circle cx="673.7" cy="578.6" r="1.8" fill="#5aa86a"/></g>
<text x="603.6" y="571.7" font-size="8.9" stroke="#000" stroke-width="0.16"><tspan font-style="italic">k</tspan> = 5.95 N m<tspan dy="-3.2" font-size="6">-1</tspan></text>
<text x="603.6" y="582.9" font-size="8.9" stroke="#000" stroke-width="0.16">R<tspan dy="-3.2" font-size="6">2</tspan><tspan dy="3.2"> = 0.99935</tspan></text>
<text x="485" y="676.2" font-size="11.6" text-anchor="middle" stroke="#000" stroke-width="0.16">Relative displacement (Å)</text>
<text transform="translate(269.5,601.8) rotate(-90)" font-size="12" text-anchor="middle" stroke="#000" stroke-width="0.16"><tspan>Δ</tspan><tspan font-style="italic">E</tspan><tspan> (kcal mol</tspan><tspan dy="-4.32" font-size="8.16">-1</tspan><tspan dy="4.32">)</tspan></text></svg></body></html>
